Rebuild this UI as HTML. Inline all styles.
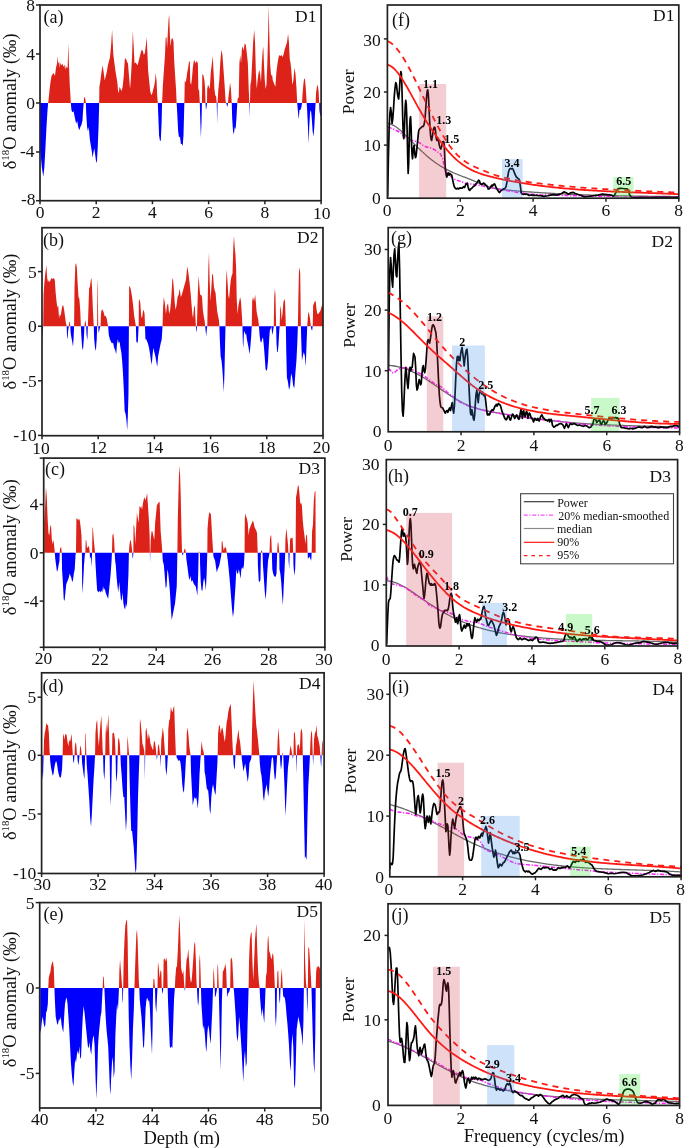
<!DOCTYPE html>
<html><head><meta charset="utf-8"><style>
html,body{margin:0;padding:0;background:#fff;}
body{width:685px;height:1148px;overflow:hidden;font-family:"Liberation Serif",serif;}
svg{display:block;will-change:transform;}
</style></head><body>
<svg width="685" height="1148" viewBox="0 0 685 1148" font-family="'Liberation Serif', serif">
<rect width="100%" height="100%" fill="#fff"/>
<path d="M40.12,103 L40.12,103 L41.81,103 L43.29,103 L44.35,103 L45.41,103 L46.47,103 L47.53,103 L48.16,103 L48.17,103 L48.58,99.49 L49.64,88.91 L50.7,80.44 L51.76,75.15 L52.82,74.09 L53.88,73.03 L54.93,76.21 L55.99,67.74 L57.05,63.51 L57.48,56.1 L58.11,63.51 L59.17,61.39 L59.8,67.74 L60.44,62.45 L61.29,65.62 L62.34,63.51 L63.4,66.68 L64.46,64.56 L65.1,69.86 L65.94,65.62 L66.58,67.74 L67.64,67.74 L68.27,43.4 L68.91,63.51 L69.75,84.67 L70.39,95.26 L70.81,103 L70.81,103 L71.45,103 L72.29,103 L73.56,103 L75.04,103 L76.1,103 L77.16,103 L78.22,103 L79.28,103 L80.34,103 L81.4,103 L82.45,103 L83.09,103 L83.72,103 L83.73,103 L84.15,97.38 L84.78,96.95 L85.42,99.49 L85.83,103 L85.84,103 L86.26,103 L87.11,103 L87.96,103 L88.8,103 L89.86,103 L90.92,103 L91.98,103 L92.61,103 L93.46,103 L94.31,103 L95.15,103 L96,103 L96.85,103 L97.7,103 L98.54,103 L99.18,103 L99.18,103 L99.39,86.79 L100.45,80.44 L101.51,71.97 L102.56,65.62 L103.62,71.97 L104.68,80.44 L105.74,76.21 L106.8,71.97 L107.86,65.62 L108.91,61.39 L109.97,57.15 L111.03,46.57 L112.09,29.64 L112.72,42.34 L113.36,55.04 L114.21,61.39 L115.27,69.86 L116.32,76.21 L117.38,82.56 L118.02,91.02 L118.86,93.14 L119.5,86.79 L120.56,88.91 L121.62,91.02 L122.67,86.79 L123.73,76.21 L124.79,59.27 L125.85,58.21 L126.91,61.39 L127.97,63.51 L129.02,76.21 L130.08,88.91 L131.14,74.09 L132.2,52.92 L132.83,30.69 L133.68,46.57 L134.53,63.51 L135.38,62.45 L136.43,63.51 L137.49,65.62 L138.55,61.39 L139.61,57.15 L140.67,52.92 L141.73,49.75 L142.78,50.8 L143.84,55.04 L144.9,52.92 L145.96,44.45 L146.59,37.04 L147.44,52.92 L148.08,69.86 L149.13,80.44 L150.19,91.02 L151.25,95.26 L152.31,93.14 L153.37,88.91 L154.43,84.67 L155.06,80.44 L155.7,73.03 L156.54,80.44 L157.18,95.26 L157.81,103 L157.81,103 L158.24,103 L159.08,103 L159.93,103 L160.78,103 L161.62,103 L162.05,103 L162.05,103 L162.89,84.67 L163.95,69.86 L165.01,55.04 L165.65,38.1 L166.49,37.04 L167.13,48.69 L167.76,33.87 L168.61,19.05 L169.24,14.82 L169.88,35.99 L170.51,46.57 L171.36,39.16 L172.42,38.1 L173.48,41.28 L174.11,59.27 L175.17,76.21 L176.02,88.91 L176.65,103 L176.65,103 L177.29,103 L178.14,103 L178.98,103 L179.83,103 L180.12,103 L180.89,103 L181.81,103 L182.66,103 L183.5,103 L184.35,103 L184.35,103 L184.77,80.44 L185.62,82.56 L186.47,78.32 L187.31,71.97 L188.16,67.74 L189.01,61.39 L189.85,61.39 L190.28,82.56 L191.12,84.67 L191.97,78.32 L192.82,67.74 L193.66,61.39 L194.51,60.33 L195.36,63.51 L196.2,61.39 L197.05,61.39 L197.9,63.51 L198.32,88.91 L199.17,91.02 L199.8,103 L199.8,103 L200.23,103 L200.86,103 L201.5,103 L201.92,103 L201.92,103 L202.34,74.09 L203.4,75.15 L204.46,80.44 L205.1,88.91 L205.52,103 L205.52,103 L205.94,103 L206.58,103 L207,103 L207,103 L207.21,88.91 L208.06,84.67 L208.91,86.79 L209.75,88.91 L210.81,71.97 L211.87,63.51 L212.72,56.1 L213.56,71.97 L214.41,88.91 L215.26,95.26 L216.1,96.32 L216.73,103 L216.74,103 L217.16,103 L217.59,103 L217.59,103 L218.22,91.02 L219.28,80.44 L220.34,61.39 L221.4,49.75 L222.45,55.04 L223.51,69.86 L224.57,84.67 L225.63,101.61 L226.23,103 L226.26,103 L226.69,103 L227.53,103 L227.96,103 L227.96,103 L228.38,97.38 L229.23,91.02 L230.07,82.56 L230.92,88.91 L231.76,103 L231.77,103 L232.19,103 L233.04,103 L233.88,103 L234.73,103 L235.58,103 L236.43,103 L237.27,103 L237.28,103 L237.7,98.43 L238.75,97.38 L239.39,63.51 L240.24,55.04 L241.08,63.51 L241.93,48.69 L242.78,46.57 L243.62,50.8 L244.68,43.4 L245.74,44.45 L246.8,52.92 L247.86,63.51 L248.7,88.91 L249.33,103 L249.34,103 L249.55,103 L249.97,103 L249.97,103 L250.4,84.67 L251.24,80.44 L252.09,63.51 L253.15,42.34 L254.21,29.64 L255.05,42.34 L255.9,74.09 L256.75,88.91 L257.59,80.44 L258.44,74.09 L259.29,69.86 L260.13,74.09 L260.98,82.56 L261.83,63.51 L262.67,50.8 L263.31,46.57 L263.94,63.51 L264.79,80.44 L265.64,88.91 L266.48,84.67 L267.33,63.51 L268.18,31.75 L268.6,5.29 L269.24,31.75 L270.08,63.51 L271.14,76.21 L271.99,74.09 L272.83,80.44 L273.68,82.56 L274.53,84.67 L275.38,86.79 L276.43,71.97 L277.49,63.51 L278.55,57.15 L279.61,55.04 L280.67,56.1 L281.73,55.04 L282.78,57.15 L283.84,52.92 L284.9,48.69 L285.96,45.51 L287.02,42.34 L288.08,33.87 L288.92,42.34 L289.77,59.27 L290.62,63.51 L291.46,71.97 L292.31,84.67 L293.37,80.44 L294.43,67.74 L295.49,74.09 L296.54,88.91 L297.17,103 L297.18,103 L297.81,103 L298.66,103 L299.51,103 L300.35,103 L301.2,103 L302.05,103 L302.05,103 L302.47,95.26 L303.32,84.67 L304.16,78.32 L305.01,79.38 L305.86,88.91 L306.7,103 L306.7,103 L307.13,103 L307.97,103 L308.61,103 L309.24,103 L310.09,103 L310.94,103 L311.78,103 L312.63,103 L313.48,103 L314.33,103 L315.17,103 L315.6,103 L315.6,103 L316.02,93.14 L316.87,86.79 L317.71,84.67 L318.56,91.02 L319.19,103 L319.19,103 L319.41,103 L320.25,103 L320.89,103 L320.89,103Z" fill="#dd2319"/>
<path d="M40.12,103 L40.12,148.18 L41.81,167.23 L43.29,176.76 L44.35,167.23 L45.41,148.18 L46.47,127.01 L47.53,110.08 L48.16,103.09 L48.17,103 L48.58,103 L49.64,103 L50.7,103 L51.76,103 L52.82,103 L53.88,103 L54.93,103 L55.99,103 L57.05,103 L57.48,103 L58.11,103 L59.17,103 L59.8,103 L60.44,103 L61.29,103 L62.34,103 L63.4,103 L64.46,103 L65.1,103 L65.94,103 L66.58,103 L67.64,103 L68.27,103 L68.91,103 L69.75,103 L70.39,103 L70.81,103 L70.81,103.09 L71.45,110.08 L72.29,112.19 L73.56,111.13 L75.04,118.54 L76.1,123.84 L77.16,120.66 L78.22,127.01 L79.28,130.19 L80.34,127.01 L81.4,124.89 L82.45,120.66 L83.09,110.08 L83.72,103.09 L83.73,103 L84.15,103 L84.78,103 L85.42,103 L85.83,103 L85.84,103.09 L86.26,114.31 L87.11,127.01 L87.96,131.24 L88.8,127.01 L89.86,139.71 L90.92,146.06 L91.98,152.41 L92.61,157.71 L93.46,152.41 L94.31,148.18 L95.15,154.53 L96,160.88 L96.85,163 L97.7,148.18 L98.54,127.01 L99.18,103.09 L99.18,103 L99.39,103 L100.45,103 L101.51,103 L102.56,103 L103.62,103 L104.68,103 L105.74,103 L106.8,103 L107.86,103 L108.91,103 L109.97,103 L111.03,103 L112.09,103 L112.72,103 L113.36,103 L114.21,103 L115.27,103 L116.32,103 L117.38,103 L118.02,103 L118.86,103 L119.5,103 L120.56,103 L121.62,103 L122.67,103 L123.73,103 L124.79,103 L125.85,103 L126.91,103 L127.97,103 L129.02,103 L130.08,103 L131.14,103 L132.2,103 L132.83,103 L133.68,103 L134.53,103 L135.38,103 L136.43,103 L137.49,103 L138.55,103 L139.61,103 L140.67,103 L141.73,103 L142.78,103 L143.84,103 L144.9,103 L145.96,103 L146.59,103 L147.44,103 L148.08,103 L149.13,103 L150.19,103 L151.25,103 L152.31,103 L153.37,103 L154.43,103 L155.06,103 L155.7,103 L156.54,103 L157.18,103 L157.81,103 L157.81,103.09 L158.24,114.31 L159.08,135.48 L159.93,140.77 L160.78,140.77 L161.62,122.78 L162.05,103.09 L162.05,103 L162.89,103 L163.95,103 L165.01,103 L165.65,103 L166.49,103 L167.13,103 L167.76,103 L168.61,103 L169.24,103 L169.88,103 L170.51,103 L171.36,103 L172.42,103 L173.48,103 L174.11,103 L175.17,103 L176.02,103 L176.65,103 L176.65,103.09 L177.29,114.31 L178.14,131.24 L178.98,137.6 L179.83,136.54 L180.12,137.6 L180.89,143.95 L181.81,143.95 L182.66,146.06 L183.5,135.48 L184.35,103.09 L184.35,103 L184.77,103 L185.62,103 L186.47,103 L187.31,103 L188.16,103 L189.01,103 L189.85,103 L190.28,103 L191.12,103 L191.97,103 L192.82,103 L193.66,103 L194.51,103 L195.36,103 L196.2,103 L197.05,103 L197.9,103 L198.32,103 L199.17,103 L199.8,103 L199.8,103.09 L200.23,118.54 L200.86,137.6 L201.5,122.78 L201.92,103.09 L201.92,103 L202.34,103 L203.4,103 L204.46,103 L205.1,103 L205.52,103 L205.52,103.09 L205.94,110.08 L206.58,106.9 L207,103.09 L207,103 L207.21,103 L208.06,103 L208.91,103 L209.75,103 L210.81,103 L211.87,103 L212.72,103 L213.56,103 L214.41,103 L215.26,103 L216.1,103 L216.73,103 L216.74,103.09 L217.16,123.84 L217.59,103.09 L217.59,103 L218.22,103 L219.28,103 L220.34,103 L221.4,103 L222.45,103 L223.51,103 L224.57,103 L225.63,103 L226.23,103 L226.26,103.09 L226.69,104.78 L227.53,106.9 L227.96,103.09 L227.96,103 L228.38,103 L229.23,103 L230.07,103 L230.92,103 L231.76,103 L231.77,103.09 L232.19,118.54 L233.04,131.24 L233.88,134.42 L234.73,127.01 L235.58,129.13 L236.43,118.54 L237.27,103.09 L237.28,103 L237.7,103 L238.75,103 L239.39,103 L240.24,103 L241.08,103 L241.93,103 L242.78,103 L243.62,103 L244.68,103 L245.74,103 L246.8,103 L247.86,103 L248.7,103 L249.33,103 L249.34,103.09 L249.55,117.49 L249.97,103.09 L249.97,103 L250.4,103 L251.24,103 L252.09,103 L253.15,103 L254.21,103 L255.05,103 L255.9,103 L256.75,103 L257.59,103 L258.44,103 L259.29,103 L260.13,103 L260.98,103 L261.83,103 L262.67,103 L263.31,103 L263.94,103 L264.79,103 L265.64,103 L266.48,103 L267.33,103 L268.18,103 L268.6,103 L269.24,103 L270.08,103 L271.14,103 L271.99,103 L272.83,103 L273.68,103 L274.53,103 L275.38,103 L276.43,103 L277.49,103 L278.55,103 L279.61,103 L280.67,103 L281.73,103 L282.78,103 L283.84,103 L284.9,103 L285.96,103 L287.02,103 L288.08,103 L288.92,103 L289.77,103 L290.62,103 L291.46,103 L292.31,103 L293.37,103 L294.43,103 L295.49,103 L296.54,103 L297.17,103 L297.18,103.09 L297.81,110.08 L298.66,119.6 L299.51,110.08 L300.35,110.08 L301.2,107.96 L302.05,103.09 L302.05,103 L302.47,103 L303.32,103 L304.16,103 L305.01,103 L305.86,103 L306.7,103 L306.7,103.09 L307.13,110.08 L307.97,127.01 L308.61,143.95 L309.24,127.01 L310.09,112.19 L310.94,110.08 L311.78,118.54 L312.63,131.24 L313.48,136.54 L314.33,127.01 L315.17,110.08 L315.6,103.09 L315.6,103 L316.02,103 L316.87,103 L317.71,103 L318.56,103 L319.19,103 L319.19,103.09 L319.41,110.08 L320.25,116.43 L320.89,114.31 L320.89,103Z" fill="#0000ff"/>
<rect x="40.0" y="5.0" width="281.10" height="195.70" fill="none" stroke="#222" stroke-width="1.7"/>
<line x1="36.0" y1="5.0" x2="40.0" y2="5.0" stroke="#222" stroke-width="1.5"/>
<line x1="36.0" y1="54.0" x2="40.0" y2="54.0" stroke="#222" stroke-width="1.5"/>
<line x1="36.0" y1="103.0" x2="40.0" y2="103.0" stroke="#222" stroke-width="1.5"/>
<line x1="36.0" y1="152.0" x2="40.0" y2="152.0" stroke="#222" stroke-width="1.5"/>
<line x1="36.0" y1="200.7" x2="40.0" y2="200.7" stroke="#222" stroke-width="1.5"/>
<line x1="40.00" y1="200.7" x2="40.00" y2="204.2" stroke="#222" stroke-width="1.5"/>
<line x1="96.22" y1="200.7" x2="96.22" y2="204.2" stroke="#222" stroke-width="1.5"/>
<line x1="152.44" y1="200.7" x2="152.44" y2="204.2" stroke="#222" stroke-width="1.5"/>
<line x1="208.66" y1="200.7" x2="208.66" y2="204.2" stroke="#222" stroke-width="1.5"/>
<line x1="264.88" y1="200.7" x2="264.88" y2="204.2" stroke="#222" stroke-width="1.5"/>
<line x1="321.10" y1="200.7" x2="321.10" y2="204.2" stroke="#222" stroke-width="1.5"/>
<path d="M42.12,326.2 L42.12,326.2 L42.75,326.2 L43.16,326.2 L43.18,325.97 L43.6,294.86 L44.23,284.27 L45.29,273.69 L46.35,265.22 L47.2,277.92 L48.04,282.15 L48.89,280.04 L49.74,282.15 L50.58,280.04 L51.64,277.92 L52.7,278.98 L53.76,277.92 L54.82,280.04 L55.66,292.74 L56.51,301.21 L57.36,307.56 L58.2,305.44 L59.05,318.14 L59.9,313.91 L60.75,316.02 L61.59,309.67 L62.44,305.44 L63.29,305.44 L64.13,309.67 L64.98,316.02 L65.83,322.38 L66.67,325.97 L66.68,326.2 L67.1,326.2 L67.52,326.2 L68.15,326.2 L68.76,326.2 L68.79,325.97 L69.21,322.38 L69.64,321.32 L70.27,325.97 L70.28,326.2 L70.69,326.2 L71.33,326.2 L72.18,326.2 L73.02,326.2 L73.66,326.2 L74.07,326.2 L74.08,325.97 L74.5,288.51 L75.35,265.22 L75.99,263.1 L76.83,267.34 L77.68,284.27 L78.53,296.97 L79.37,299.09 L80.22,309.67 L80.86,325.97 L80.87,326.2 L81.28,326.2 L82.13,326.2 L82.97,326.2 L83.82,326.2 L84.44,326.2 L84.45,325.97 L84.88,322.38 L85.51,320.26 L86.15,325.97 L86.16,326.2 L86.57,326.2 L87.42,326.2 L87.83,326.2 L87.84,325.97 L88.26,313.91 L89.11,288.51 L89.96,286.39 L90.8,280.04 L91.44,277.92 L92.07,288.51 L92.92,309.67 L93.77,325.97 L93.78,326.2 L94.19,326.2 L95.04,326.2 L95.88,326.2 L96.73,326.2 L97.15,326.2 L97.15,325.97 L97.37,277.92 L97.79,288.51 L98.21,325.97 L98.23,326.2 L98.64,326.2 L99.27,326.2 L99.91,326.2 L100.46,326.2 L100.54,325.97 L100.97,313.91 L101.6,309.67 L102.45,309.67 L103.51,311.79 L104.56,316.02 L105.62,316.02 L106.68,318.14 L107.74,324.49 L108.16,325.97 L108.18,326.2 L108.8,326.2 L109.86,326.2 L110.91,326.2 L111.97,326.2 L113.03,326.2 L114.09,326.2 L115.15,326.2 L116.21,326.2 L117.05,326.2 L117.9,326.2 L118.75,326.2 L119.59,326.2 L120.44,326.2 L121.29,326.2 L122.13,326.2 L122.98,326.2 L123.83,326.2 L124.67,326.2 L125.52,326.2 L126.37,326.2 L127.21,326.2 L127.85,326.2 L128.48,326.2 L128.91,326.2 L128.91,325.97 L129.12,286.39 L129.97,286.39 L131.02,290.62 L132.08,296.97 L133.14,305.44 L134.2,316.02 L135.26,322.38 L135.89,325.97 L135.9,326.2 L136.32,326.2 L136.95,326.2 L137.8,326.2 L138.63,326.2 L138.65,325.97 L138.86,301.21 L139.49,299.09 L140.34,303.32 L141.19,316.02 L142.03,318.14 L142.88,311.79 L143.73,309.67 L144.57,313.91 L145,325.97 L145,326.2 L145.42,326.2 L146.27,326.2 L147.11,326.2 L147.96,326.2 L149.02,326.2 L150.08,326.2 L150.92,326.2 L151.77,326.2 L152.62,326.2 L153.46,326.2 L154.31,326.2 L155.37,326.2 L156.43,326.2 L157.27,326.2 L158.12,326.2 L158.97,326.2 L159.81,326.2 L160.66,326.2 L161.72,326.2 L162.55,326.2 L162.57,325.97 L162.99,309.67 L163.84,296.97 L164.89,303.32 L165.95,313.91 L167.01,305.44 L168.07,303.32 L169.13,313.91 L170.19,309.67 L171.24,299.09 L172.3,280.04 L172.94,277.92 L173.78,288.51 L174.63,301.21 L175.48,309.67 L176.54,305.44 L177.6,296.97 L178.65,294.86 L179.71,288.51 L180.77,296.97 L181.83,294.86 L185.93,280.04 L186.77,271.57 L187.41,266.28 L188.47,273.69 L189.53,282.15 L190.58,292.74 L191.64,305.44 L192.28,313.91 L193.12,318.14 L193.97,307.56 L194.82,305.44 L195.45,318.14 L195.88,325.97 L195.89,326.2 L196.09,326.2 L196.51,326.2 L196.92,326.2 L196.93,325.97 L197.36,309.67 L197.99,288.51 L198.63,275.8 L199.26,284.27 L200.11,294.86 L201.17,294.86 L202.02,296.97 L202.86,309.67 L203.71,316.02 L204.56,320.26 L205.19,325.97 L205.21,326.2 L205.61,326.2 L206.25,326.2 L206.88,326.2 L207.27,326.2 L207.31,325.97 L207.73,299.09 L208.37,267.34 L209,252.52 L209.64,280.04 L210.48,301.21 L211.33,288.51 L212.18,273.69 L213.02,274.75 L213.87,286.39 L214.72,290.62 L215.56,292.74 L216.41,303.32 L217.26,311.79 L218.1,316.02 L218.95,320.26 L219.37,325.97 L219.38,326.2 L219.8,326.2 L220.64,326.2 L221.49,326.2 L222.34,326.2 L223.18,326.2 L223.82,326.2 L224.45,326.2 L225.09,326.2 L225.51,326.2 L225.51,325.97 L225.94,288.51 L226.57,269.45 L227.42,280.04 L228.26,294.86 L229.11,299.09 L229.96,288.51 L230.8,280.04 L231.65,275.8 L232.5,273.69 L233.34,246.17 L233.98,235.58 L234.61,246.17 L235.46,254.64 L236.1,267.34 L236.73,299.09 L237.58,313.91 L238.43,305.44 L239.27,301.21 L240.12,296.97 L240.97,301.21 L241.81,313.91 L242.45,325.97 L242.45,326.2 L242.87,326.2 L243.29,326.2 L243.93,326.2 L244.56,326.2 L245.2,326.2 L246.05,326.2 L246.89,326.2 L247.74,326.2 L248.59,326.2 L249.43,326.2 L250.28,326.2 L251.13,326.2 L251.75,326.2 L251.76,325.97 L252.18,301.21 L253.03,296.97 L254.09,301.21 L255.15,294.86 L255.78,301.21 L256.63,311.79 L257.48,316.02 L258.32,320.26 L258.96,325.97 L258.97,326.2 L259.59,326.2 L260.44,326.2 L261.29,326.2 L262.13,326.2 L262.98,326.2 L263.83,326.2 L264.67,326.2 L265.52,326.2 L266.37,326.2 L267.21,326.2 L268.06,326.2 L268.91,326.2 L269.75,326.2 L270.6,326.2 L271.45,326.2 L272.29,326.2 L273.14,326.2 L273.75,326.2 L273.78,325.97 L274.2,299.09 L274.83,288.51 L275.47,294.86 L276.1,325.97 L276.11,326.2 L276.53,326.2 L277.16,326.2 L277.8,326.2 L278.43,326.2 L279.28,326.2 L279.68,326.2 L279.7,325.97 L280.13,309.67 L280.76,305.44 L281.61,320.26 L282.46,313.91 L283.3,303.32 L284.15,299.09 L285,301.21 L285.84,325.97 L285.85,326.2 L286.27,326.2 L286.9,326.2 L287.96,326.2 L289.02,326.2 L290.08,326.2 L291.13,326.2 L292.19,326.2 L293.25,326.2 L294.31,326.2 L295.37,326.2 L296.43,326.2 L297.27,326.2 L297.9,326.2 L297.91,325.97 L298.33,299.09 L298.97,271.57 L299.6,267.34 L300.24,273.69 L300.87,325.97 L300.88,326.2 L301.3,326.2 L301.93,326.2 L302.78,326.2 L303.84,326.2 L304.89,326.2 L305.74,326.2 L306.59,326.2 L307.21,326.2 L307.22,325.97 L307.65,320.26 L308.28,311.79 L309.13,313.91 L309.97,318.14 L310.82,325.97 L310.86,326.2 L311.24,326.2 L312.09,326.2 L312.7,326.2 L312.73,325.97 L313.15,305.44 L314,303.32 L314.84,301.21 L315.69,301.21 L316.54,309.67 L317.38,313.91 L318.23,313.91 L319.08,312.85 L319.92,311.79 L320.77,309.67 L321.83,305.44 L322.89,305.44 L322.89,326.2Z" fill="#dd2319"/>
<path d="M42.12,326.2 L42.12,339.31 L42.75,330.84 L43.16,326.2 L43.18,326.2 L43.6,326.2 L44.23,326.2 L45.29,326.2 L46.35,326.2 L47.2,326.2 L48.04,326.2 L48.89,326.2 L49.74,326.2 L50.58,326.2 L51.64,326.2 L52.7,326.2 L53.76,326.2 L54.82,326.2 L55.66,326.2 L56.51,326.2 L57.36,326.2 L58.2,326.2 L59.05,326.2 L59.9,326.2 L60.75,326.2 L61.59,326.2 L62.44,326.2 L63.29,326.2 L64.13,326.2 L64.98,326.2 L65.83,326.2 L66.67,326.2 L66.68,326.2 L67.1,337.19 L67.52,339.31 L68.15,330.84 L68.76,326.2 L68.79,326.2 L69.21,326.2 L69.64,326.2 L70.27,326.2 L70.28,326.2 L70.69,332.96 L71.33,337.19 L72.18,341.43 L73.02,346.72 L73.66,337.19 L74.07,326.2 L74.08,326.2 L74.5,326.2 L75.35,326.2 L75.99,326.2 L76.83,326.2 L77.68,326.2 L78.53,326.2 L79.37,326.2 L80.22,326.2 L80.86,326.2 L80.87,326.2 L81.28,335.08 L82.13,347.78 L82.97,349.89 L83.82,339.31 L84.44,326.2 L84.45,326.2 L84.88,326.2 L85.51,326.2 L86.15,326.2 L86.16,326.2 L86.57,335.08 L87.42,340.37 L87.83,326.2 L87.84,326.2 L88.26,326.2 L89.11,326.2 L89.96,326.2 L90.8,326.2 L91.44,326.2 L92.07,326.2 L92.92,326.2 L93.77,326.2 L93.78,326.2 L94.19,339.31 L95.04,347.78 L95.88,350.95 L96.73,339.31 L97.15,326.2 L97.15,326.2 L97.37,326.2 L97.79,326.2 L98.21,326.2 L98.23,326.2 L98.64,332.96 L99.27,330.84 L99.91,327.67 L100.46,326.2 L100.54,326.2 L100.97,326.2 L101.6,326.2 L102.45,326.2 L103.51,326.2 L104.56,326.2 L105.62,326.2 L106.68,326.2 L107.74,326.2 L108.16,326.2 L108.18,326.2 L108.8,335.08 L109.86,339.31 L110.91,341.43 L111.97,343.54 L113.03,342.49 L114.09,347.78 L115.15,349.89 L116.21,354.13 L117.05,343.54 L117.9,339.31 L118.75,343.54 L119.59,341.43 L120.44,347.78 L121.29,352.01 L122.13,360.48 L122.98,373.18 L123.83,390.11 L124.67,411.28 L125.52,413.4 L126.37,419.75 L127.21,430.33 L127.85,415.52 L128.48,394.35 L128.91,326.2 L128.91,326.2 L129.12,326.2 L129.97,326.2 L131.02,326.2 L132.08,326.2 L133.14,326.2 L134.2,326.2 L135.26,326.2 L135.89,326.2 L135.9,326.2 L136.32,341.43 L136.95,342.49 L137.8,342.49 L138.63,326.2 L138.65,326.2 L138.86,326.2 L139.49,326.2 L140.34,326.2 L141.19,326.2 L142.03,326.2 L142.88,326.2 L143.73,326.2 L144.57,326.2 L145,326.2 L145,326.2 L145.42,339.31 L146.27,339.31 L147.11,341.43 L147.96,343.54 L149.02,347.78 L150.08,354.13 L150.92,360.48 L151.77,364.71 L152.62,354.13 L153.46,347.78 L154.31,352.01 L155.37,356.24 L156.43,362.6 L157.27,366.83 L158.12,356.24 L158.97,352.01 L159.81,347.78 L160.66,343.54 L161.72,339.31 L162.55,326.2 L162.57,326.2 L162.99,326.2 L163.84,326.2 L164.89,326.2 L165.95,326.2 L167.01,326.2 L168.07,326.2 L169.13,326.2 L170.19,326.2 L171.24,326.2 L172.3,326.2 L172.94,326.2 L173.78,326.2 L174.63,326.2 L175.48,326.2 L176.54,326.2 L177.6,326.2 L178.65,326.2 L179.71,326.2 L180.77,326.2 L181.83,326.2 L185.93,326.2 L186.77,326.2 L187.41,326.2 L188.47,326.2 L189.53,326.2 L190.58,326.2 L191.64,326.2 L192.28,326.2 L193.12,326.2 L193.97,326.2 L194.82,326.2 L195.45,326.2 L195.88,326.2 L195.89,326.2 L196.09,330.84 L196.51,331.9 L196.92,326.2 L196.93,326.2 L197.36,326.2 L197.99,326.2 L198.63,326.2 L199.26,326.2 L200.11,326.2 L201.17,326.2 L202.02,326.2 L202.86,326.2 L203.71,326.2 L204.56,326.2 L205.19,326.2 L205.21,326.2 L205.61,330.84 L206.25,336.13 L206.88,328.73 L207.27,326.2 L207.31,326.2 L207.73,326.2 L208.37,326.2 L209,326.2 L209.64,326.2 L210.48,326.2 L211.33,326.2 L212.18,326.2 L213.02,326.2 L213.87,326.2 L214.72,326.2 L215.56,326.2 L216.41,326.2 L217.26,326.2 L218.1,326.2 L218.95,326.2 L219.37,326.2 L219.38,326.2 L219.8,339.31 L220.64,356.24 L221.49,360.48 L222.34,368.95 L223.18,381.65 L223.82,392.23 L224.45,373.18 L225.09,343.54 L225.51,326.2 L225.51,326.2 L225.94,326.2 L226.57,326.2 L227.42,326.2 L228.26,326.2 L229.11,326.2 L229.96,326.2 L230.8,326.2 L231.65,326.2 L232.5,326.2 L233.34,326.2 L233.98,326.2 L234.61,326.2 L235.46,326.2 L236.1,326.2 L236.73,326.2 L237.58,326.2 L238.43,326.2 L239.27,326.2 L240.12,326.2 L240.97,326.2 L241.81,326.2 L242.45,326.2 L242.45,326.2 L242.87,343.54 L243.29,347.78 L243.93,332.96 L244.56,330.84 L245.2,335.08 L246.05,332.96 L246.89,339.31 L247.74,343.54 L248.59,347.78 L249.43,354.13 L250.28,347.78 L251.13,337.19 L251.75,326.2 L251.76,326.2 L252.18,326.2 L253.03,326.2 L254.09,326.2 L255.15,326.2 L255.78,326.2 L256.63,326.2 L257.48,326.2 L258.32,326.2 L258.96,326.2 L258.97,326.2 L259.59,335.08 L260.44,341.43 L261.29,342.49 L262.13,339.31 L262.98,337.19 L263.83,345.66 L264.67,356.24 L265.52,368.95 L266.37,371.06 L267.21,368.95 L268.06,360.48 L268.91,343.54 L269.75,330.84 L270.6,328.73 L271.45,326.61 L272.29,335.08 L273.14,330.84 L273.75,326.2 L273.78,326.2 L274.2,326.2 L274.83,326.2 L275.47,326.2 L276.1,326.2 L276.11,326.2 L276.53,343.54 L277.16,352.01 L277.8,352.01 L278.43,345.66 L279.28,330.84 L279.68,326.2 L279.7,326.2 L280.13,326.2 L280.76,326.2 L281.61,326.2 L282.46,326.2 L283.3,326.2 L284.15,326.2 L285,326.2 L285.84,326.2 L285.85,326.2 L286.27,352.01 L286.9,377.41 L287.96,381.65 L289.02,390.11 L290.08,385.88 L291.13,373.18 L292.19,377.41 L293.25,385.88 L294.31,388 L295.37,373.18 L296.43,360.48 L297.27,343.54 L297.9,326.2 L297.91,326.2 L298.33,326.2 L298.97,326.2 L299.6,326.2 L300.24,326.2 L300.87,326.2 L300.88,326.2 L301.3,341.43 L301.93,360.48 L302.78,356.24 L303.84,352.01 L304.89,356.24 L305.74,366.83 L306.59,343.54 L307.21,326.2 L307.22,326.2 L307.65,326.2 L308.28,326.2 L309.13,326.2 L309.97,326.2 L310.82,326.2 L310.86,326.2 L311.24,328.73 L312.09,330.84 L312.7,326.2 L312.73,326.2 L313.15,326.2 L314,326.2 L314.84,326.2 L315.69,326.2 L316.54,326.2 L317.38,326.2 L318.23,326.2 L319.08,326.2 L319.92,326.2 L320.77,326.2 L321.83,326.2 L322.89,326.2 L322.89,326.2Z" fill="#0000ff"/>
<rect x="42.0" y="227.7" width="281.00" height="208.00" fill="none" stroke="#222" stroke-width="1.7"/>
<line x1="38.0" y1="271.6" x2="42.0" y2="271.6" stroke="#222" stroke-width="1.5"/>
<line x1="38.0" y1="326.2" x2="42.0" y2="326.2" stroke="#222" stroke-width="1.5"/>
<line x1="38.0" y1="380.8" x2="42.0" y2="380.8" stroke="#222" stroke-width="1.5"/>
<line x1="38.0" y1="435.4" x2="42.0" y2="435.4" stroke="#222" stroke-width="1.5"/>
<line x1="42.00" y1="435.7" x2="42.00" y2="439.2" stroke="#222" stroke-width="1.5"/>
<line x1="98.20" y1="435.7" x2="98.20" y2="439.2" stroke="#222" stroke-width="1.5"/>
<line x1="154.40" y1="435.7" x2="154.40" y2="439.2" stroke="#222" stroke-width="1.5"/>
<line x1="210.60" y1="435.7" x2="210.60" y2="439.2" stroke="#222" stroke-width="1.5"/>
<line x1="266.80" y1="435.7" x2="266.80" y2="439.2" stroke="#222" stroke-width="1.5"/>
<line x1="323.00" y1="435.7" x2="323.00" y2="439.2" stroke="#222" stroke-width="1.5"/>
<path d="M44.23,552.8 L44.23,522.74 L45.08,507.92 L45.93,486.75 L46.77,497.34 L47.62,518.51 L48.47,533.32 L49.31,535.44 L50.16,526.97 L51.01,524.86 L51.85,539.67 L52.7,543.91 L53.55,539.67 L54.39,548.14 L54.82,552.8 L54.82,552.8 L55.24,552.8 L56.09,552.8 L56.93,552.8 L57.78,552.8 L58.63,552.8 L59.48,552.8 L59.69,552.8 L59.69,552.8 L60.11,548.14 L61.17,547.08 L61.8,552.8 L61.8,552.8 L62.02,552.8 L62.86,552.8 L63.71,552.8 L64.56,552.8 L65.4,552.8 L66.25,552.8 L67.1,552.8 L67.94,552.8 L68.79,552.8 L69.64,552.8 L70.48,552.8 L71.33,552.8 L72.18,552.8 L73.02,552.8 L73.87,552.8 L74.72,552.8 L75.56,552.8 L75.99,552.8 L75.99,552.8 L76.41,518.51 L77.26,518.51 L78.1,520.62 L78.95,518.51 L79.8,520.62 L80.64,526.97 L81.49,535.44 L81.91,552.8 L81.91,552.8 L82.13,552.8 L82.55,552.8 L83.18,552.8 L84.03,552.8 L84.88,552.8 L85.3,552.8 L85.3,552.8 L85.72,539.67 L86.36,540.73 L86.99,548.14 L87.84,547.08 L88.69,546.02 L89.32,548.14 L89.75,552.8 L89.75,552.8 L89.96,552.8 L90.8,552.8 L91.44,552.8 L92.07,552.8 L92.07,552.8 L92.5,526.97 L92.92,528.03 L93.77,539.67 L94.61,548.14 L95.04,552.8 L95.04,552.8 L95.46,552.8 L96.31,552.8 L97.15,552.8 L98,552.8 L98.85,552.8 L99.7,552.8 L100.54,552.8 L101.39,552.8 L102.24,552.8 L103.08,552.8 L103.93,552.8 L104.78,552.8 L105.62,552.8 L106.47,552.8 L107.32,552.8 L108.16,552.8 L109.01,552.8 L109.86,552.8 L110.7,552.8 L111.55,552.8 L111.97,552.8 L111.97,552.8 L112.4,535.44 L113.24,533.32 L114.09,539.67 L114.72,552.8 L114.72,552.8 L115.15,552.8 L115.78,552.8 L116.63,552.8 L117.48,552.8 L118.32,552.8 L119.17,552.8 L120.02,552.8 L120.86,552.8 L121.71,552.8 L122.56,552.8 L123.4,552.8 L124.25,552.8 L125.1,552.8 L125.94,552.8 L126.79,552.8 L127.64,552.8 L128.48,552.8 L128.91,552.8 L128.91,552.8 L129.33,546.02 L130.18,539.67 L131.02,541.79 L131.87,548.14 L132.29,552.8 L132.29,552.8 L132.51,552.8 L133.14,552.8 L133.35,552.8 L133.35,552.8 L133.56,524.86 L134.41,526.97 L135.26,543.91 L136.1,529.09 L136.95,512.15 L137.8,518.51 L138.65,522.74 L139.49,505.8 L140.34,507.92 L141.19,505.8 L142.03,510.04 L142.88,503.69 L143.73,499.45 L144.57,497.34 L145.42,500.51 L146.27,497.34 L147.11,493.1 L147.96,505.8 L148.81,518.51 L149.65,535.44 L149.86,552.8 L149.86,552.8 L150.08,552.8 L150.29,552.8 L150.29,552.8 L150.71,539.67 L151.56,531.21 L152.4,531.21 L153.25,535.44 L154.31,539.67 L155.16,522.74 L156,514.27 L156.85,505.8 L157.7,503.69 L158.54,502.63 L159.6,501.57 L160.66,531.21 L161.72,543.91 L162.35,552.8 L162.35,552.8 L162.78,552.8 L163.84,552.8 L164.89,552.8 L165.74,552.8 L166.59,552.8 L167.43,552.8 L168.28,552.8 L169.13,552.8 L169.97,552.8 L170.82,552.8 L171.67,552.8 L172.51,552.8 L173.36,552.8 L174.21,552.8 L175.06,552.8 L175.9,552.8 L176.75,552.8 L177.38,552.8 L177.38,552.8 L177.81,518.51 L178.65,486.75 L179.29,465.58 L180.14,476.17 L180.77,497.34 L181.41,529.09 L182.04,552.8 L182.04,552.8 L182.46,552.8 L183.1,552.8 L183.52,552.8 L183.52,552.8 L184.66,548.14 L185.5,550.26 L185.93,552.8 L185.93,552.8 L186.35,552.8 L187.2,552.8 L188.04,552.8 L188.89,552.8 L189.74,552.8 L190.58,552.8 L191.43,552.8 L192.28,552.8 L193.12,552.8 L193.97,552.8 L194.82,552.8 L195.66,552.8 L196.51,552.8 L197.36,552.8 L198.2,552.8 L198.63,552.8 L198.63,552.8 L198.84,551.32 L199.48,551.95 L199.9,552.8 L199.9,552.8 L200.11,552.8 L200.75,552.8 L201.59,552.8 L202.44,552.8 L203.29,552.8 L204.13,552.8 L204.98,552.8 L205.83,552.8 L206.67,552.8 L207.31,552.8 L207.31,552.8 L207.52,529.09 L208.37,518.51 L209.21,512.15 L210.06,513.21 L210.91,514.27 L211.75,529.09 L212.6,543.91 L213.23,552.8 L213.23,552.8 L213.45,552.8 L214.29,552.8 L215.14,552.8 L215.99,552.8 L216.83,552.8 L217.68,552.8 L218.53,552.8 L219.37,552.8 L220.22,552.8 L221.07,552.8 L221.49,552.8 L221.49,552.8 L221.7,541.79 L222.34,540.73 L222.97,546.02 L223.61,550.26 L224.45,548.14 L225.3,547.08 L226.15,548.14 L226.78,552.8 L226.78,552.8 L226.99,552.8 L227.84,552.8 L228.69,552.8 L229.53,552.8 L230.38,552.8 L231.23,552.8 L232.07,552.8 L232.92,552.8 L233.77,552.8 L234.61,552.8 L235.46,552.8 L236.31,552.8 L237.15,552.8 L238,552.8 L238.85,552.8 L239.7,552.8 L240.54,552.8 L241.39,552.8 L242.24,552.8 L243.08,552.8 L243.93,552.8 L244.56,552.8 L244.56,552.8 L244.78,518.51 L245.41,513.21 L246.05,516.39 L246.89,518.51 L247.74,522.74 L248.59,535.44 L249.43,529.09 L250.28,526.97 L251.13,524.86 L251.97,522.74 L252.82,520.62 L253.67,522.74 L254.51,526.97 L255.36,529.09 L256.21,530.15 L257.05,533.32 L257.69,552.8 L257.69,552.8 L257.9,552.8 L258.75,552.8 L259.59,552.8 L260.44,552.8 L260.86,552.8 L260.86,552.8 L261.29,550.26 L262.13,551.32 L262.56,552.8 L262.56,552.8 L262.98,552.8 L263.83,552.8 L264.67,552.8 L265.52,552.8 L266.37,552.8 L267.21,552.8 L268.06,552.8 L268.91,552.8 L269.54,552.8 L269.54,552.8 L269.97,539.67 L270.6,535.44 L271.24,535.44 L271.87,552.8 L271.87,552.8 L272.29,552.8 L273.14,552.8 L273.99,552.8 L274.83,552.8 L275.68,552.8 L276.53,552.8 L277.16,552.8 L277.16,552.8 L277.59,543.91 L278.22,541.79 L278.86,548.14 L279.28,552.8 L279.28,552.8 L279.49,552.8 L280.34,552.8 L281.19,552.8 L282.03,552.8 L282.88,552.8 L283.73,552.8 L284.57,552.8 L285.21,552.8 L285.21,552.8 L285.42,539.67 L286.27,528.03 L287.11,535.44 L287.96,543.91 L288.38,552.8 L288.38,552.8 L288.59,552.8 L289.23,552.8 L289.65,552.8 L289.65,552.8 L290.08,539.67 L290.92,537.56 L291.77,538.62 L292.62,537.56 L293.25,552.8 L293.25,552.8 L293.46,552.8 L294.31,552.8 L295.16,552.8 L295.58,552.8 L295.58,552.8 L296,497.34 L296.85,493.1 L297.7,486.75 L298.54,484.64 L299.39,493.1 L300.24,503.69 L301.08,502.63 L301.93,505.8 L302.78,520.62 L303.62,529.09 L304.47,535.44 L305.32,543.91 L306.16,535.44 L307.01,534.38 L307.65,552.8 L307.65,552.8 L307.86,552.8 L308.7,552.8 L309.55,552.8 L310.4,552.8 L311.24,552.8 L311.67,552.8 L311.67,552.8 L312.09,531.21 L312.94,524.86 L313.78,501.57 L314.63,492.04 L315.48,490.99 L315.69,552.8 L315.69,552.8Z" fill="#dd2319"/>
<path d="M44.23,552.8 L44.23,552.8 L45.08,552.8 L45.93,552.8 L46.77,552.8 L47.62,552.8 L48.47,552.8 L49.31,552.8 L50.16,552.8 L51.01,552.8 L51.85,552.8 L52.7,552.8 L53.55,552.8 L54.39,552.8 L54.82,552.8 L54.82,552.8 L55.24,558.73 L56.09,565.08 L56.93,571.43 L57.78,570.37 L58.63,565.08 L59.48,560.84 L59.69,552.8 L59.69,552.8 L60.11,552.8 L61.17,552.8 L61.8,552.8 L61.8,552.8 L62.02,569.31 L62.86,582.01 L63.71,598.95 L64.56,601.06 L65.4,592.6 L66.25,584.13 L67.1,582.01 L67.94,579.89 L68.79,577.78 L69.64,573.54 L70.48,575.66 L71.33,577.78 L72.18,582.01 L73.02,579.89 L73.87,573.54 L74.72,569.31 L75.56,554.49 L75.99,552.8 L75.99,552.8 L76.41,552.8 L77.26,552.8 L78.1,552.8 L78.95,552.8 L79.8,552.8 L80.64,552.8 L81.49,552.8 L81.91,552.8 L81.91,552.8 L82.13,582.01 L82.55,593.65 L83.18,582.01 L84.03,565.08 L84.88,554.49 L85.3,552.8 L85.3,552.8 L85.72,552.8 L86.36,552.8 L86.99,552.8 L87.84,552.8 L88.69,552.8 L89.32,552.8 L89.75,552.8 L89.75,552.8 L89.96,558.73 L90.8,556.61 L91.44,567.19 L92.07,552.8 L92.07,552.8 L92.5,552.8 L92.92,552.8 L93.77,552.8 L94.61,552.8 L95.04,552.8 L95.04,552.8 L95.46,562.96 L96.31,577.78 L97.15,590.48 L98,591.54 L98.85,592.6 L99.7,590.48 L100.54,592.6 L101.39,590.48 L102.24,592.6 L103.08,586.24 L103.93,590.48 L104.78,588.36 L105.62,592.6 L106.47,594.71 L107.32,596.83 L108.16,598.95 L109.01,590.48 L109.86,582.01 L110.7,573.54 L111.55,560.84 L111.97,552.8 L111.97,552.8 L112.4,552.8 L113.24,552.8 L114.09,552.8 L114.72,552.8 L114.72,552.8 L115.15,560.84 L115.78,565.08 L116.63,577.78 L117.48,586.24 L118.32,592.6 L119.17,582.01 L120.02,590.48 L120.86,598.95 L121.71,601.06 L122.56,592.6 L123.4,603.18 L124.25,607.41 L125.1,609.53 L125.94,603.18 L126.79,607.41 L127.64,592.6 L128.48,573.54 L128.91,552.8 L128.91,552.8 L129.33,552.8 L130.18,552.8 L131.02,552.8 L131.87,552.8 L132.29,552.8 L132.29,552.8 L132.51,558.73 L133.14,556.61 L133.35,552.8 L133.35,552.8 L133.56,552.8 L134.41,552.8 L135.26,552.8 L136.1,552.8 L136.95,552.8 L137.8,552.8 L138.65,552.8 L139.49,552.8 L140.34,552.8 L141.19,552.8 L142.03,552.8 L142.88,552.8 L143.73,552.8 L144.57,552.8 L145.42,552.8 L146.27,552.8 L147.11,552.8 L147.96,552.8 L148.81,552.8 L149.65,552.8 L149.86,552.8 L149.86,552.8 L150.08,562.96 L150.29,552.8 L150.29,552.8 L150.71,552.8 L151.56,552.8 L152.4,552.8 L153.25,552.8 L154.31,552.8 L155.16,552.8 L156,552.8 L156.85,552.8 L157.7,552.8 L158.54,552.8 L159.6,552.8 L160.66,552.8 L161.72,552.8 L162.35,552.8 L162.35,552.8 L162.78,560.84 L163.84,565.08 L164.89,577.78 L165.74,588.36 L166.59,586.24 L167.43,569.31 L168.28,573.54 L169.13,582.01 L169.97,592.6 L170.82,607.41 L171.67,620.11 L172.51,615.88 L173.36,611.65 L174.21,607.41 L175.06,603.18 L175.9,594.71 L176.75,586.24 L177.38,552.8 L177.38,552.8 L177.81,552.8 L178.65,552.8 L179.29,552.8 L180.14,552.8 L180.77,552.8 L181.41,552.8 L182.04,552.8 L182.04,552.8 L182.46,555.55 L183.1,554.49 L183.52,552.8 L183.52,552.8 L184.66,552.8 L185.5,552.8 L185.93,552.8 L185.93,552.8 L186.35,558.73 L187.2,565.08 L188.04,571.43 L188.89,577.78 L189.74,579.89 L190.58,575.66 L191.43,582.01 L192.28,579.89 L193.12,582.01 L193.97,584.13 L194.82,585.19 L195.66,586.24 L196.51,590.48 L197.36,595.77 L198.2,573.54 L198.63,552.8 L198.63,552.8 L198.84,552.8 L199.48,552.8 L199.9,552.8 L199.9,552.8 L200.11,565.08 L200.75,582.01 L201.59,590.48 L202.44,590.48 L203.29,582.01 L204.13,577.78 L204.98,582.01 L205.83,590.48 L206.67,573.54 L207.31,552.8 L207.31,552.8 L207.52,552.8 L208.37,552.8 L209.21,552.8 L210.06,552.8 L210.91,552.8 L211.75,552.8 L212.6,552.8 L213.23,552.8 L213.23,552.8 L213.45,556.61 L214.29,558.73 L215.14,560.84 L215.99,567.19 L216.83,572.49 L217.68,569.31 L218.53,567.19 L219.37,565.08 L220.22,560.84 L221.07,556.61 L221.49,552.8 L221.49,552.8 L221.7,552.8 L222.34,552.8 L222.97,552.8 L223.61,552.8 L224.45,552.8 L225.3,552.8 L226.15,552.8 L226.78,552.8 L226.78,552.8 L226.99,554.49 L227.84,560.84 L228.69,569.31 L229.53,577.78 L230.38,588.36 L231.23,598.95 L232.07,609.53 L232.92,616.94 L233.77,611.65 L234.61,598.95 L235.46,586.24 L236.31,569.31 L237.15,573.54 L238,573.54 L238.85,569.31 L239.7,573.54 L240.54,578.84 L241.39,569.31 L242.24,567.19 L243.08,569.31 L243.93,565.08 L244.56,552.8 L244.56,552.8 L244.78,552.8 L245.41,552.8 L246.05,552.8 L246.89,552.8 L247.74,552.8 L248.59,552.8 L249.43,552.8 L250.28,552.8 L251.13,552.8 L251.97,552.8 L252.82,552.8 L253.67,552.8 L254.51,552.8 L255.36,552.8 L256.21,552.8 L257.05,552.8 L257.69,552.8 L257.69,552.8 L257.9,565.08 L258.75,580.95 L259.59,582.01 L260.44,579.89 L260.86,552.8 L260.86,552.8 L261.29,552.8 L262.13,552.8 L262.56,552.8 L262.56,552.8 L262.98,565.08 L263.83,577.78 L264.67,590.48 L265.52,600 L266.37,590.48 L267.21,573.54 L268.06,560.84 L268.91,556.61 L269.54,552.8 L269.54,552.8 L269.97,552.8 L270.6,552.8 L271.24,552.8 L271.87,552.8 L271.87,552.8 L272.29,569.31 L273.14,573.54 L273.99,575.66 L274.83,576.72 L275.68,576.72 L276.53,573.54 L277.16,552.8 L277.16,552.8 L277.59,552.8 L278.22,552.8 L278.86,552.8 L279.28,552.8 L279.28,552.8 L279.49,569.31 L280.34,573.54 L281.19,582.01 L282.03,594.71 L282.88,605.3 L283.73,586.24 L284.57,569.31 L285.21,552.8 L285.21,552.8 L285.42,552.8 L286.27,552.8 L287.11,552.8 L287.96,552.8 L288.38,552.8 L288.38,552.8 L288.59,560.84 L289.23,569.31 L289.65,552.8 L289.65,552.8 L290.08,552.8 L290.92,552.8 L291.77,552.8 L292.62,552.8 L293.25,552.8 L293.25,552.8 L293.46,565.08 L294.31,575.66 L295.16,569.31 L295.58,552.8 L295.58,552.8 L296,552.8 L296.85,552.8 L297.7,552.8 L298.54,552.8 L299.39,552.8 L300.24,552.8 L301.08,552.8 L301.93,552.8 L302.78,552.8 L303.62,552.8 L304.47,552.8 L305.32,552.8 L306.16,552.8 L307.01,552.8 L307.65,552.8 L307.65,552.8 L307.86,558.73 L308.7,557.67 L309.55,556.61 L310.4,558.73 L311.24,560.84 L311.67,552.8 L311.67,552.8 L312.09,552.8 L312.94,552.8 L313.78,552.8 L314.63,552.8 L315.48,552.8 L315.69,552.8 L315.69,552.8Z" fill="#0000ff"/>
<rect x="43.7" y="458.1" width="281.20" height="189.20" fill="none" stroke="#222" stroke-width="1.7"/>
<line x1="39.7" y1="504.5" x2="43.7" y2="504.5" stroke="#222" stroke-width="1.5"/>
<line x1="39.7" y1="552.8" x2="43.7" y2="552.8" stroke="#222" stroke-width="1.5"/>
<line x1="39.7" y1="601.1" x2="43.7" y2="601.1" stroke="#222" stroke-width="1.5"/>
<line x1="39.7" y1="458.1" x2="43.7" y2="458.1" stroke="#222" stroke-width="1.5"/>
<line x1="39.7" y1="647.3" x2="43.7" y2="647.3" stroke="#222" stroke-width="1.5"/>
<line x1="43.70" y1="647.3" x2="43.70" y2="650.8" stroke="#222" stroke-width="1.5"/>
<line x1="99.94" y1="647.3" x2="99.94" y2="650.8" stroke="#222" stroke-width="1.5"/>
<line x1="156.18" y1="647.3" x2="156.18" y2="650.8" stroke="#222" stroke-width="1.5"/>
<line x1="212.42" y1="647.3" x2="212.42" y2="650.8" stroke="#222" stroke-width="1.5"/>
<line x1="268.66" y1="647.3" x2="268.66" y2="650.8" stroke="#222" stroke-width="1.5"/>
<line x1="324.90" y1="647.3" x2="324.90" y2="650.8" stroke="#222" stroke-width="1.5"/>
<path d="M42.12,755.3 L42.12,755.3 L42.96,755.3 L43.6,755.3 L43.6,755.3 L44.02,739.86 L44.66,733.51 L45.5,729.27 L46.35,722.92 L47.2,725.04 L48.04,725.04 L48.89,733.51 L49.53,750.44 L49.95,755.3 L49.95,755.3 L50.16,755.3 L51.01,755.3 L51.85,755.3 L52.7,755.3 L53.55,755.3 L54.39,755.3 L55.24,755.3 L56.09,755.3 L56.93,755.3 L57.78,755.3 L58.63,755.3 L59.48,755.3 L60.32,755.3 L61.17,755.3 L62.02,755.3 L62.65,755.3 L62.65,755.3 L63.07,733.51 L63.71,735.62 L64.34,739.86 L64.98,735.62 L65.83,733.51 L66.67,735.62 L67.52,741.97 L68.37,746.21 L69.21,739.86 L70.06,741.97 L70.91,737.74 L71.54,733.51 L72.18,744.09 L72.81,755.3 L72.81,755.3 L73.23,755.3 L73.87,755.3 L74.5,755.3 L74.51,755.3 L74.93,746.21 L75.56,741.97 L76.2,744.09 L76.83,752.56 L77.26,755.3 L77.26,755.3 L77.68,755.3 L78.53,755.3 L79.16,755.3 L79.59,755.3 L79.59,755.3 L80.01,748.32 L80.64,745.15 L81.28,750.44 L81.7,755.3 L81.7,755.3 L82.13,755.3 L82.97,755.3 L83.82,755.3 L84.45,755.3 L85.09,755.3 L85.09,755.3 L85.3,733.51 L85.72,733.51 L86.36,755.3 L86.36,755.3 L86.78,755.3 L87.63,755.3 L88.48,755.3 L89.32,755.3 L90.17,755.3 L91.02,755.3 L91.86,755.3 L92.71,755.3 L93.56,755.3 L94.4,755.3 L95.04,755.3 L95.04,755.3 L95.46,733.51 L96.31,722.92 L97.15,719.75 L98,737.74 L98.85,746.21 L99.7,733.51 L100.54,722.92 L101.39,715.51 L102.02,733.51 L102.66,750.44 L103.08,755.3 L103.08,755.3 L103.51,755.3 L104.35,755.3 L104.78,755.3 L105.2,755.3 L105.2,755.3 L105.62,733.51 L106.26,722.92 L106.89,733.51 L107.74,722.92 L108.37,714.45 L109.01,733.51 L109.64,755.3 L109.64,755.3 L110.07,755.3 L110.7,755.3 L111.34,755.3 L111.97,755.3 L111.97,755.3 L112.4,733.51 L113.24,732.45 L114.09,733.51 L114.94,739.86 L115.57,755.3 L115.57,755.3 L115.99,755.3 L116.63,755.3 L117.27,755.3 L117.69,755.3 L117.69,755.3 L118.11,739.86 L118.96,737.74 L119.81,744.09 L120.44,755.3 L120.44,755.3 L120.86,755.3 L121.71,755.3 L122.56,755.3 L123.4,755.3 L124.25,755.3 L125.1,755.3 L125.94,755.3 L126.79,755.3 L127.21,755.3 L127.21,755.3 L127.43,735.62 L128.06,741.97 L128.7,750.44 L129.12,755.3 L129.12,755.3 L129.54,755.3 L130.39,755.3 L131.24,755.3 L132.08,755.3 L132.93,755.3 L133.78,755.3 L134.62,755.3 L135.47,755.3 L136.32,755.3 L137.16,755.3 L138.01,755.3 L138.86,755.3 L139.49,755.3 L139.49,755.3 L139.92,718.69 L140.76,722.92 L141.61,733.51 L142.46,744.09 L143.3,746.21 L144.15,750.44 L144.57,755.3 L144.57,755.3 L144.78,755.3 L145.21,755.3 L145.21,755.3 L145.63,731.39 L146.27,727.15 L147.11,733.51 L147.96,739.86 L148.81,733.51 L149.65,737.74 L150.5,744.09 L151.35,746.21 L152.19,748.32 L153.04,750.44 L153.89,741.97 L154.73,740.91 L155.58,746.21 L156.43,755.3 L156.43,755.3 L156.85,755.3 L157.49,755.3 L157.49,755.3 L157.91,746.21 L158.76,744.09 L159.6,750.44 L160.02,755.3 L160.03,755.3 L160.45,755.3 L160.87,755.3 L160.87,755.3 L161.3,739.86 L162.14,733.51 L162.78,727.15 L163.62,733.51 L164.47,746.21 L165.11,755.3 L165.11,755.3 L165.53,755.3 L166.38,755.3 L167.01,755.3 L167.86,755.3 L167.86,755.3 L168.28,729.27 L169.13,720.8 L169.97,718.69 L170.82,707.04 L171.67,710.22 L172.51,712.34 L173.36,708.1 L174.21,705.99 L175.06,733.51 L175.9,754.67 L176.32,755.3 L176.33,755.3 L176.75,755.3 L177.6,755.3 L178.65,755.3 L179.71,755.3 L180.56,755.3 L181.41,755.3 L182.25,755.3 L183.1,755.3 L183.95,755.3 L185.08,755.3 L185.93,755.3 L186.35,755.3 L186.35,755.3 L186.77,733.51 L187.62,727.15 L188.47,735.62 L189.31,746.21 L190.16,752.56 L190.58,755.3 L190.58,755.3 L191.01,755.3 L191.85,755.3 L192.7,755.3 L193.55,755.3 L194.39,755.3 L195.24,755.3 L196.09,755.3 L196.93,755.3 L197.78,755.3 L198.63,755.3 L199.48,755.3 L200.32,755.3 L200.75,755.3 L200.75,755.3 L201.17,746.21 L201.8,740.91 L202.44,748.32 L203.29,750.44 L204.13,755.3 L204.13,755.3 L204.56,755.3 L205.4,755.3 L206.25,755.3 L207.1,755.3 L207.94,755.3 L208.79,755.3 L209.64,755.3 L210.48,755.3 L211.33,755.3 L212.18,755.3 L213.02,755.3 L213.87,755.3 L214.72,755.3 L215.56,755.3 L216.41,755.3 L217.26,755.3 L217.68,755.3 L217.68,755.3 L218.1,733.51 L218.95,726.1 L219.8,725.04 L220.64,733.51 L221.49,729.27 L222.34,727.15 L223.18,731.39 L224.03,737.74 L224.88,741.97 L225.72,733.51 L226.57,722.92 L227.42,718.69 L228.26,712.34 L229.11,708.1 L229.96,705.99 L230.8,703.87 L231.65,722.92 L232.5,744.09 L233.13,755.3 L233.13,755.3 L233.56,755.3 L234.19,755.3 L234.83,755.3 L235.46,755.3 L235.46,755.3 L235.88,746.21 L236.73,741.97 L237.58,735.62 L238.43,729.27 L239.27,737.74 L240.12,741.97 L240.97,750.44 L241.6,755.3 L241.6,755.3 L241.81,755.3 L242.66,755.3 L243.51,755.3 L244.35,755.3 L245.2,755.3 L246.05,755.3 L246.89,755.3 L247.74,755.3 L248.59,755.3 L249.43,755.3 L250.28,755.3 L251.13,755.3 L251.55,755.3 L251.55,755.3 L251.97,733.51 L252.82,701.75 L253.67,680.58 L254.51,697.52 L255.36,712.34 L256.21,725.04 L257.05,731.39 L257.9,739.86 L258.75,748.32 L259.38,755.3 L259.38,755.3 L259.81,755.3 L260.65,755.3 L261.5,755.3 L262.35,755.3 L263.19,755.3 L264.04,755.3 L264.89,755.3 L265.73,755.3 L266.58,755.3 L267.43,755.3 L268.27,755.3 L269.12,755.3 L269.97,755.3 L270.81,755.3 L271.66,755.3 L272.51,755.3 L273.14,755.3 L273.99,755.3 L274.83,755.3 L275.68,755.3 L276.53,755.3 L277.16,755.3 L277.16,755.3 L277.59,741.97 L278.43,727.15 L279.28,739.86 L279.91,755.3 L279.92,755.3 L280.34,755.3 L280.97,755.3 L281.61,755.3 L282.24,755.3 L282.24,755.3 L282.46,752.56 L282.88,753.62 L283.3,755.3 L283.3,755.3 L283.73,755.3 L284.57,755.3 L285.42,755.3 L286.27,755.3 L287.11,755.3 L287.96,755.3 L288.81,755.3 L289.44,755.3 L289.44,755.3 L289.86,750.44 L290.71,745.15 L291.56,750.44 L292.4,755.3 L292.4,755.3 L292.83,755.3 L293.46,755.3 L293.46,755.3 L293.89,733.51 L294.73,731.39 L295.37,739.86 L296,755.3 L296,755.3 L296.43,755.3 L296.85,755.3 L296.85,755.3 L297.27,746.21 L298.12,744.09 L298.97,745.15 L299.81,750.44 L300.66,731.39 L301.51,728.21 L302.35,733.51 L302.78,755.3 L302.78,755.3 L303.2,755.3 L304.05,755.3 L304.89,755.3 L305.74,755.3 L306.59,755.3 L307.43,755.3 L308.28,755.3 L309.13,755.3 L309.97,755.3 L309.97,755.3 L310.4,741.97 L311.24,730.33 L312.09,733.51 L312.73,755.3 L312.73,755.3 L313.15,755.3 L313.57,755.3 L313.57,755.3 L314,739.86 L314.84,733.51 L315.69,731.39 L316.54,725.04 L317.17,735.62 L318.02,737.74 L318.87,741.97 L319.71,746.21 L320.35,755.3 L320.35,755.3 L320.77,755.3 L321.19,755.3 L321.62,755.3 L321.62,755.3 L322.04,744.09 L322.89,739.86 L322.89,755.3Z" fill="#dd2319"/>
<path d="M42.12,755.3 L42.12,771.61 L42.96,780.08 L43.6,755.31 L43.6,755.3 L44.02,755.3 L44.66,755.3 L45.5,755.3 L46.35,755.3 L47.2,755.3 L48.04,755.3 L48.89,755.3 L49.53,755.3 L49.95,755.3 L49.95,755.31 L50.16,761.02 L51.01,767.38 L51.85,771.61 L52.7,775.84 L53.55,773.73 L54.39,767.38 L55.24,763.14 L56.09,761.02 L56.93,763.14 L57.78,769.49 L58.63,773.73 L59.48,776.9 L60.32,777.96 L61.17,775.84 L62.02,769.49 L62.65,755.31 L62.65,755.3 L63.07,755.3 L63.71,755.3 L64.34,755.3 L64.98,755.3 L65.83,755.3 L66.67,755.3 L67.52,755.3 L68.37,755.3 L69.21,755.3 L70.06,755.3 L70.91,755.3 L71.54,755.3 L72.18,755.3 L72.81,755.3 L72.81,755.31 L73.23,761.02 L73.87,763.14 L74.5,755.31 L74.51,755.3 L74.93,755.3 L75.56,755.3 L76.2,755.3 L76.83,755.3 L77.26,755.3 L77.26,755.31 L77.68,761.02 L78.53,765.26 L79.16,758.91 L79.59,755.31 L79.59,755.3 L80.01,755.3 L80.64,755.3 L81.28,755.3 L81.7,755.3 L81.7,755.31 L82.13,763.14 L82.97,769.49 L83.82,775.84 L84.45,779.02 L85.09,755.31 L85.09,755.3 L85.3,755.3 L85.72,755.3 L86.36,755.3 L86.36,755.31 L86.78,765.26 L87.63,775.84 L88.48,788.54 L89.32,801.24 L90.17,818.18 L91.02,826.65 L91.86,813.95 L92.71,797.01 L93.56,780.08 L94.4,767.38 L95.04,755.31 L95.04,755.3 L95.46,755.3 L96.31,755.3 L97.15,755.3 L98,755.3 L98.85,755.3 L99.7,755.3 L100.54,755.3 L101.39,755.3 L102.02,755.3 L102.66,755.3 L103.08,755.3 L103.08,755.31 L103.51,771.61 L104.35,780.08 L104.78,771.61 L105.2,755.31 L105.2,755.3 L105.62,755.3 L106.26,755.3 L106.89,755.3 L107.74,755.3 L108.37,755.3 L109.01,755.3 L109.64,755.3 L109.64,755.31 L110.07,786.43 L110.7,805.48 L111.34,788.54 L111.97,755.31 L111.97,755.3 L112.4,755.3 L113.24,755.3 L114.09,755.3 L114.94,755.3 L115.57,755.3 L115.57,755.31 L115.99,775.84 L116.63,782.19 L117.27,771.61 L117.69,755.31 L117.69,755.3 L118.11,755.3 L118.96,755.3 L119.81,755.3 L120.44,755.3 L120.44,755.31 L120.86,765.26 L121.71,775.84 L122.56,788.54 L123.4,797.01 L124.25,797.01 L125.1,813.95 L125.94,830.88 L126.79,818.18 L127.21,755.31 L127.21,755.3 L127.43,755.3 L128.06,755.3 L128.7,755.3 L129.12,755.3 L129.12,755.31 L129.54,775.84 L130.39,807.6 L131.24,830.88 L132.08,830.88 L132.93,839.35 L133.78,847.82 L134.62,860.52 L135.47,873.22 L136.32,868.98 L137.16,839.35 L138.01,797.01 L138.86,771.61 L139.49,755.31 L139.49,755.3 L139.92,755.3 L140.76,755.3 L141.61,755.3 L142.46,755.3 L143.3,755.3 L144.15,755.3 L144.57,755.3 L144.57,755.31 L144.78,780.08 L145.21,755.31 L145.21,755.3 L145.63,755.3 L146.27,755.3 L147.11,755.3 L147.96,755.3 L148.81,755.3 L149.65,755.3 L150.5,755.3 L151.35,755.3 L152.19,755.3 L153.04,755.3 L153.89,755.3 L154.73,755.3 L155.58,755.3 L156.43,755.3 L156.43,755.31 L156.85,759.97 L157.49,755.31 L157.49,755.3 L157.91,755.3 L158.76,755.3 L159.6,755.3 L160.02,755.3 L160.03,755.31 L160.45,767.38 L160.87,755.31 L160.87,755.3 L161.3,755.3 L162.14,755.3 L162.78,755.3 L163.62,755.3 L164.47,755.3 L165.11,755.3 L165.11,755.31 L165.53,767.38 L166.38,775.84 L167.01,769.49 L167.86,755.31 L167.86,755.3 L168.28,755.3 L169.13,755.3 L169.97,755.3 L170.82,755.3 L171.67,755.3 L172.51,755.3 L173.36,755.3 L174.21,755.3 L175.06,755.3 L175.9,755.3 L176.32,755.3 L176.33,755.31 L176.75,757.85 L177.6,758.91 L178.65,761.02 L179.71,759.97 L180.56,763.14 L181.41,771.61 L182.25,784.31 L183.1,790.66 L183.95,792.78 L185.08,775.84 L185.93,758.91 L186.35,755.31 L186.35,755.3 L186.77,755.3 L187.62,755.3 L188.47,755.3 L189.31,755.3 L190.16,755.3 L190.58,755.3 L190.58,755.31 L191.01,771.61 L191.85,788.54 L192.7,805.48 L193.55,801.24 L194.39,797.01 L195.24,799.13 L196.09,797.01 L196.93,801.24 L197.78,808.65 L198.63,797.01 L199.48,775.84 L200.32,761.02 L200.75,755.31 L200.75,755.3 L201.17,755.3 L201.8,755.3 L202.44,755.3 L203.29,755.3 L204.13,755.3 L204.13,755.31 L204.56,771.61 L205.4,775.84 L206.25,784.31 L207.1,790.66 L207.94,788.54 L208.79,797.01 L209.64,809.71 L210.48,813.95 L211.33,797.01 L212.18,788.54 L213.02,784.31 L213.87,788.54 L214.72,792.78 L215.56,794.89 L216.41,780.08 L217.26,765.26 L217.68,755.31 L217.68,755.3 L218.1,755.3 L218.95,755.3 L219.8,755.3 L220.64,755.3 L221.49,755.3 L222.34,755.3 L223.18,755.3 L224.03,755.3 L224.88,755.3 L225.72,755.3 L226.57,755.3 L227.42,755.3 L228.26,755.3 L229.11,755.3 L229.96,755.3 L230.8,755.3 L231.65,755.3 L232.5,755.3 L233.13,755.3 L233.13,755.31 L233.56,763.14 L234.19,769.49 L234.83,767.38 L235.46,755.31 L235.46,755.3 L235.88,755.3 L236.73,755.3 L237.58,755.3 L238.43,755.3 L239.27,755.3 L240.12,755.3 L240.97,755.3 L241.6,755.3 L241.6,755.31 L241.81,758.91 L242.66,765.26 L243.51,771.61 L244.35,767.38 L245.2,763.14 L246.05,769.49 L246.89,775.84 L247.74,782.19 L248.59,775.84 L249.43,763.14 L250.28,761.02 L251.13,758.91 L251.55,755.31 L251.55,755.3 L251.97,755.3 L252.82,755.3 L253.67,755.3 L254.51,755.3 L255.36,755.3 L256.21,755.3 L257.05,755.3 L257.9,755.3 L258.75,755.3 L259.38,755.3 L259.38,755.31 L259.81,763.14 L260.65,771.61 L261.5,775.84 L262.35,784.31 L263.19,797.01 L264.04,801.24 L264.89,792.78 L265.73,788.54 L266.58,784.31 L267.43,790.66 L268.27,797.01 L269.12,788.54 L269.97,775.84 L270.81,767.38 L271.66,758.91 L272.51,756.79 L273.14,758.91 L273.99,771.61 L274.83,780.08 L275.68,777.96 L276.53,765.26 L277.16,755.31 L277.16,755.3 L277.59,755.3 L278.43,755.3 L279.28,755.3 L279.91,755.3 L279.92,755.31 L280.34,763.14 L280.97,769.49 L281.61,765.26 L282.24,755.31 L282.24,755.3 L282.46,755.3 L282.88,755.3 L283.3,755.3 L283.3,755.31 L283.73,767.38 L284.57,788.54 L285.42,816.06 L286.27,801.24 L287.11,784.31 L287.96,767.38 L288.81,761.02 L289.44,755.31 L289.44,755.3 L289.86,755.3 L290.71,755.3 L291.56,755.3 L292.4,755.3 L292.4,755.31 L292.83,758.91 L293.46,755.31 L293.46,755.3 L293.89,755.3 L294.73,755.3 L295.37,755.3 L296,755.3 L296,755.31 L296.43,773.73 L296.85,755.31 L296.85,755.3 L297.27,755.3 L298.12,755.3 L298.97,755.3 L299.81,755.3 L300.66,755.3 L301.51,755.3 L302.35,755.3 L302.78,755.3 L302.78,755.31 L303.2,775.84 L304.05,818.18 L304.89,858.4 L305.74,856.28 L306.59,860.52 L307.43,818.18 L308.28,786.43 L309.13,771.61 L309.97,755.31 L309.97,755.3 L310.4,755.3 L311.24,755.3 L312.09,755.3 L312.73,755.3 L312.73,755.31 L313.15,765.26 L313.57,755.31 L313.57,755.3 L314,755.3 L314.84,755.3 L315.69,755.3 L316.54,755.3 L317.17,755.3 L318.02,755.3 L318.87,755.3 L319.71,755.3 L320.35,755.3 L320.35,755.31 L320.77,763.14 L321.19,767.38 L321.62,755.31 L321.62,755.3 L322.04,755.3 L322.89,755.3 L322.89,755.3Z" fill="#0000ff"/>
<rect x="41.6" y="672.8" width="282.50" height="200.70" fill="none" stroke="#222" stroke-width="1.7"/>
<line x1="37.6" y1="697.2" x2="41.6" y2="697.2" stroke="#222" stroke-width="1.5"/>
<line x1="37.6" y1="755.3" x2="41.6" y2="755.3" stroke="#222" stroke-width="1.5"/>
<line x1="37.6" y1="814.0" x2="41.6" y2="814.0" stroke="#222" stroke-width="1.5"/>
<line x1="37.6" y1="873.3" x2="41.6" y2="873.3" stroke="#222" stroke-width="1.5"/>
<line x1="41.60" y1="873.5" x2="41.60" y2="877.0" stroke="#222" stroke-width="1.5"/>
<line x1="98.10" y1="873.5" x2="98.10" y2="877.0" stroke="#222" stroke-width="1.5"/>
<line x1="154.60" y1="873.5" x2="154.60" y2="877.0" stroke="#222" stroke-width="1.5"/>
<line x1="211.10" y1="873.5" x2="211.10" y2="877.0" stroke="#222" stroke-width="1.5"/>
<line x1="267.60" y1="873.5" x2="267.60" y2="877.0" stroke="#222" stroke-width="1.5"/>
<line x1="324.10" y1="873.5" x2="324.10" y2="877.0" stroke="#222" stroke-width="1.5"/>
<path d="M40.23,988 L40.23,988 L41.08,988 L41.93,988 L42.77,988 L43.62,988 L44.47,988 L45.31,988 L46.16,988 L47.01,988 L47.85,988 L48.28,988 L48.28,987.97 L48.7,978.44 L49.55,974.21 L50.39,972.09 L51.24,965.74 L52.09,962.56 L52.93,961.51 L53.78,967.86 L54.42,987.97 L54.42,988 L54.84,988 L55.69,988 L56.53,988 L57.38,988 L58.23,988 L59.07,988 L59.92,988 L60.77,988 L61.61,988 L62.46,988 L63.31,988 L64.15,988 L65,988 L65.85,988 L66.69,988 L67.54,988 L68.39,988 L69.23,988 L70.08,988 L70.93,988 L71.77,988 L72.62,988 L73.47,988 L74.31,988 L75.16,988 L76.01,988 L76.86,988 L77.7,988 L78.55,988 L79.4,988 L80.24,988 L81.09,988 L81.94,988 L82.78,988 L83.63,988 L84.48,988 L85.32,988 L86.17,988 L87.02,988 L87.86,988 L88.71,988 L89.56,988 L90.4,988 L91.25,988 L92.1,988 L92.94,988 L93.79,988 L94.64,988 L95.48,988 L96.33,988 L97.18,988 L98.02,988 L98.87,988 L99.72,988 L100.56,988 L101.41,988 L102.26,988 L102.68,988 L102.68,987.97 L103.1,976.32 L103.74,977.38 L104.37,987.97 L104.38,988 L104.8,988 L105.64,988 L106.49,988 L107.34,988 L108.18,988 L109.03,988 L109.88,988 L110.51,988 L111.15,988 L111.99,988 L112.84,988 L113.69,988 L114.54,988 L115.38,988 L116.23,988 L117.08,988 L117.92,988 L118.56,988 L118.98,988 L118.98,987.97 L119.4,969.97 L120.04,959.39 L120.67,967.86 L121.52,978.44 L122.16,987.97 L122.16,988 L122.37,988 L122.79,988 L123.21,988 L123.21,987.97 L123.64,961.51 L124.48,940.34 L125.33,925.52 L126.18,921.29 L127.02,919.17 L127.66,940.34 L128.29,987.97 L128.3,988 L128.72,988 L129.56,988 L130.41,988 L131.26,988 L132.1,988 L132.95,988 L133.8,988 L134.43,988 L134.43,987.97 L134.86,974.21 L135.7,950.92 L136.34,933.99 L136.97,929.75 L137.61,940.34 L138.24,961.51 L138.88,982.67 L139.3,987.97 L139.3,988 L139.73,988 L140.57,988 L141.42,988 L142.27,988 L143.11,988 L143.96,988 L144.81,988 L145.65,988 L146.5,988 L147.35,988 L148.19,988 L149.04,988 L149.89,988 L150.73,988 L151.58,988 L152,988 L152.64,988 L153.06,988 L153.06,987.97 L153.49,978.44 L154.33,979.5 L154.97,987.97 L154.97,988 L155.39,988 L156.24,988 L157.08,988 L157.51,988 L157.51,987.97 L157.93,961.51 L158.78,967.86 L159.62,978.44 L160.47,969.97 L161.32,972.09 L161.74,987.97 L161.75,988 L162.16,988 L162.8,988 L163.22,988 L163.22,987.97 L163.65,959.39 L164.49,958.33 L165.34,961.51 L166.19,957.27 L167.03,961.51 L167.67,987.97 L167.67,988 L168.09,988 L168.94,988 L169.78,988 L170.63,988 L171.48,988 L172.33,988 L173.17,988 L174.02,988 L174.86,988 L174.87,987.97 L175.29,978.44 L176.14,967.86 L176.98,965.74 L177.83,950.92 L178.68,929.75 L179.52,914.93 L180.37,940.34 L181.08,967.86 L181.93,972.09 L182.77,974.21 L183.41,969.97 L184.04,982.67 L184.47,987.97 L184.47,988 L184.89,988 L185.31,988 L185.31,987.97 L185.74,972.09 L186.58,959.39 L187.43,957.27 L188.28,948.8 L189.12,961.51 L189.97,976.32 L190.82,982.67 L191.66,980.56 L192.51,969.97 L193.36,957.27 L194.2,944.57 L195.05,941.4 L195.9,961.51 L196.53,982.67 L196.96,987.97 L196.96,988 L197.38,988 L198.02,988 L198.65,988 L199.07,988 L199.07,987.97 L199.29,961.51 L199.92,954.1 L200.56,972.09 L200.98,987.97 L200.98,988 L201.4,988 L202.25,988 L203.1,988 L203.94,988 L204.79,988 L205.64,988 L206.48,988 L207.33,988 L208.18,988 L209.02,988 L209.87,988 L210.72,988 L211.56,988 L212.41,988 L213.04,988 L213.04,987.97 L213.47,967.86 L214.1,974.21 L214.74,987.97 L214.74,988 L214.95,988 L215.8,988 L216.64,988 L217.06,988 L217.07,987.97 L217.49,963.62 L218.13,967.86 L218.76,987.97 L218.76,988 L219.18,988 L220.03,988 L220.67,988 L221.3,988 L221.94,988 L222.36,988 L222.36,987.97 L222.78,972.09 L223.63,969.97 L224.48,967.86 L225.32,963.62 L226.17,969.97 L226.8,987.97 L226.81,988 L227.23,988 L228.07,988 L228.92,988 L229.77,988 L230.18,988 L230.19,987.97 L230.61,959.39 L231.46,957.27 L232.31,961.51 L233.15,978.44 L233.58,987.97 L233.58,988 L234,988 L234.85,988 L235.7,988 L236.54,988 L237.39,988 L238.24,988 L239.08,988 L239.93,988 L240.78,988 L241.62,988 L242.47,988 L243.32,988 L244.16,988 L245.01,988 L245.86,988 L246.7,988 L247.55,988 L248.18,988 L248.61,988 L248.61,987.97 L249.03,961.51 L249.88,940.34 L250.72,933.99 L251.57,931.87 L252.42,961.51 L253.27,980.56 L254.11,961.51 L254.96,940.34 L255.81,929.75 L256.44,923.4 L257.29,950.92 L258.13,972.09 L258.98,982.67 L259.62,987.97 L259.62,988 L260.04,988 L260.89,988 L261.73,988 L262.58,988 L263.43,988 L264.27,988 L265.12,988 L265.54,988 L265.54,987.97 L265.97,976.32 L266.81,972.09 L267.66,940.34 L268.29,935.04 L269.14,950.92 L269.99,953.04 L270.83,957.27 L271.68,959.39 L272.53,953.04 L273.38,955.15 L274.22,972.09 L274.86,987.97 L274.86,988 L275.28,988 L275.92,988 L276.55,988 L276.97,988 L276.97,987.97 L277.4,972.09 L278.24,969.97 L278.88,987.97 L278.88,988 L279.3,988 L279.94,988 L280.57,988 L280.57,987.97 L281,978.44 L281.84,967.86 L282.69,987.97 L282.69,988 L283.11,988 L283.96,988 L284.81,988 L285.65,988 L286.5,988 L287.35,988 L288.19,988 L289.04,988 L289.89,988 L290.73,988 L291.58,988 L292.43,988 L293.27,988 L294.12,988 L294.97,988 L295.81,988 L296.66,988 L297.51,988 L298.35,988 L299.2,988 L300.05,988 L300.89,988 L301.74,988 L302.59,988 L303.43,988 L303.86,988 L303.86,987.97 L304.28,919.17 L305.13,961.51 L305.97,982.67 L306.61,987.97 L306.61,988 L307.03,988 L307.46,988 L307.88,988 L307.88,987.97 L308.3,946.69 L309.15,948.8 L310,961.51 L310.84,976.32 L311.48,987.97 L311.48,988 L311.9,988 L312.75,988 L313.6,988 L314.44,988 L315.29,988 L315.71,988 L315.71,987.97 L316.14,972.09 L316.98,965.74 L317.83,967.86 L318.68,965.74 L319.52,967.86 L320.37,969.97 L320.37,988Z" fill="#dd2319"/>
<path d="M40.23,988 L40.23,1033.48 L41.08,1029.24 L41.93,1020.78 L42.77,1016.54 L43.62,1022.89 L44.47,1027.13 L45.31,1025.01 L46.16,1012.31 L47.01,1010.19 L47.85,1003.84 L48.28,988 L48.28,988 L48.7,988 L49.55,988 L50.39,988 L51.24,988 L52.09,988 L52.93,988 L53.78,988 L54.42,988 L54.42,988 L54.84,999.61 L55.69,1016.54 L56.53,1020.78 L57.38,1025.01 L58.23,1022.89 L59.07,1018.66 L59.92,1020.78 L60.77,1016.54 L61.61,1025.01 L62.46,1029.24 L63.31,1032.42 L64.15,1016.54 L65,1003.84 L65.85,999.61 L66.69,997.49 L67.54,1003.84 L68.39,1016.54 L69.23,1029.24 L70.08,1046.18 L70.93,1063.11 L71.77,1073.7 L72.62,1082.17 L73.47,1086.4 L74.31,1071.58 L75.16,1058.88 L76.01,1063.11 L76.86,1054.65 L77.7,1050.41 L78.55,1054.65 L79.4,1046.18 L80.24,1058.88 L81.09,1056.76 L81.94,1033.48 L82.78,1016.54 L83.63,1005.96 L84.48,1012.31 L85.32,1020.78 L86.17,1029.24 L87.02,1037.71 L87.86,1046.18 L88.71,1048.3 L89.56,1041.95 L90.4,1050.41 L91.25,1054.65 L92.1,1044.06 L92.94,1037.71 L93.79,1035.6 L94.64,1046.18 L95.48,1075.82 L96.33,1099.1 L97.18,1077.93 L98.02,1046.18 L98.87,1033.48 L99.72,1025.01 L100.56,1016.54 L101.41,1012.31 L102.26,995.38 L102.68,988 L102.68,988 L103.1,988 L103.74,988 L104.37,988 L104.38,988 L104.8,997.49 L105.64,1016.54 L106.49,1029.24 L107.34,1037.71 L108.18,1046.18 L109.03,1067.35 L109.88,1088.52 L110.51,1094.87 L111.15,1077.93 L111.99,1063.11 L112.84,1056.76 L113.69,1077.93 L114.54,1071.58 L115.38,1035.6 L116.23,1016.54 L117.08,1003.84 L117.92,1010.19 L118.56,997.49 L118.98,988 L118.98,988 L119.4,988 L120.04,988 L120.67,988 L121.52,988 L122.16,988 L122.16,988 L122.37,999.61 L122.79,1003.84 L123.21,988 L123.21,988 L123.64,988 L124.48,988 L125.33,988 L126.18,988 L127.02,988 L127.66,988 L128.29,988 L128.3,988 L128.72,1016.54 L129.56,1046.18 L130.41,1067.35 L131.26,1080.05 L132.1,1058.88 L132.95,1029.24 L133.8,1010.19 L134.43,988 L134.43,988 L134.86,988 L135.7,988 L136.34,988 L136.97,988 L137.61,988 L138.24,988 L138.88,988 L139.3,988 L139.3,988 L139.73,999.61 L140.57,1008.08 L141.42,1016.54 L142.27,1029.24 L143.11,1046.18 L143.96,1048.3 L144.81,1029.24 L145.65,1008.08 L146.5,999.61 L147.35,997.49 L148.19,1001.73 L149.04,999.61 L149.89,1008.08 L150.73,1029.24 L151.58,1046.18 L152,1054.65 L152.64,1025.01 L153.06,988 L153.06,988 L153.49,988 L154.33,988 L154.97,988 L154.97,988 L155.39,1003.84 L156.24,1013.37 L157.08,995.38 L157.51,988 L157.51,988 L157.93,988 L158.78,988 L159.62,988 L160.47,988 L161.32,988 L161.74,988 L161.75,988 L162.16,991.14 L162.8,994.32 L163.22,988 L163.22,988 L163.65,988 L164.49,988 L165.34,988 L166.19,988 L167.03,988 L167.67,988 L167.67,988 L168.09,1003.84 L168.94,1025.01 L169.78,1046.18 L170.63,1048.3 L171.48,1046.18 L172.33,1048.3 L173.17,1025.01 L174.02,999.61 L174.86,988 L174.87,988 L175.29,988 L176.14,988 L176.98,988 L177.83,988 L178.68,988 L179.52,988 L180.37,988 L181.08,988 L181.93,988 L182.77,988 L183.41,988 L184.04,988 L184.47,988 L184.47,988 L184.89,991.14 L185.31,988 L185.31,988 L185.74,988 L186.58,988 L187.43,988 L188.28,988 L189.12,988 L189.97,988 L190.82,988 L191.66,988 L192.51,988 L193.36,988 L194.2,988 L195.05,988 L195.9,988 L196.53,988 L196.96,988 L196.96,988 L197.38,997.49 L198.02,1005.96 L198.65,1001.73 L199.07,988 L199.07,988 L199.29,988 L199.92,988 L200.56,988 L200.98,988 L200.98,988 L201.4,1003.84 L202.25,1016.54 L203.1,1029.24 L203.94,1025.01 L204.79,1033.48 L205.64,1046.18 L206.48,1052.53 L207.33,1033.48 L208.18,1025.01 L209.02,1029.24 L209.87,1037.71 L210.72,1044.06 L211.56,1025.01 L212.41,1008.08 L213.04,988 L213.04,988 L213.47,988 L214.1,988 L214.74,988 L214.74,988 L214.95,997.49 L215.8,995.38 L216.64,991.14 L217.06,988 L217.07,988 L217.49,988 L218.13,988 L218.76,988 L218.76,988 L219.18,1008.08 L220.03,1046.18 L220.67,1070.52 L221.3,1035.6 L221.94,999.61 L222.36,988 L222.36,988 L222.78,988 L223.63,988 L224.48,988 L225.32,988 L226.17,988 L226.8,988 L226.81,988 L227.23,997.49 L228.07,993.26 L228.92,992.2 L229.77,990.08 L230.18,988 L230.19,988 L230.61,988 L231.46,988 L232.31,988 L233.15,988 L233.58,988 L233.58,988 L234,991.14 L234.85,1003.84 L235.7,1016.54 L236.54,1033.48 L237.39,1041.95 L238.24,1035.6 L239.08,1016.54 L239.93,1025.01 L240.78,1037.71 L241.62,1050.41 L242.47,1067.35 L243.32,1082.17 L244.16,1058.88 L245.01,1050.41 L245.86,1067.35 L246.7,1063.11 L247.55,1025.01 L248.18,1003.84 L248.61,988 L248.61,988 L249.03,988 L249.88,988 L250.72,988 L251.57,988 L252.42,988 L253.27,988 L254.11,988 L254.96,988 L255.81,988 L256.44,988 L257.29,988 L258.13,988 L258.98,988 L259.62,988 L259.62,988 L260.04,997.49 L260.89,1008.08 L261.73,1016.54 L262.58,1008.08 L263.43,1016.54 L264.27,1022.89 L265.12,999.61 L265.54,988 L265.54,988 L265.97,988 L266.81,988 L267.66,988 L268.29,988 L269.14,988 L269.99,988 L270.83,988 L271.68,988 L272.53,988 L273.38,988 L274.22,988 L274.86,988 L274.86,988 L275.28,1016.54 L275.92,1027.13 L276.55,1012.31 L276.97,988 L276.97,988 L277.4,988 L278.24,988 L278.88,988 L278.88,988 L279.3,999.61 L279.94,1003.84 L280.57,988 L280.57,988 L281,988 L281.84,988 L282.69,988 L282.69,988 L283.11,995.38 L283.96,997.49 L284.81,997.49 L285.65,1003.84 L286.5,1014.43 L287.35,1022.89 L288.19,1033.48 L289.04,1046.18 L289.89,1063.11 L290.73,1071.58 L291.58,1046.18 L292.43,1033.48 L293.27,1046.18 L294.12,1084.28 L294.97,1088.52 L295.81,1063.11 L296.66,1029.24 L297.51,1022.89 L298.35,1016.54 L299.2,1020.78 L300.05,1025.01 L300.89,1029.24 L301.74,1035.6 L302.59,1046.18 L303.43,1020.78 L303.86,988 L303.86,988 L304.28,988 L305.13,988 L305.97,988 L306.61,988 L306.61,988 L307.03,1003.84 L307.46,1013.37 L307.88,988 L307.88,988 L308.3,988 L309.15,988 L310,988 L310.84,988 L311.48,988 L311.48,988 L311.9,1003.84 L312.75,1035.6 L313.6,1063.11 L314.44,1073.7 L315.29,1035.6 L315.71,988 L315.71,988 L316.14,988 L316.98,988 L317.83,988 L318.68,988 L319.52,988 L320.37,988 L320.37,988Z" fill="#0000ff"/>
<rect x="39.7" y="902.6" width="281.30" height="205.40" fill="none" stroke="#222" stroke-width="1.7"/>
<line x1="35.7" y1="902.6" x2="39.7" y2="902.6" stroke="#222" stroke-width="1.5"/>
<line x1="35.7" y1="988.0" x2="39.7" y2="988.0" stroke="#222" stroke-width="1.5"/>
<line x1="35.7" y1="1073.4" x2="39.7" y2="1073.4" stroke="#222" stroke-width="1.5"/>
<line x1="39.70" y1="1108.0" x2="39.70" y2="1111.5" stroke="#222" stroke-width="1.5"/>
<line x1="95.96" y1="1108.0" x2="95.96" y2="1111.5" stroke="#222" stroke-width="1.5"/>
<line x1="152.22" y1="1108.0" x2="152.22" y2="1111.5" stroke="#222" stroke-width="1.5"/>
<line x1="208.48" y1="1108.0" x2="208.48" y2="1111.5" stroke="#222" stroke-width="1.5"/>
<line x1="264.74" y1="1108.0" x2="264.74" y2="1111.5" stroke="#222" stroke-width="1.5"/>
<line x1="321.00" y1="1108.0" x2="321.00" y2="1111.5" stroke="#222" stroke-width="1.5"/>
<clipPath id="rc0"><rect x="387.4" y="5.0" width="291.4" height="193.2"/></clipPath>
<g clip-path="url(#rc0)">
<path d="M387.92,123.37 L389.42,123.69 L390.92,124.18 L392.42,124.82 L393.92,125.6 L395.42,126.51 L396.92,127.54 L398.42,128.68 L399.92,129.9 L401.42,131.21 L402.92,132.59 L404.42,134.03 L405.92,135.5 L407.42,137.01 L408.92,138.55 L410.42,140.08 L411.92,141.62 L413.42,143.14 L414.92,144.65 L416.42,146.14 L417.92,147.61 L419.42,149.06 L420.92,150.49 L422.42,151.89 L423.92,153.27 L425.42,154.61 L426.92,155.92 L428.42,157.2 L429.92,158.44 L431.42,159.65 L432.92,160.81 L434.42,161.93 L435.92,163 L437.42,164.03 L438.92,165.02 L440.42,165.97 L441.92,166.88 L443.42,167.75 L444.92,168.58 L446.42,169.39 L447.92,170.16 L449.42,170.9 L450.92,171.62 L452.42,172.31 L453.92,172.97 L455.42,173.62 L456.92,174.24 L458.42,174.84 L459.92,175.43 L461.42,176.01 L462.92,176.58 L464.42,177.14 L465.92,177.71 L467.42,178.29 L468.92,178.87 L470.42,179.47 L471.92,180.08 L473.42,180.71 L474.92,181.35 L476.42,182.01 L477.92,182.66 L479.42,183.32 L480.92,183.96 L482.42,184.59 L483.92,185.18 L485.42,185.74 L486.92,186.26 L488.42,186.74 L489.92,187.17 L491.42,187.56 L492.92,187.92 L494.42,188.24 L495.92,188.54 L497.42,188.8 L498.92,189.04 L500.42,189.26 L501.92,189.46 L503.42,189.64 L504.92,189.81 L506.42,189.97 L507.92,190.12 L509.42,190.27 L510.92,190.41 L512.42,190.54 L513.92,190.68 L515.42,190.81 L516.92,190.94 L518.42,191.07 L519.92,191.19 L521.42,191.31 L522.92,191.43 L524.42,191.55 L525.92,191.66 L527.42,191.78 L528.92,191.89 L530.42,192 L531.92,192.1 L533.42,192.21 L534.92,192.31 L536.42,192.41 L537.92,192.51 L539.42,192.61 L540.92,192.71 L542.42,192.8 L543.92,192.89 L545.42,192.98 L546.92,193.07 L548.42,193.16 L549.92,193.25 L551.42,193.33 L552.92,193.42 L554.42,193.5 L555.92,193.58 L557.42,193.66 L558.92,193.73 L560.42,193.81 L561.92,193.88 L563.42,193.96 L564.92,194.03 L566.42,194.1 L567.92,194.17 L569.42,194.23 L570.92,194.3 L572.42,194.37 L573.92,194.43 L575.42,194.49 L576.92,194.55 L578.42,194.61 L579.92,194.67 L581.42,194.73 L582.92,194.78 L584.42,194.84 L585.92,194.89 L587.42,194.94 L588.92,194.99 L590.42,195.04 L591.92,195.09 L593.42,195.14 L594.92,195.19 L596.42,195.23 L597.92,195.28 L599.42,195.32 L600.92,195.36 L602.42,195.4 L603.92,195.44 L605.42,195.48 L606.92,195.52 L608.42,195.56 L609.92,195.6 L611.42,195.63 L612.92,195.67 L614.42,195.7 L615.92,195.73 L617.42,195.77 L618.92,195.8 L620.42,195.83 L621.92,195.86 L623.42,195.89 L624.92,195.92 L626.42,195.94 L627.92,195.97 L629.42,196 L630.92,196.02 L632.42,196.05 L633.92,196.07 L635.42,196.1 L636.92,196.12 L638.42,196.14 L639.92,196.17 L641.42,196.19 L642.92,196.21 L644.42,196.23 L645.92,196.25 L647.42,196.27 L648.92,196.29 L650.42,196.31 L651.92,196.32 L653.42,196.34 L654.92,196.36 L656.42,196.38 L657.92,196.39 L659.42,196.41 L660.92,196.42 L662.42,196.44 L663.92,196.46 L665.42,196.47 L666.92,196.49 L668.42,196.5 L669.92,196.51 L671.42,196.53 L672.92,196.54 L674.42,196.56 L675.92,196.57 L677.42,196.58 L678.8,196.59" fill="none" stroke="#686868" stroke-width="1.3"/>
<path d="M387.92,127.08 L393.76,129.27 L399.6,132.19 L402.52,134.38 L405.44,137.3 L408.36,138.76 L411.28,140.22 L414.2,140.95 L417.12,141.68 L420.04,143.14 L422.96,145.33 L425.88,146.79 L428.8,147.52 L431.72,148.25 L434.64,149.71 L437.55,151.9 L440.47,154.09 L442.66,158.47 L444.12,165.77 L445.58,170.88 L447.77,173.8 L450.69,175.99 L453.61,178.91 L465.44,183.21 L468.36,183.8 L471.28,184.09 L474.2,184.53 L477.12,184.96 L480.04,185.55 L482.96,186.13 L485.88,186.72 L488.8,187.3 L491.72,187.88 L494.64,188.47 L497.55,189.05 L500.47,189.64 L503.39,190.07 L506.31,190.51 L509.23,191.09 L512.15,191.53 L515.07,191.97 L517.99,192.41 L520.91,192.85 L523.83,193.28 L526.75,193.72 L529.67,194.01 L532.59,194.31 L535.51,194.6 L538.43,194.89 L552.63,195.07 L575.26,195.75 L597.89,196.2 L620.52,196.65 L643.15,196.88 L665.78,197.1 L678.8,197.33" fill="none" stroke="#ff1eff" stroke-width="1.5" stroke-dasharray="4,1.6,1.2,1.6"/>
<path d="M387.68,196.59 L388.41,157.56 L389.15,128.29 L389.88,113.66 L390.61,107.56 L391.34,112.44 L392.07,123.41 L392.8,118.54 L393.54,108.78 L394.27,96.59 L395,88.05 L395.73,82.56 L396.46,84.39 L397.2,91.71 L397.93,96.59 L398.66,99.02 L399.39,90.49 L400.12,78.29 L400.85,71.59 L401.34,73.41 L401.83,84.39 L402.32,102.68 L402.8,120.98 L403.29,135.61 L403.78,138.66 L404.27,133.17 L404.76,118.54 L405.24,106.34 L405.73,100.24 L406.22,103.9 L406.71,114.88 L407.2,133.17 L407.68,157.56 L408.17,173.41 L408.66,163.66 L409.15,145.37 L409.63,127.07 L410.12,118.54 L410.61,116.71 L411.1,127.07 L411.59,145.37 L412.07,155.12 L412.56,158.78 L413.05,152.68 L413.54,147.8 L414.02,145.37 L414.51,150.24 L415,155.12 L415.49,157.56 L415.98,156.34 L416.46,152.68 L416.95,147.8 L417.44,142.93 L417.93,138.05 L418.41,133.17 L418.9,130.12 L419.63,128.9 L420.37,128.29 L421.1,127.68 L421.83,126.83 L422.56,126.46 L423.29,126.46 L424.02,124.63 L424.76,120.98 L425.24,116.1 L425.73,108.78 L426.22,101.46 L426.71,95.37 L427.2,91.1 L427.68,89.88 L428.17,92.32 L428.66,100.24 L429.15,111.22 L429.63,120.98 L430.12,129.51 L430.61,135.61 L431.1,139.27 L431.59,140.49 L432.07,138.05 L432.56,135.61 L433.05,131.95 L433.54,129.51 L434.02,127.68 L434.51,127.07 L435,127.68 L435.49,130.73 L435.98,135.61 L436.46,139.27 L436.95,140.49 L437.44,139.27 L437.93,138.05 L438.41,140.49 L438.9,142.93 L439.39,145.37 L439.88,147.2 L440.37,148.41 L440.85,149.02 L441.34,147.8 L441.83,145.37 L442.32,142.93 L442.8,141.71 L443.29,141.46 L443.78,141.71 L444.27,145.37 L444.76,157.56 L445.24,167.32 L445.73,172.2 L446.22,175.24 L446.71,177.07 L447.2,175.85 L447.68,173.41 L448.17,172.8 L448.66,174.02 L449.15,175.24 L449.63,173.41 L450.84,174.31 L451.72,175.04 L452.59,179.42 L453.47,183.8 L454.34,186.72 L455.22,188.18 L456.39,188.91 L457.55,188.18 L458.72,188.91 L459.89,187.88 L461.06,188.18 L462.23,188.18 L463.39,186.72 L464.56,187.45 L465.44,185.26 L466.31,183.8 L467.19,183.07 L468.07,186.72 L468.94,189.64 L469.82,190.36 L470.69,188.91 L471.86,188.18 L473.03,186.72 L474.2,185.99 L475.07,185.26 L475.95,183.8 L476.82,183.07 L477.7,181.61 L478.58,180.15 L479.45,180.88 L480.33,183.8 L481.5,184.53 L482.66,183.8 L483.83,183.07 L484.71,183.8 L485.58,185.26 L486.46,185.26 L487.34,186.72 L488.21,188.91 L489.09,188.91 L489.96,188.18 L490.84,186.72 L491.72,185.26 L492.59,185.99 L493.47,184.53 L494.34,183.8 L495.22,185.26 L496.09,187.45 L496.97,188.91 L497.85,190.36 L498.72,191.82 L499.6,192.55 L500.47,191.09 L501.64,190.36 L502.52,189.64 L503.39,188.91 L504.27,188.91 L505.15,188.18 L506.02,186.72 L506.9,182.34 L507.77,176.5 L508.65,171.39 L509.53,169.2 L510.4,168.47 L511.28,168.91 L512.15,168.47 L513.03,169.2 L513.91,171.39 L514.78,173.58 L515.66,175.77 L516.53,177.23 L517.41,177.96 L518.28,178.69 L519.16,179.42 L520.04,183.8 L520.62,188.18 L521.2,192.55 L522.08,194.01 L523.25,194.31 L524.42,194.01 L525.58,194.31 L526.75,194.01 L527.92,194.74 L529.09,195.47 L530.26,195.18 L531.42,194.74 L532.59,195.47 L534.05,195.18 L535.51,195.47 L536.97,195.18 L538.43,195.77 L539.89,195.47 L543.58,196.42 L548.1,195.75 L552.63,194.61 L557.16,195.07 L561.68,193.48 L563.94,191.9 L566.21,192.8 L568.47,194.16 L570.73,192.8 L573,192.35 L575.26,193.48 L579.79,195.07 L584.31,196.88 L588.84,196.42 L593.36,195.75 L597.89,195.07 L602.41,194.16 L606.94,194.61 L611.47,195.07 L613.73,196.42 L615.99,192.35 L617.12,189.64 L618.26,188.5 L620.52,188.28 L622.78,188.5 L625.04,188.73 L627.31,188.96 L628.66,191.22 L629.57,194.61 L630.7,196.42 L631.83,197.33 L636.36,197.56 L640.88,197.33 L645.41,197.56 L649.94,197.56 L656.73,197.33 L665.78,197.33 L672.57,197.56 L678.8,197.33" fill="none" stroke="#000" stroke-width="1.7" stroke-linejoin="round"/>
<path d="M387.92,64.96 L389.42,65.43 L390.92,66.19 L392.42,67.22 L393.92,68.49 L395.42,70 L396.92,71.71 L398.42,73.61 L399.92,75.68 L401.42,77.89 L402.92,80.23 L404.42,82.67 L405.92,85.2 L407.42,87.8 L408.92,90.45 L410.42,93.14 L411.92,95.86 L413.42,98.6 L414.92,101.35 L416.42,104.09 L417.92,106.82 L419.42,109.51 L420.92,112.16 L422.42,114.76 L423.92,117.29 L425.42,119.75 L426.92,122.15 L428.42,124.49 L429.92,126.77 L431.42,129 L432.92,131.18 L434.42,133.31 L435.92,135.4 L437.42,137.45 L438.92,139.47 L440.42,141.46 L441.92,143.42 L443.42,145.34 L444.92,147.23 L446.42,149.07 L447.92,150.85 L449.42,152.58 L450.92,154.24 L452.42,155.82 L453.92,157.32 L455.42,158.75 L456.92,160.1 L458.42,161.38 L459.92,162.58 L461.42,163.73 L462.92,164.81 L464.42,165.83 L465.92,166.79 L467.42,167.69 L468.92,168.55 L470.42,169.35 L471.92,170.11 L473.42,170.82 L474.92,171.49 L476.42,172.12 L477.92,172.72 L479.42,173.28 L480.92,173.81 L482.42,174.31 L483.92,174.79 L485.42,175.25 L486.92,175.68 L488.42,176.1 L489.92,176.49 L491.42,176.87 L492.92,177.24 L494.42,177.6 L495.92,177.94 L497.42,178.28 L498.92,178.61 L500.42,178.94 L501.92,179.26 L503.42,179.57 L504.92,179.88 L506.42,180.19 L507.92,180.48 L509.42,180.78 L510.92,181.07 L512.42,181.35 L513.92,181.63 L515.42,181.9 L516.92,182.17 L518.42,182.43 L519.92,182.69 L521.42,182.94 L522.92,183.19 L524.42,183.43 L525.92,183.67 L527.42,183.9 L528.92,184.13 L530.42,184.36 L531.92,184.58 L533.42,184.8 L534.92,185.01 L536.42,185.22 L537.92,185.42 L539.42,185.62 L540.92,185.82 L542.42,186.01 L543.92,186.19 L545.42,186.38 L546.92,186.56 L548.42,186.73 L549.92,186.91 L551.42,187.08 L552.92,187.24 L554.42,187.4 L555.92,187.56 L557.42,187.71 L558.92,187.87 L560.42,188.01 L561.92,188.16 L563.42,188.3 L564.92,188.44 L566.42,188.57 L567.92,188.71 L569.42,188.83 L570.92,188.96 L572.42,189.08 L573.92,189.21 L575.42,189.32 L576.92,189.44 L578.42,189.55 L579.92,189.66 L581.42,189.77 L582.92,189.87 L584.42,189.98 L585.92,190.08 L587.42,190.18 L588.92,190.27 L590.42,190.37 L591.92,190.46 L593.42,190.55 L594.92,190.64 L596.42,190.72 L597.92,190.81 L599.42,190.89 L600.92,190.97 L602.42,191.05 L603.92,191.13 L605.42,191.2 L606.92,191.28 L608.42,191.35 L609.92,191.42 L611.42,191.49 L612.92,191.56 L614.42,191.63 L615.92,191.69 L617.42,191.76 L618.92,191.82 L620.42,191.89 L621.92,191.95 L623.42,192.01 L624.92,192.07 L626.42,192.13 L627.92,192.19 L629.42,192.25 L630.92,192.31 L632.42,192.37 L633.92,192.42 L635.42,192.48 L636.92,192.54 L638.42,192.59 L639.92,192.65 L641.42,192.71 L642.92,192.76 L644.42,192.82 L645.92,192.87 L647.42,192.93 L648.92,192.98 L650.42,193.04 L651.92,193.1 L653.42,193.15 L654.92,193.21 L656.42,193.27 L657.92,193.33 L659.42,193.39 L660.92,193.44 L662.42,193.5 L663.92,193.57 L665.42,193.63 L666.92,193.69 L668.42,193.75 L669.92,193.82 L671.42,193.88 L672.92,193.95 L674.42,194.02 L675.92,194.08 L677.42,194.15 L678.8,194.22" fill="none" stroke="#ff1a14" stroke-width="1.8"/>
<path d="M387.92,41.18 L389.42,41.96 L390.92,42.95 L392.42,44.14 L393.92,45.53 L395.42,47.09 L396.92,48.82 L398.42,50.72 L399.92,52.77 L401.42,54.96 L402.92,57.28 L404.42,59.73 L405.92,62.29 L407.42,64.95 L408.92,67.71 L410.42,70.55 L411.92,73.47 L413.42,76.45 L414.92,79.49 L416.42,82.57 L417.92,85.69 L419.42,88.83 L420.92,91.99 L422.42,95.16 L423.92,98.32 L425.42,101.48 L426.92,104.62 L428.42,107.73 L429.92,110.82 L431.42,113.87 L432.92,116.88 L434.42,119.84 L435.92,122.75 L437.42,125.61 L438.92,128.39 L440.42,131.11 L441.92,133.74 L443.42,136.3 L444.92,138.76 L446.42,141.13 L447.92,143.39 L449.42,145.55 L450.92,147.6 L452.42,149.52 L453.92,151.32 L455.42,153 L456.92,154.57 L458.42,156.04 L459.92,157.4 L461.42,158.67 L462.92,159.86 L464.42,160.96 L465.92,161.99 L467.42,162.95 L468.92,163.85 L470.42,164.7 L471.92,165.49 L473.42,166.24 L474.92,166.95 L476.42,167.63 L477.92,168.29 L479.42,168.93 L480.92,169.55 L482.42,170.17 L483.92,170.78 L485.42,171.39 L486.92,171.99 L488.42,172.57 L489.92,173.15 L491.42,173.71 L492.92,174.25 L494.42,174.77 L495.92,175.28 L497.42,175.77 L498.92,176.23 L500.42,176.67 L501.92,177.09 L503.42,177.5 L504.92,177.88 L506.42,178.24 L507.92,178.59 L509.42,178.92 L510.92,179.23 L512.42,179.54 L513.92,179.82 L515.42,180.1 L516.92,180.36 L518.42,180.61 L519.92,180.85 L521.42,181.09 L522.92,181.31 L524.42,181.53 L525.92,181.74 L527.42,181.95 L528.92,182.15 L530.42,182.35 L531.92,182.54 L533.42,182.74 L534.92,182.93 L536.42,183.11 L537.92,183.3 L539.42,183.48 L540.92,183.66 L542.42,183.83 L543.92,184.01 L545.42,184.18 L546.92,184.34 L548.42,184.51 L549.92,184.67 L551.42,184.83 L552.92,184.99 L554.42,185.15 L555.92,185.3 L557.42,185.45 L558.92,185.6 L560.42,185.74 L561.92,185.89 L563.42,186.03 L564.92,186.16 L566.42,186.3 L567.92,186.44 L569.42,186.57 L570.92,186.7 L572.42,186.83 L573.92,186.95 L575.42,187.08 L576.92,187.2 L578.42,187.32 L579.92,187.44 L581.42,187.55 L582.92,187.67 L584.42,187.78 L585.92,187.89 L587.42,188 L588.92,188.11 L590.42,188.21 L591.92,188.32 L593.42,188.42 L594.92,188.52 L596.42,188.62 L597.92,188.72 L599.42,188.81 L600.92,188.91 L602.42,189 L603.92,189.09 L605.42,189.18 L606.92,189.27 L608.42,189.36 L609.92,189.45 L611.42,189.53 L612.92,189.62 L614.42,189.7 L615.92,189.78 L617.42,189.87 L618.92,189.95 L620.42,190.02 L621.92,190.1 L623.42,190.18 L624.92,190.26 L626.42,190.33 L627.92,190.41 L629.42,190.48 L630.92,190.55 L632.42,190.62 L633.92,190.69 L635.42,190.77 L636.92,190.84 L638.42,190.9 L639.92,190.97 L641.42,191.04 L642.92,191.11 L644.42,191.18 L645.92,191.24 L647.42,191.31 L648.92,191.37 L650.42,191.44 L651.92,191.51 L653.42,191.57 L654.92,191.63 L656.42,191.7 L657.92,191.76 L659.42,191.83 L660.92,191.89 L662.42,191.95 L663.92,192.02 L665.42,192.08 L666.92,192.14 L668.42,192.21 L669.92,192.27 L671.42,192.34 L672.92,192.4 L674.42,192.46 L675.92,192.53 L677.42,192.59 L678.8,192.65" fill="none" stroke="#ff1a14" stroke-width="1.8" stroke-dasharray="6,5"/>
<rect x="419.1" y="84.0" width="27.10" height="114.20" fill="#cf374b" fill-opacity="0.25"/>
<rect x="502.0" y="159.1" width="20.70" height="39.10" fill="#3c8ce6" fill-opacity="0.25"/>
<rect x="613.3" y="177.0" width="20.30" height="21.20" fill="#28e628" fill-opacity="0.25"/>
</g>
<rect x="387.4" y="5.0" width="291.40" height="193.20" fill="none" stroke="#222" stroke-width="1.7"/>
<line x1="383.9" y1="38.9" x2="387.4" y2="38.9" stroke="#222" stroke-width="1.5"/>
<line x1="383.9" y1="92.0" x2="387.4" y2="92.0" stroke="#222" stroke-width="1.5"/>
<line x1="383.9" y1="145.1" x2="387.4" y2="145.1" stroke="#222" stroke-width="1.5"/>
<line x1="460.25" y1="198.2" x2="460.25" y2="201.7" stroke="#222" stroke-width="1.5"/>
<line x1="533.10" y1="198.2" x2="533.10" y2="201.7" stroke="#222" stroke-width="1.5"/>
<line x1="605.95" y1="198.2" x2="605.95" y2="201.7" stroke="#222" stroke-width="1.5"/>
<line x1="678.80" y1="198.2" x2="678.80" y2="201.7" stroke="#222" stroke-width="1.5"/>
<clipPath id="rc1"><rect x="388.2" y="227.6" width="291.40000000000003" height="204.20000000000002"/></clipPath>
<g clip-path="url(#rc1)">
<path d="M388.2,365.29 L389.7,365.4 L391.2,365.56 L392.7,365.75 L394.2,365.99 L395.7,366.26 L397.2,366.57 L398.7,366.92 L400.2,367.3 L401.7,367.72 L403.2,368.18 L404.7,368.67 L406.2,369.2 L407.7,369.76 L409.2,370.35 L410.7,370.98 L412.2,371.64 L413.7,372.33 L415.2,373.06 L416.7,373.81 L418.2,374.6 L419.7,375.42 L421.2,376.26 L422.7,377.14 L424.2,378.04 L425.7,378.98 L427.2,379.93 L428.7,380.91 L430.2,381.9 L431.7,382.91 L433.2,383.93 L434.7,384.96 L436.2,386 L437.7,387.04 L439.2,388.07 L440.7,389.11 L442.2,390.14 L443.7,391.16 L445.2,392.17 L446.7,393.17 L448.2,394.16 L449.7,395.14 L451.2,396.1 L452.7,397.04 L454.2,397.96 L455.7,398.86 L457.2,399.73 L458.7,400.59 L460.2,401.41 L461.7,402.21 L463.2,402.98 L464.7,403.72 L466.2,404.42 L467.7,405.1 L469.2,405.73 L470.7,406.33 L472.2,406.9 L473.7,407.43 L475.2,407.94 L476.7,408.41 L478.2,408.86 L479.7,409.29 L481.2,409.69 L482.7,410.06 L484.2,410.42 L485.7,410.76 L487.2,411.08 L488.7,411.38 L490.2,411.67 L491.7,411.95 L493.2,412.21 L494.7,412.47 L496.2,412.72 L497.7,412.96 L499.2,413.19 L500.7,413.43 L502.2,413.66 L503.7,413.89 L505.2,414.13 L506.7,414.36 L508.2,414.59 L509.7,414.83 L511.2,415.06 L512.7,415.3 L514.2,415.53 L515.7,415.77 L517.2,416 L518.7,416.23 L520.2,416.46 L521.7,416.69 L523.2,416.92 L524.7,417.15 L526.2,417.37 L527.7,417.6 L529.2,417.82 L530.7,418.03 L532.2,418.25 L533.7,418.46 L535.2,418.67 L536.7,418.87 L538.2,419.07 L539.7,419.27 L541.2,419.46 L542.7,419.65 L544.2,419.84 L545.7,420.02 L547.2,420.2 L548.7,420.37 L550.2,420.54 L551.7,420.71 L553.2,420.87 L554.7,421.03 L556.2,421.19 L557.7,421.35 L559.2,421.5 L560.7,421.64 L562.2,421.79 L563.7,421.93 L565.2,422.07 L566.7,422.2 L568.2,422.33 L569.7,422.46 L571.2,422.59 L572.7,422.71 L574.2,422.83 L575.7,422.95 L577.2,423.06 L578.7,423.18 L580.2,423.29 L581.7,423.39 L583.2,423.5 L584.7,423.6 L586.2,423.7 L587.7,423.79 L589.2,423.89 L590.7,423.98 L592.2,424.07 L593.7,424.16 L595.2,424.24 L596.7,424.33 L598.2,424.41 L599.7,424.49 L601.2,424.57 L602.7,424.64 L604.2,424.72 L605.7,424.79 L607.2,424.86 L608.7,424.92 L610.2,424.99 L611.7,425.06 L613.2,425.12 L614.7,425.18 L616.2,425.24 L617.7,425.3 L619.2,425.35 L620.7,425.41 L622.2,425.46 L623.7,425.52 L625.2,425.57 L626.7,425.62 L628.2,425.67 L629.7,425.72 L631.2,425.76 L632.7,425.81 L634.2,425.85 L635.7,425.9 L637.2,425.94 L638.7,425.98 L640.2,426.02 L641.7,426.06 L643.2,426.1 L644.7,426.14 L646.2,426.18 L647.7,426.22 L649.2,426.26 L650.7,426.29 L652.2,426.33 L653.7,426.37 L655.2,426.4 L656.7,426.44 L658.2,426.47 L659.7,426.51 L661.2,426.54 L662.7,426.58 L664.2,426.61 L665.7,426.65 L667.2,426.68 L668.7,426.72 L670.2,426.75 L671.7,426.79 L673.2,426.82 L674.7,426.86 L676.2,426.89 L677.7,426.93 L679.2,426.97 L679.6,426.98" fill="none" stroke="#686868" stroke-width="1.3"/>
<path d="M388.2,368.8 L390.23,370.02 L391.97,372.63 L393.71,372.98 L395.45,371.76 L397.2,370.02 L398.94,368.8 L402.42,367.75 L405.91,367.75 L409.39,368.8 L412.87,370.02 L416.36,371.76 L419.84,373.5 L423.33,375.24 L426.81,377.86 L430.3,380.47 L433.78,383.08 L437.26,384.83 L440.75,386.57 L443.5,388.62 L447.01,392.12 L450.51,394.75 L454.02,397.38 L457.52,400.53 L461.02,402.63 L464.53,404.39 L468.03,405.79 L475.04,407.89 L482.05,409.99 L489.05,411.39 L496.06,412.8 L503.07,414.02 L510.08,415.25 L517.08,416.3 L524.09,417.35 L531.1,418.4 L538.11,419.1 L545.12,419.8 L552.12,420.15 L573.98,423.51 L592.96,425.03 L611.94,426.16 L630.92,426.92 L649.89,427.49 L668.87,427.87 L679.6,428.06" fill="none" stroke="#ff1eff" stroke-width="1.5" stroke-dasharray="4,1.6,1.2,1.6"/>
<path d="M388.48,370.89 L389.18,304.69 L389.88,269.84 L390.57,257.65 L391.27,266.36 L391.97,280.3 L392.67,287.26 L393.36,269.84 L394.06,254.16 L394.76,248.94 L395.45,261.13 L396.15,275.07 L396.85,276.81 L397.54,261.13 L398.24,248.94 L398.94,243.71 L399.63,269.84 L400.33,313.4 L401.03,356.95 L401.72,391.79 L402.42,410.96 L403.12,416.18 L403.82,405.73 L404.51,388.31 L405.21,374.37 L405.91,367.4 L406.6,374.37 L407.3,383.08 L408,388.31 L408.69,379.6 L409.39,369.15 L410.09,367.4 L410.78,370.89 L411.48,367.4 L412.18,367.4 L412.87,360.44 L413.57,353.47 L414.27,355.21 L414.97,356.95 L415.66,367.4 L416.36,384.83 L417.06,390.05 L417.75,388.31 L418.45,383.08 L419.15,379.6 L419.84,381.34 L420.54,384.83 L421.24,383.08 L421.93,374.37 L422.63,367.4 L423.33,365.66 L424.02,370.89 L424.72,372.63 L425.42,369.15 L426.11,360.44 L426.81,349.98 L427.51,341.27 L428.21,339.53 L428.9,341.27 L429.6,343.01 L430.3,339.53 L430.99,334.3 L431.69,329.08 L432.39,325.59 L433.08,324.72 L433.78,325.59 L434.48,327.33 L435.17,329.95 L435.87,332.56 L436.57,339.53 L437.26,353.47 L437.96,367.4 L438.66,383.08 L439.36,395.28 L440.05,402.25 L440.75,406.6 L441.45,407.47 L442.63,407.89 L443.5,409.64 L444.38,411.39 L445.26,413.15 L446.13,411.39 L447.01,410.52 L447.88,412.27 L448.76,409.64 L449.64,407.89 L450.51,410.52 L451.39,406.14 L452.26,402.63 L452.96,409.64 L453.67,413.15 L454.37,406.14 L455.07,393.88 L455.77,378.11 L456.47,364.09 L457.17,357.08 L457.87,356.21 L458.57,360.59 L459.27,357.08 L459.97,360.59 L460.67,353.58 L461.37,350.08 L462.07,347.45 L462.78,353.58 L463.48,358.84 L464.18,365.84 L464.88,358.84 L465.58,353.58 L466.28,350.08 L466.98,349.2 L467.68,357.08 L468.38,371.1 L469.08,388.62 L469.78,402.63 L470.48,413.15 L471.18,414.9 L471.89,409.64 L472.59,413.15 L473.29,418.4 L473.99,420.15 L474.69,414.9 L475.39,402.63 L476.09,393.88 L476.79,390.37 L477.49,395.63 L478.19,402.63 L478.89,395.63 L479.59,392.12 L480.29,390.37 L481,392.12 L481.7,393.88 L482.4,392.12 L483.1,393.88 L483.8,395.63 L484.5,393.88 L485.2,397.38 L485.9,402.63 L486.6,409.64 L487.3,414.9 L488,414.9 L488.7,414.02 L489.4,414.9 L490.11,413.15 L490.81,411.39 L491.51,410.52 L492.21,409.64 L492.91,410.52 L493.61,409.64 L494.31,407.89 L495.01,406.14 L495.71,405.26 L496.41,404.39 L497.11,406.14 L497.81,404.39 L498.51,403.51 L499.22,404.39 L499.92,404.74 L500.62,406.14 L501.32,408.77 L502.02,411.39 L502.72,413.15 L503.42,414.9 L504.12,416.65 L504.82,418.4 L505.52,419.28 L506.22,419.8 L506.92,418.75 L507.62,416.65 L508.33,415.77 L509.03,416.65 L509.73,419.28 L510.43,420.15 L511.13,418.4 L511.83,415.77 L512.53,414.02 L513.23,414.9 L513.93,416.65 L514.63,418.4 L515.33,417.53 L516.03,415.77 L516.73,414.9 L517.44,416.65 L518.14,418.4 L518.84,419.28 L519.54,418.4 L520.24,413.15 L520.94,409.64 L521.64,411.39 L522.34,418.4 L523.04,413.15 L523.74,410.52 L524.44,414.9 L525.14,416.65 L525.84,413.15 L526.55,411.39 L527.25,413.15 L527.95,418.4 L528.65,414.9 L529.35,413.15 L530.05,414.02 L530.75,416.65 L531.45,418.4 L532.15,418.4 L532.85,420.15 L533.55,421.91 L534.25,420.15 L534.95,418.4 L535.66,419.28 L536.36,420.15 L537.06,420.15 L537.76,418.4 L538.46,420.15 L539.16,421.03 L539.86,419.28 L540.56,416.65 L541.26,415.77 L541.96,414.9 L542.66,416.65 L543.36,418.4 L544.06,418.4 L544.77,419.28 L545.47,420.15 L546.17,420.15 L546.87,420.15 L547.57,421.03 L548.27,420.15 L548.97,419.28 L549.67,421.91 L550.37,420.15 L551.07,419.28 L551.77,421.03 L552.47,425.41 L553.17,426.29 L553.88,427.16 L554.58,426.81 L555.28,426.29 L555.98,425.41 L556.68,425.06 L557.38,425.41 L558.26,424.53 L559.13,424.01 L560.69,423.51 L562.59,424.46 L564.49,428.25 L566.39,423.51 L568.29,427.68 L570.18,423.51 L572.08,424.46 L573.98,423.51 L575.88,424.46 L577.77,425.41 L579.67,425.03 L581.57,425.78 L583.47,426.35 L585.37,425.41 L587.26,426.35 L589.16,427.68 L591.06,426.92 L592.96,423.51 L593.91,419.33 L594.86,418.76 L595.8,419.71 L596.75,422.56 L597.7,421.23 L598.65,420.66 L599.6,419.71 L600.55,423.51 L601.5,424.46 L602.45,421.99 L603.4,420.66 L604.35,421.61 L605.29,424.46 L606.24,423.51 L607.19,421.99 L608.14,419.71 L609.09,418.19 L610.04,417.81 L610.99,417.81 L611.94,418.19 L612.89,417.43 L613.83,417.81 L614.78,417.81 L615.73,417.43 L616.68,418.19 L617.63,417.81 L618.58,419.71 L619.53,423.51 L620.48,426.35 L621.43,427.68 L623.32,427.68 L625.22,428.25 L627.12,428.44 L629.02,428.82 L630.92,428.25 L632.81,428.82 L634.71,428.44 L636.61,427.68 L638.51,426.92 L640.41,427.3 L642.3,427.68 L644.2,426.35 L646.1,427.3 L648,427.68 L649.89,426.92 L651.79,426.35 L653.69,427.3 L655.59,426.92 L657.49,427.68 L659.38,427.3 L661.28,426.92 L663.18,427.3 L665.08,427.68 L666.98,427.68 L668.87,426.92 L670.77,426.35 L672.67,426.35 L674.57,425.41 L676.47,425.41 L678.36,426.35 L679.6,427.3" fill="none" stroke="#000" stroke-width="1.7" stroke-linejoin="round"/>
<path d="M388.2,312.73 L389.7,313.34 L391.2,314.05 L392.7,314.84 L394.2,315.71 L395.7,316.66 L397.2,317.68 L398.7,318.76 L400.2,319.91 L401.7,321.11 L403.2,322.37 L404.7,323.68 L406.2,325.03 L407.7,326.41 L409.2,327.83 L410.7,329.29 L412.2,330.76 L413.7,332.26 L415.2,333.77 L416.7,335.29 L418.2,336.82 L419.7,338.35 L421.2,339.87 L422.7,341.39 L424.2,342.9 L425.7,344.38 L427.2,345.85 L428.7,347.29 L430.2,348.71 L431.7,350.11 L433.2,351.5 L434.7,352.86 L436.2,354.21 L437.7,355.55 L439.2,356.88 L440.7,358.2 L442.2,359.52 L443.7,360.82 L445.2,362.13 L446.7,363.43 L448.2,364.74 L449.7,366.04 L451.2,367.35 L452.7,368.66 L454.2,369.98 L455.7,371.3 L457.2,372.63 L458.7,373.96 L460.2,375.28 L461.7,376.6 L463.2,377.91 L464.7,379.21 L466.2,380.49 L467.7,381.75 L469.2,382.98 L470.7,384.19 L472.2,385.37 L473.7,386.52 L475.2,387.63 L476.7,388.7 L478.2,389.73 L479.7,390.73 L481.2,391.69 L482.7,392.62 L484.2,393.52 L485.7,394.39 L487.2,395.24 L488.7,396.05 L490.2,396.84 L491.7,397.61 L493.2,398.35 L494.7,399.07 L496.2,399.77 L497.7,400.45 L499.2,401.11 L500.7,401.74 L502.2,402.35 L503.7,402.95 L505.2,403.52 L506.7,404.07 L508.2,404.61 L509.7,405.12 L511.2,405.62 L512.7,406.1 L514.2,406.57 L515.7,407.01 L517.2,407.45 L518.7,407.86 L520.2,408.26 L521.7,408.65 L523.2,409.02 L524.7,409.37 L526.2,409.72 L527.7,410.05 L529.2,410.36 L530.7,410.67 L532.2,410.96 L533.7,411.24 L535.2,411.51 L536.7,411.78 L538.2,412.03 L539.7,412.27 L541.2,412.5 L542.7,412.72 L544.2,412.94 L545.7,413.15 L547.2,413.35 L548.7,413.54 L550.2,413.73 L551.7,413.91 L553.2,414.09 L554.7,414.26 L556.2,414.42 L557.7,414.59 L559.2,414.74 L560.7,414.9 L562.2,415.05 L563.7,415.2 L565.2,415.35 L566.7,415.5 L568.2,415.64 L569.7,415.79 L571.2,415.93 L572.7,416.08 L574.2,416.22 L575.7,416.37 L577.2,416.52 L578.7,416.67 L580.2,416.82 L581.7,416.97 L583.2,417.12 L584.7,417.27 L586.2,417.42 L587.7,417.58 L589.2,417.73 L590.7,417.88 L592.2,418.03 L593.7,418.19 L595.2,418.34 L596.7,418.49 L598.2,418.65 L599.7,418.8 L601.2,418.95 L602.7,419.1 L604.2,419.25 L605.7,419.4 L607.2,419.55 L608.7,419.7 L610.2,419.85 L611.7,419.99 L613.2,420.14 L614.7,420.28 L616.2,420.42 L617.7,420.56 L619.2,420.7 L620.7,420.84 L622.2,420.97 L623.7,421.1 L625.2,421.23 L626.7,421.36 L628.2,421.49 L629.7,421.62 L631.2,421.74 L632.7,421.86 L634.2,421.97 L635.7,422.09 L637.2,422.2 L638.7,422.31 L640.2,422.41 L641.7,422.52 L643.2,422.62 L644.7,422.71 L646.2,422.81 L647.7,422.9 L649.2,422.98 L650.7,423.07 L652.2,423.14 L653.7,423.22 L655.2,423.29 L656.7,423.36 L658.2,423.42 L659.7,423.48 L661.2,423.53 L662.7,423.58 L664.2,423.63 L665.7,423.67 L667.2,423.71 L668.7,423.74 L670.2,423.77 L671.7,423.79 L673.2,423.8 L674.7,423.82 L676.2,423.82 L677.7,423.82 L679.2,423.82 L679.6,423.82" fill="none" stroke="#ff1a14" stroke-width="1.8"/>
<path d="M388.2,292.6 L389.7,293.32 L391.2,294.11 L392.7,294.95 L394.2,295.85 L395.7,296.8 L397.2,297.81 L398.7,298.88 L400.2,300 L401.7,301.17 L403.2,302.4 L404.7,303.69 L406.2,305.02 L407.7,306.41 L409.2,307.85 L410.7,309.35 L412.2,310.89 L413.7,312.48 L415.2,314.12 L416.7,315.79 L418.2,317.51 L419.7,319.26 L421.2,321.04 L422.7,322.85 L424.2,324.68 L425.7,326.52 L427.2,328.38 L428.7,330.24 L430.2,332.1 L431.7,333.95 L433.2,335.8 L434.7,337.63 L436.2,339.44 L437.7,341.23 L439.2,342.99 L440.7,344.73 L442.2,346.43 L443.7,348.12 L445.2,349.77 L446.7,351.41 L448.2,353.02 L449.7,354.61 L451.2,356.17 L452.7,357.72 L454.2,359.25 L455.7,360.75 L457.2,362.24 L458.7,363.71 L460.2,365.16 L461.7,366.58 L463.2,367.99 L464.7,369.37 L466.2,370.73 L467.7,372.07 L469.2,373.38 L470.7,374.68 L472.2,375.95 L473.7,377.19 L475.2,378.42 L476.7,379.61 L478.2,380.79 L479.7,381.94 L481.2,383.06 L482.7,384.16 L484.2,385.23 L485.7,386.27 L487.2,387.29 L488.7,388.28 L490.2,389.24 L491.7,390.18 L493.2,391.09 L494.7,391.97 L496.2,392.83 L497.7,393.66 L499.2,394.46 L500.7,395.25 L502.2,396 L503.7,396.74 L505.2,397.45 L506.7,398.14 L508.2,398.81 L509.7,399.45 L511.2,400.08 L512.7,400.68 L514.2,401.27 L515.7,401.83 L517.2,402.37 L518.7,402.9 L520.2,403.41 L521.7,403.9 L523.2,404.37 L524.7,404.83 L526.2,405.27 L527.7,405.7 L529.2,406.1 L530.7,406.5 L532.2,406.88 L533.7,407.25 L535.2,407.6 L536.7,407.94 L538.2,408.27 L539.7,408.58 L541.2,408.88 L542.7,409.18 L544.2,409.46 L545.7,409.73 L547.2,409.99 L548.7,410.25 L550.2,410.49 L551.7,410.73 L553.2,410.96 L554.7,411.18 L556.2,411.39 L557.7,411.6 L559.2,411.81 L560.7,412 L562.2,412.2 L563.7,412.38 L565.2,412.57 L566.7,412.75 L568.2,412.93 L569.7,413.1 L571.2,413.28 L572.7,413.45 L574.2,413.62 L575.7,413.79 L577.2,413.96 L578.7,414.13 L580.2,414.3 L581.7,414.47 L583.2,414.64 L584.7,414.8 L586.2,414.97 L587.7,415.13 L589.2,415.3 L590.7,415.46 L592.2,415.62 L593.7,415.78 L595.2,415.94 L596.7,416.1 L598.2,416.26 L599.7,416.41 L601.2,416.57 L602.7,416.72 L604.2,416.87 L605.7,417.02 L607.2,417.17 L608.7,417.32 L610.2,417.47 L611.7,417.61 L613.2,417.75 L614.7,417.9 L616.2,418.04 L617.7,418.17 L619.2,418.31 L620.7,418.45 L622.2,418.58 L623.7,418.71 L625.2,418.84 L626.7,418.97 L628.2,419.09 L629.7,419.22 L631.2,419.34 L632.7,419.46 L634.2,419.58 L635.7,419.69 L637.2,419.81 L638.7,419.92 L640.2,420.03 L641.7,420.13 L643.2,420.24 L644.7,420.34 L646.2,420.44 L647.7,420.54 L649.2,420.63 L650.7,420.73 L652.2,420.82 L653.7,420.9 L655.2,420.99 L656.7,421.07 L658.2,421.15 L659.7,421.23 L661.2,421.3 L662.7,421.37 L664.2,421.44 L665.7,421.51 L667.2,421.57 L668.7,421.63 L670.2,421.69 L671.7,421.74 L673.2,421.79 L674.7,421.84 L676.2,421.89 L677.7,421.93 L679.2,421.97 L679.6,421.98" fill="none" stroke="#ff1a14" stroke-width="1.8" stroke-dasharray="6,5"/>
<rect x="426.8" y="316.4" width="16.50" height="115.40" fill="#cf374b" fill-opacity="0.25"/>
<rect x="452.0" y="345.5" width="32.90" height="86.30" fill="#3c8ce6" fill-opacity="0.25"/>
<rect x="591.1" y="397.9" width="28.40" height="33.90" fill="#28e628" fill-opacity="0.25"/>
</g>
<rect x="388.2" y="227.6" width="291.40" height="204.20" fill="none" stroke="#222" stroke-width="1.7"/>
<line x1="384.7" y1="249.5" x2="388.2" y2="249.5" stroke="#222" stroke-width="1.5"/>
<line x1="384.7" y1="310.1" x2="388.2" y2="310.1" stroke="#222" stroke-width="1.5"/>
<line x1="384.7" y1="370.7" x2="388.2" y2="370.7" stroke="#222" stroke-width="1.5"/>
<line x1="461.05" y1="431.8" x2="461.05" y2="435.3" stroke="#222" stroke-width="1.5"/>
<line x1="533.90" y1="431.8" x2="533.90" y2="435.3" stroke="#222" stroke-width="1.5"/>
<line x1="606.75" y1="431.8" x2="606.75" y2="435.3" stroke="#222" stroke-width="1.5"/>
<line x1="679.60" y1="431.8" x2="679.60" y2="435.3" stroke="#222" stroke-width="1.5"/>
<clipPath id="rc2"><rect x="386.3" y="459.6" width="291.3" height="186.39999999999998"/></clipPath>
<g clip-path="url(#rc2)">
<path d="M386.3,580.75 L387.8,580.85 L389.3,581.05 L390.8,581.33 L392.3,581.69 L393.8,582.12 L395.3,582.62 L396.8,583.19 L398.3,583.82 L399.8,584.51 L401.3,585.25 L402.8,586.04 L404.3,586.87 L405.8,587.75 L407.3,588.66 L408.8,589.61 L410.3,590.58 L411.8,591.58 L413.3,592.59 L414.8,593.63 L416.3,594.67 L417.8,595.72 L419.3,596.77 L420.8,597.82 L422.3,598.87 L423.8,599.9 L425.3,600.92 L426.8,601.94 L428.3,602.94 L429.8,603.92 L431.3,604.9 L432.8,605.86 L434.3,606.81 L435.8,607.75 L437.3,608.67 L438.8,609.58 L440.3,610.47 L441.8,611.35 L443.3,612.21 L444.8,613.06 L446.3,613.89 L447.8,614.71 L449.3,615.51 L450.8,616.29 L452.3,617.05 L453.8,617.8 L455.3,618.53 L456.8,619.24 L458.3,619.93 L459.8,620.6 L461.3,621.25 L462.8,621.89 L464.3,622.5 L465.8,623.1 L467.3,623.69 L468.8,624.25 L470.3,624.8 L471.8,625.33 L473.3,625.85 L474.8,626.35 L476.3,626.83 L477.8,627.3 L479.3,627.75 L480.8,628.2 L482.3,628.62 L483.8,629.03 L485.3,629.43 L486.8,629.82 L488.3,630.19 L489.8,630.56 L491.3,630.91 L492.8,631.24 L494.3,631.57 L495.8,631.89 L497.3,632.19 L498.8,632.49 L500.3,632.77 L501.8,633.05 L503.3,633.31 L504.8,633.57 L506.3,633.82 L507.8,634.06 L509.3,634.29 L510.8,634.51 L512.3,634.73 L513.8,634.94 L515.3,635.15 L516.8,635.34 L518.3,635.53 L519.8,635.72 L521.3,635.9 L522.8,636.08 L524.3,636.25 L525.8,636.41 L527.3,636.58 L528.8,636.73 L530.3,636.89 L531.8,637.04 L533.3,637.18 L534.8,637.32 L536.3,637.46 L537.8,637.59 L539.3,637.72 L540.8,637.84 L542.3,637.96 L543.8,638.08 L545.3,638.19 L546.8,638.3 L548.3,638.4 L549.8,638.5 L551.3,638.6 L552.8,638.7 L554.3,638.79 L555.8,638.88 L557.3,638.96 L558.8,639.05 L560.3,639.13 L561.8,639.2 L563.3,639.28 L564.8,639.35 L566.3,639.42 L567.8,639.48 L569.3,639.54 L570.8,639.61 L572.3,639.66 L573.8,639.72 L575.3,639.77 L576.8,639.83 L578.3,639.88 L579.8,639.92 L581.3,639.97 L582.8,640.01 L584.3,640.06 L585.8,640.1 L587.3,640.14 L588.8,640.17 L590.3,640.21 L591.8,640.24 L593.3,640.28 L594.8,640.31 L596.3,640.34 L597.8,640.37 L599.3,640.4 L600.8,640.43 L602.3,640.45 L603.8,640.48 L605.3,640.5 L606.8,640.53 L608.3,640.55 L609.8,640.58 L611.3,640.6 L612.8,640.62 L614.3,640.64 L615.8,640.67 L617.3,640.69 L618.8,640.71 L620.3,640.73 L621.8,640.75 L623.3,640.78 L624.8,640.8 L626.3,640.82 L627.8,640.84 L629.3,640.87 L630.8,640.89 L632.3,640.92 L633.8,640.94 L635.3,640.97 L636.8,641 L638.3,641.02 L639.8,641.05 L641.3,641.08 L642.8,641.11 L644.3,641.14 L645.8,641.18 L647.3,641.21 L648.8,641.25 L650.3,641.29 L651.8,641.33 L653.3,641.37 L654.8,641.41 L656.3,641.45 L657.8,641.5 L659.3,641.55 L660.8,641.6 L662.3,641.65 L663.8,641.7 L665.3,641.76 L666.8,641.82 L668.3,641.88 L669.8,641.95 L671.3,642.01 L672.8,642.08 L674.3,642.15 L675.8,642.23 L677.26,642.3" fill="none" stroke="#686868" stroke-width="1.3"/>
<path d="M386.3,576.25 L388.44,580.7 L391.4,583.66 L394.37,584.4 L397.33,585.14 L400.29,585.88 L403.25,586.62 L406.21,588.1 L409.17,590.32 L412.14,592.54 L415.1,594.76 L418.06,596.99 L421.02,598.47 L423.98,599.95 L426.94,602.17 L428.42,604.39 L429.91,605.87 L431.39,606.61 L434.35,607.35 L437.31,608.83 L440.27,610.31 L443.23,611.05 L446.19,611.79 L449.16,612.53 L452.12,614.01 L455.08,616.24 L458.04,617.72 L461,619.2 L463.96,619.94 L466.93,620.97 L469.89,621.42 L472.85,622.16 L475.81,622.46 L478.77,622.9 L486.76,626.22 L495.52,629.2 L504.28,631.83 L513.04,634.46 L521.8,636.56 L530.56,638.14 L539.32,639.19 L548.08,639.89 L556.84,640.59 L565.6,641.11 L574.36,641.46 L583.12,641.81 L591.88,642.17 L592.01,642.55 L614.2,643.28 L643.39,643.87 L677.26,644.31" fill="none" stroke="#ff1eff" stroke-width="1.5" stroke-dasharray="4,1.6,1.2,1.6"/>
<path d="M386.67,644.37 L387.26,628.08 L387.85,613.27 L388.44,602.91 L389.03,599.95 L389.63,599.21 L390.22,598.47 L390.81,592.54 L391.4,583.66 L392,574.77 L392.59,565.89 L393.18,559.96 L393.77,557 L394.37,555.52 L394.96,556.26 L395.55,557 L396.14,558.48 L396.74,559.96 L397.33,559.96 L397.92,560.7 L398.51,561.45 L399.1,562.19 L399.7,557 L400.29,548.12 L400.88,539.23 L401.47,531.83 L402.07,528.87 L402.66,530.35 L403.25,536.27 L403.84,534.79 L404.44,533.31 L405.03,536.27 L405.62,536.27 L406.21,542.19 L406.8,554.04 L407.4,564.41 L407.99,559.96 L408.58,546.64 L409.17,531.83 L409.77,521.46 L410.36,518.5 L410.95,524.42 L411.54,539.23 L412.14,557 L412.73,565.89 L413.32,568.85 L413.91,565.89 L414.5,564.41 L415.1,567.37 L415.69,568.85 L416.28,571.81 L416.87,573.29 L417.47,568.85 L418.06,565.89 L418.65,564.41 L419.24,562.93 L419.84,561.45 L420.43,562.93 L421.02,567.37 L421.61,574.77 L422.21,580.7 L422.8,586.62 L423.39,594.02 L423.98,598.47 L424.57,595.5 L425.17,589.58 L425.76,582.18 L426.35,576.25 L426.94,573.29 L427.54,574.03 L428.13,577.73 L428.72,580.7 L429.31,583.66 L429.91,583.66 L430.5,585.14 L431.09,583.66 L431.68,585.14 L432.27,585.14 L432.87,584.4 L433.46,584.4 L434.05,585.14 L434.64,583.66 L435.24,584.4 L435.83,586.62 L436.42,592.54 L437.01,598.47 L437.61,605.87 L438.2,613.27 L438.79,622.16 L439.38,626.6 L439.98,628.08 L440.57,626.6 L441.16,622.16 L441.75,617.72 L442.34,614.75 L442.94,613.27 L443.53,612.53 L444.12,611.79 L444.71,610.31 L445.31,610.31 L445.9,610.61 L446.49,610.31 L447.08,610.61 L447.68,610.31 L448.27,608.83 L448.86,605.87 L449.45,601.43 L450.04,596.99 L450.64,594.02 L451.23,593.28 L451.82,595.5 L452.41,602.91 L453.01,608.83 L453.6,613.27 L454.19,616.24 L454.78,619.2 L455.38,622.16 L455.97,620.68 L456.56,617.72 L457.15,622.16 L457.75,623.64 L458.34,620.68 L458.93,616.24 L459.52,614.75 L460.11,617.72 L460.71,625.12 L461.3,629.56 L461.89,631.04 L462.48,629.56 L463.08,628.08 L463.67,626.6 L464.26,625.12 L464.85,626.6 L465.45,628.08 L466.04,626.6 L466.63,624.38 L467.22,623.64 L467.81,625.86 L468.41,625.12 L469,623.64 L469.59,625.12 L470.18,628.08 L470.78,632.52 L471.37,636.97 L471.96,638.45 L472.55,636.97 L473.15,631.04 L473.74,625.12 L474.33,620.68 L474.92,617.72 L475.51,619.2 L476.11,620.68 L476.7,622.16 L477.29,620.68 L477.88,619.2 L478.48,619.94 L479.07,620.68 L479.66,619.2 L480.63,619.57 L481.5,616.06 L482.38,610.81 L483.26,607.3 L484.13,606.43 L485.01,610.81 L485.88,617.81 L486.76,621.32 L487.64,624.82 L488.51,625.7 L489.39,623.95 L490.26,622.19 L491.14,620.44 L492.02,621.32 L492.89,623.07 L493.77,624.82 L494.64,628.33 L495.52,631.83 L496.4,635.33 L497.27,633.58 L498.15,630.08 L499.02,626.57 L499.9,624.82 L500.78,623.07 L501.65,619.57 L502.53,614.31 L503.4,612.21 L504.28,614.31 L505.15,619.57 L506.03,624.82 L506.91,620.44 L507.78,618.69 L508.66,619.57 L509.53,623.07 L510.41,630.08 L511.29,631.83 L512.16,628.33 L513.04,626.57 L513.91,628.33 L514.79,631.83 L515.67,635.33 L516.54,637.96 L517.42,638.84 L518.29,639.71 L519.17,638.84 L520.05,637.96 L520.92,638.84 L521.8,639.71 L522.67,639.19 L523.55,638.84 L524.43,638.49 L525.3,638.84 L527.05,639.71 L528.81,640.59 L530.56,639.71 L532.31,640.59 L534.06,638.84 L535.81,637.08 L537.57,637.96 L538.44,641.46 L539.32,642.34 L541.07,642.34 L542.82,641.99 L544.57,642.34 L546.33,642.69 L548.08,643.22 L549.83,643.39 L551.58,643.22 L553.33,643.04 L555.08,642.69 L556.84,642.34 L558.59,641.99 L560.34,641.64 L562.09,641.46 L563.84,640.59 L564.72,637.08 L565.6,634.46 L566.47,633.58 L567.35,634.46 L568.22,635.68 L569.1,637.08 L569.98,637.96 L570.85,637.08 L571.73,637.96 L572.6,638.84 L573.48,637.08 L574.36,636.73 L575.23,637.96 L576.11,640.59 L576.98,641.46 L577.86,640.94 L578.74,639.71 L579.61,638.84 L580.49,639.19 L581.36,640.24 L582.24,639.71 L583.12,638.84 L583.99,639.19 L584.87,638.84 L585.74,638.49 L586.62,639.19 L587.5,639.71 L588.37,638.84 L589.25,637.08 L590.12,636.73 L591,637.96 L591.88,639.71 L592.01,637.45 L593.76,640.36 L596.68,641.09 L599.6,641.39 L602.52,642.55 L605.44,644.74 L608.36,645.18 L611.28,644.74 L614.2,643.28 L617.12,642.55 L620.04,642.85 L622.96,643.72 L625.88,644.74 L628.8,645.18 L631.72,644.31 L634.64,643.28 L637.55,642.85 L640.47,642.55 L643.39,641.39 L646.31,641.82 L649.23,642.55 L652.15,643.28 L655.07,644.31 L657.99,644.01 L660.91,643.28 L663.83,642.55 L666.75,642.26 L669.67,642.85 L672.59,643.28 L677.26,643.28" fill="none" stroke="#000" stroke-width="1.7" stroke-linejoin="round"/>
<path d="M386.3,530.19 L387.8,530.49 L389.3,530.95 L390.8,531.54 L392.3,532.27 L393.8,533.13 L395.3,534.11 L396.8,535.21 L398.3,536.41 L399.8,537.71 L401.3,539.11 L402.8,540.59 L404.3,542.15 L405.8,543.79 L407.3,545.49 L408.8,547.25 L410.3,549.06 L411.8,550.91 L413.3,552.8 L414.8,554.72 L416.3,556.67 L417.8,558.63 L419.3,560.6 L420.8,562.57 L422.3,564.54 L423.8,566.5 L425.3,568.44 L426.8,570.36 L428.3,572.27 L429.8,574.16 L431.3,576.02 L432.8,577.86 L434.3,579.68 L435.8,581.47 L437.3,583.22 L438.8,584.94 L440.3,586.63 L441.8,588.29 L443.3,589.9 L444.8,591.48 L446.3,593.01 L447.8,594.5 L449.3,595.94 L450.8,597.33 L452.3,598.67 L453.8,599.96 L455.3,601.2 L456.8,602.38 L458.3,603.5 L459.8,604.57 L461.3,605.57 L462.8,606.53 L464.3,607.44 L465.8,608.3 L467.3,609.12 L468.8,609.91 L470.3,610.66 L471.8,611.38 L473.3,612.07 L474.8,612.74 L476.3,613.39 L477.8,614.03 L479.3,614.65 L480.8,615.25 L482.3,615.84 L483.8,616.41 L485.3,616.96 L486.8,617.51 L488.3,618.03 L489.8,618.55 L491.3,619.05 L492.8,619.53 L494.3,620.01 L495.8,620.47 L497.3,620.92 L498.8,621.36 L500.3,621.79 L501.8,622.2 L503.3,622.61 L504.8,623 L506.3,623.39 L507.8,623.76 L509.3,624.13 L510.8,624.49 L512.3,624.84 L513.8,625.18 L515.3,625.51 L516.8,625.84 L518.3,626.16 L519.8,626.47 L521.3,626.78 L522.8,627.08 L524.3,627.38 L525.8,627.67 L527.3,627.95 L528.8,628.23 L530.3,628.5 L531.8,628.77 L533.3,629.03 L534.8,629.29 L536.3,629.54 L537.8,629.79 L539.3,630.03 L540.8,630.27 L542.3,630.5 L543.8,630.73 L545.3,630.95 L546.8,631.17 L548.3,631.38 L549.8,631.59 L551.3,631.8 L552.8,632 L554.3,632.19 L555.8,632.39 L557.3,632.57 L558.8,632.76 L560.3,632.94 L561.8,633.11 L563.3,633.29 L564.8,633.45 L566.3,633.62 L567.8,633.78 L569.3,633.94 L570.8,634.09 L572.3,634.24 L573.8,634.39 L575.3,634.53 L576.8,634.67 L578.3,634.81 L579.8,634.94 L581.3,635.08 L582.8,635.2 L584.3,635.33 L585.8,635.45 L587.3,635.57 L588.8,635.69 L590.3,635.81 L591.8,635.92 L593.3,636.03 L594.8,636.14 L596.3,636.24 L597.8,636.35 L599.3,636.45 L600.8,636.55 L602.3,636.64 L603.8,636.74 L605.3,636.83 L606.8,636.92 L608.3,637.01 L609.8,637.1 L611.3,637.19 L612.8,637.27 L614.3,637.36 L615.8,637.44 L617.3,637.52 L618.8,637.6 L620.3,637.68 L621.8,637.75 L623.3,637.83 L624.8,637.91 L626.3,637.98 L627.8,638.06 L629.3,638.13 L630.8,638.2 L632.3,638.27 L633.8,638.34 L635.3,638.42 L636.8,638.49 L638.3,638.56 L639.8,638.63 L641.3,638.7 L642.8,638.77 L644.3,638.84 L645.8,638.91 L647.3,638.98 L648.8,639.05 L650.3,639.12 L651.8,639.19 L653.3,639.26 L654.8,639.33 L656.3,639.41 L657.8,639.48 L659.3,639.55 L660.8,639.63 L662.3,639.7 L663.8,639.78 L665.3,639.86 L666.8,639.94 L668.3,640.02 L669.8,640.1 L671.3,640.18 L672.8,640.26 L674.3,640.35 L675.8,640.44 L677.26,640.52" fill="none" stroke="#ff1a14" stroke-width="1.8"/>
<path d="M386.3,509.52 L387.8,509.79 L389.3,510.63 L390.8,511.95 L392.3,513.64 L393.8,515.6 L395.3,517.71 L396.8,519.87 L398.3,522.05 L399.8,524.25 L401.3,526.47 L402.8,528.71 L404.3,530.98 L405.8,533.27 L407.3,535.59 L408.8,537.92 L410.3,540.25 L411.8,542.58 L413.3,544.88 L414.8,547.16 L416.3,549.4 L417.8,551.6 L419.3,553.73 L420.8,555.8 L422.3,557.78 L423.8,559.68 L425.3,561.5 L426.8,563.25 L428.3,564.93 L429.8,566.57 L431.3,568.17 L432.8,569.75 L434.3,571.31 L435.8,572.86 L437.3,574.42 L438.8,575.99 L440.3,577.59 L441.8,579.23 L443.3,580.89 L444.8,582.57 L446.3,584.24 L447.8,585.91 L449.3,587.56 L450.8,589.17 L452.3,590.73 L453.8,592.24 L455.3,593.67 L456.8,595.03 L458.3,596.29 L459.8,597.45 L461.3,598.52 L462.8,599.51 L464.3,600.42 L465.8,601.27 L467.3,602.07 L468.8,602.82 L470.3,603.54 L471.8,604.23 L473.3,604.91 L474.8,605.58 L476.3,606.26 L477.8,606.95 L479.3,607.64 L480.8,608.34 L482.3,609.05 L483.8,609.75 L485.3,610.46 L486.8,611.16 L488.3,611.86 L489.8,612.54 L491.3,613.22 L492.8,613.89 L494.3,614.54 L495.8,615.17 L497.3,615.79 L498.8,616.38 L500.3,616.96 L501.8,617.53 L503.3,618.07 L504.8,618.6 L506.3,619.11 L507.8,619.6 L509.3,620.08 L510.8,620.54 L512.3,620.99 L513.8,621.42 L515.3,621.83 L516.8,622.23 L518.3,622.62 L519.8,622.99 L521.3,623.35 L522.8,623.69 L524.3,624.02 L525.8,624.34 L527.3,624.65 L528.8,624.94 L530.3,625.23 L531.8,625.5 L533.3,625.76 L534.8,626.02 L536.3,626.26 L537.8,626.5 L539.3,626.73 L540.8,626.96 L542.3,627.18 L543.8,627.39 L545.3,627.6 L546.8,627.8 L548.3,628 L549.8,628.2 L551.3,628.4 L552.8,628.59 L554.3,628.78 L555.8,628.97 L557.3,629.16 L558.8,629.35 L560.3,629.55 L561.8,629.74 L563.3,629.94 L564.8,630.14 L566.3,630.34 L567.8,630.54 L569.3,630.76 L570.8,630.97 L572.3,631.19 L573.8,631.42 L575.3,631.66 L576.8,631.9 L578.3,632.15 L579.8,632.4 L581.3,632.65 L582.8,632.9 L584.3,633.15 L585.8,633.4 L587.3,633.64 L588.8,633.88 L590.3,634.11 L591.8,634.33 L593.3,634.54 L594.8,634.75 L596.3,634.94 L597.8,635.12 L599.3,635.3 L600.8,635.46 L602.3,635.62 L603.8,635.77 L605.3,635.91 L606.8,636.04 L608.3,636.17 L609.8,636.28 L611.3,636.4 L612.8,636.5 L614.3,636.6 L615.8,636.69 L617.3,636.78 L618.8,636.86 L620.3,636.94 L621.8,637.01 L623.3,637.07 L624.8,637.14 L626.3,637.2 L627.8,637.25 L629.3,637.3 L630.8,637.35 L632.3,637.4 L633.8,637.44 L635.3,637.48 L636.8,637.52 L638.3,637.56 L639.8,637.6 L641.3,637.63 L642.8,637.67 L644.3,637.7 L645.8,637.73 L647.3,637.77 L648.8,637.8 L650.3,637.84 L651.8,637.87 L653.3,637.91 L654.8,637.95 L656.3,637.99 L657.8,638.03 L659.3,638.08 L660.8,638.13 L662.3,638.18 L663.8,638.23 L665.3,638.29 L666.8,638.35 L668.3,638.42 L669.8,638.49 L671.3,638.56 L672.8,638.64 L674.3,638.73 L675.8,638.82 L677.26,638.91" fill="none" stroke="#ff1a14" stroke-width="1.8" stroke-dasharray="6,5"/>
<rect x="406.2" y="512.9" width="45.90" height="133.10" fill="#cf374b" fill-opacity="0.25"/>
<rect x="481.9" y="602.9" width="25.00" height="43.10" fill="#3c8ce6" fill-opacity="0.25"/>
<rect x="565.9" y="614.0" width="26.30" height="32.00" fill="#28e628" fill-opacity="0.25"/>
</g>
<rect x="386.3" y="459.6" width="291.30" height="186.40" fill="none" stroke="#222" stroke-width="1.7"/>
<line x1="382.8" y1="524.4" x2="386.3" y2="524.4" stroke="#222" stroke-width="1.5"/>
<line x1="382.8" y1="584.9" x2="386.3" y2="584.9" stroke="#222" stroke-width="1.5"/>
<line x1="459.12" y1="646.0" x2="459.12" y2="649.5" stroke="#222" stroke-width="1.5"/>
<line x1="531.95" y1="646.0" x2="531.95" y2="649.5" stroke="#222" stroke-width="1.5"/>
<line x1="604.78" y1="646.0" x2="604.78" y2="649.5" stroke="#222" stroke-width="1.5"/>
<line x1="677.60" y1="646.0" x2="677.60" y2="649.5" stroke="#222" stroke-width="1.5"/>
<rect x="520.6" y="493.7" width="152.9" height="70.1" fill="#fff" stroke="#444" stroke-width="1.1"/>
<line x1="523.8" y1="501.7" x2="554.2" y2="501.7" fill="none" stroke="#333" stroke-width="1.15" stroke-linejoin="round"/>
<line x1="523.8" y1="515.1" x2="554.2" y2="515.1" fill="none" stroke="#ff1eff" stroke-width="1.0" stroke-dasharray="4,1.6,1.2,1.6"/>
<line x1="523.8" y1="528.5" x2="554.2" y2="528.5" fill="none" stroke="#8a8a8a" stroke-width="1.15"/>
<line x1="523.8" y1="542.3" x2="554.2" y2="542.3" fill="none" stroke="#ff1a14" stroke-width="1.2"/>
<line x1="523.8" y1="555.6" x2="554.2" y2="555.6" fill="none" stroke="#ff1a14" stroke-width="1.2" stroke-dasharray="3.6,4"/>
<clipPath id="rc3"><rect x="389.8" y="673.2" width="291.3" height="203.5999999999999"/></clipPath>
<g clip-path="url(#rc3)">
<path d="M389.8,804.58 L391.3,804.95 L392.8,805.34 L394.3,805.76 L395.8,806.2 L397.3,806.65 L398.8,807.13 L400.3,807.63 L401.8,808.15 L403.3,808.69 L404.8,809.25 L406.3,809.82 L407.8,810.41 L409.3,811.02 L410.8,811.64 L412.3,812.28 L413.8,812.94 L415.3,813.6 L416.8,814.28 L418.3,814.97 L419.8,815.67 L421.3,816.39 L422.8,817.11 L424.3,817.85 L425.8,818.59 L427.3,819.34 L428.8,820.1 L430.3,820.86 L431.8,821.64 L433.3,822.41 L434.8,823.2 L436.3,823.99 L437.8,824.78 L439.3,825.58 L440.8,826.39 L442.3,827.19 L443.8,828 L445.3,828.82 L446.8,829.64 L448.3,830.46 L449.8,831.28 L451.3,832.1 L452.8,832.93 L454.3,833.75 L455.8,834.57 L457.3,835.39 L458.8,836.2 L460.3,837 L461.8,837.8 L463.3,838.58 L464.8,839.36 L466.3,840.12 L467.8,840.87 L469.3,841.61 L470.8,842.33 L472.3,843.04 L473.8,843.73 L475.3,844.41 L476.8,845.08 L478.3,845.73 L479.8,846.37 L481.3,847 L482.8,847.61 L484.3,848.21 L485.8,848.8 L487.3,849.38 L488.8,849.94 L490.3,850.49 L491.8,851.03 L493.3,851.56 L494.8,852.08 L496.3,852.58 L497.8,853.07 L499.3,853.56 L500.8,854.03 L502.3,854.49 L503.8,854.94 L505.3,855.38 L506.8,855.81 L508.3,856.23 L509.8,856.63 L511.3,857.03 L512.8,857.42 L514.3,857.8 L515.8,858.17 L517.3,858.54 L518.8,858.89 L520.3,859.23 L521.8,859.57 L523.3,859.89 L524.8,860.21 L526.3,860.52 L527.8,860.82 L529.3,861.12 L530.8,861.4 L532.3,861.68 L533.8,861.96 L535.3,862.22 L536.8,862.48 L538.3,862.73 L539.8,862.97 L541.3,863.21 L542.8,863.44 L544.3,863.67 L545.8,863.89 L547.3,864.1 L548.8,864.31 L550.3,864.51 L551.8,864.7 L553.3,864.89 L554.8,865.08 L556.3,865.26 L557.8,865.44 L559.3,865.61 L560.8,865.77 L562.3,865.93 L563.8,866.09 L565.3,866.24 L566.8,866.39 L568.3,866.53 L569.8,866.67 L571.3,866.8 L572.8,866.93 L574.3,867.06 L575.8,867.18 L577.3,867.3 L578.8,867.42 L580.3,867.53 L581.8,867.63 L583.3,867.74 L584.8,867.84 L586.3,867.94 L587.8,868.03 L589.3,868.12 L590.8,868.21 L592.3,868.3 L593.8,868.38 L595.3,868.46 L596.8,868.54 L598.3,868.61 L599.8,868.69 L601.3,868.76 L602.8,868.83 L604.3,868.89 L605.8,868.96 L607.3,869.02 L608.8,869.08 L610.3,869.14 L611.8,869.2 L613.3,869.26 L614.8,869.31 L616.3,869.37 L617.8,869.42 L619.3,869.47 L620.8,869.52 L622.3,869.57 L623.8,869.62 L625.3,869.67 L626.8,869.72 L628.3,869.76 L629.8,869.81 L631.3,869.86 L632.8,869.9 L634.3,869.95 L635.8,870 L637.3,870.04 L638.8,870.09 L640.3,870.14 L641.8,870.18 L643.3,870.23 L644.8,870.28 L646.3,870.33 L647.8,870.38 L649.3,870.43 L650.8,870.48 L652.3,870.54 L653.8,870.59 L655.3,870.65 L656.8,870.7 L658.3,870.76 L659.8,870.82 L661.3,870.88 L662.8,870.94 L664.3,871.01 L665.8,871.08 L667.3,871.15 L668.8,871.22 L670.3,871.29 L671.8,871.37 L673.3,871.45 L674.8,871.53 L676.3,871.61 L677.8,871.7 L679.3,871.79 L680.8,871.88 L681.06,871.89" fill="none" stroke="#686868" stroke-width="1.3"/>
<path d="M389.8,808.97 L392.27,810.54 L395.41,811.63 L398.54,812.1 L401.68,812.57 L404.81,812.89 L407.95,813.2 L411.09,814.14 L414.22,815.24 L417.36,816.02 L420.49,816.81 L423.63,817.59 L426.77,818.38 L429.9,819.94 L433.04,821.51 L436.17,823.08 L439.31,823.86 L442.44,824.65 L445.58,826.22 L448.72,827.78 L451.85,828.25 L454.99,828.25 L458.12,830.13 L461.26,833.27 L464.39,835.62 L467.53,836.41 L470.67,837.19 L473.8,837.97 L476.94,839.23 L480.07,841.11 L485.01,849.2 L488.51,850.95 L492.02,852.18 L495.52,853.58 L499.02,855.33 L502.53,857.08 L506.03,858.84 L509.53,860.94 L513.04,862.34 L516.54,863.74 L520.05,864.09 L523.55,864.44 L530.56,864.97 L539.32,865.84 L548.08,866.72 L556.84,867.6 L565.6,868.47 L574.36,869.35 L583.12,870.22 L591.88,870.75 L599.6,871.82 L614.2,872.55 L628.8,873.14 L643.39,873.72 L657.99,874.31 L672.59,874.74 L681.06,875.04" fill="none" stroke="#ff1eff" stroke-width="1.5" stroke-dasharray="4,1.6,1.2,1.6"/>
<path d="M389.8,869.33 L390.08,864.63 L390.7,863.06 L391.33,863.84 L391.96,864.63 L392.59,863.06 L393.21,856.79 L393.84,841.11 L394.47,825.43 L395.09,812.89 L395.72,801.91 L396.35,794.07 L396.98,787.8 L397.6,783.1 L398.23,779.96 L398.86,776.83 L399.48,773.69 L400.11,772.12 L400.74,771.34 L401.37,768.99 L401.99,764.28 L402.62,759.58 L403.25,754.88 L403.87,751.74 L404.5,749.39 L405.13,748.6 L405.76,751.74 L406.38,756.44 L407.01,761.15 L407.64,765.85 L408.26,770.56 L408.89,775.26 L409.52,778.39 L410.15,780.75 L410.77,781.53 L411.4,780.75 L412.03,780.75 L412.65,781.53 L413.28,784.67 L413.91,790.94 L414.54,800.34 L415.16,809.75 L415.79,814.46 L416.42,809.75 L417.04,801.91 L417.67,797.21 L418.3,795.64 L418.93,800.34 L419.55,808.18 L420.18,812.89 L420.81,809.75 L421.43,803.48 L422.06,797.21 L422.69,794.07 L423.32,797.21 L423.94,808.18 L424.57,822.3 L425.2,828.57 L425.82,825.43 L426.45,819.16 L427.08,816.02 L427.71,819.16 L428.33,822.3 L428.96,819.16 L429.59,816.02 L430.21,820.73 L430.84,823.86 L431.47,819.16 L432.1,812.89 L432.72,808.18 L433.35,805.05 L433.98,803.48 L434.6,804.26 L435.23,805.05 L435.86,808.18 L436.49,812.1 L437.11,814.46 L437.74,813.67 L438.37,812.1 L438.99,812.57 L439.62,811.32 L440.25,805.05 L440.88,795.64 L441.5,787.8 L442.13,781.53 L442.76,779.96 L443.38,783.1 L444.01,794.07 L444.64,806.62 L445.27,819.16 L445.89,831.7 L446.52,828.57 L447.15,823.86 L447.77,825.43 L448.4,834.84 L449.03,847.38 L449.66,855.22 L450.28,850.52 L450.91,837.97 L451.54,828.57 L452.16,822.3 L452.79,819.16 L453.42,822.3 L454.05,825.43 L454.67,828.57 L455.3,823.86 L455.93,819.16 L456.56,816.02 L457.18,812.89 L457.81,811.32 L458.44,809.75 L459.06,808.97 L459.69,807.4 L460.32,806.62 L460.95,807.4 L461.57,809.75 L462.2,814.46 L462.83,820.73 L463.45,828.57 L464.08,833.27 L464.71,834.84 L465.34,836.41 L465.96,837.97 L466.59,839.54 L467.22,842.68 L467.84,847.38 L468.47,853.65 L469.1,858.36 L469.73,859.92 L470.35,860.24 L470.98,860.24 L471.61,859.92 L472.23,858.36 L472.86,855.22 L473.49,850.52 L474.12,845.81 L474.74,841.11 L475.37,837.97 L476,837.19 L476.62,837.97 L477.25,839.54 L477.88,837.97 L478.51,836.41 L479.13,837.19 L479.76,837.97 L480.39,836.41 L481.01,834.84 L481.64,833.27 L482.38,836.06 L483.26,832.56 L484.13,830.81 L485.01,829.05 L485.88,826.43 L486.76,829.05 L487.64,836.06 L488.51,843.07 L489.39,837.81 L490.26,832.56 L491.14,839.57 L492.02,846.57 L492.89,851.83 L493.77,857.08 L494.64,855.33 L495.52,850.08 L496.4,855.33 L497.27,862.34 L498.15,867.6 L499.02,866.72 L499.9,864.09 L500.78,864.97 L501.65,865.84 L502.53,864.09 L503.4,862.34 L504.28,862.34 L505.15,860.59 L506.03,858.84 L506.91,857.08 L507.78,855.33 L508.66,853.58 L509.53,851.83 L510.41,850.95 L511.29,850.08 L512.16,851.83 L513.04,853.58 L513.91,851.83 L514.79,853.58 L515.67,852.18 L516.54,852.7 L517.42,851.83 L518.29,852.18 L519.17,853.23 L520.05,855.33 L520.92,860.59 L521.8,864.09 L522.67,867.6 L523.55,870.22 L524.43,871.1 L525.3,871.98 L526.18,871.1 L527.05,871.1 L527.93,871.98 L528.81,871.1 L529.68,871.98 L530.56,872.85 L531.43,873.73 L532.31,874.25 L533.19,873.73 L534.06,873.2 L534.94,872.85 L535.81,871.98 L536.69,871.1 L537.57,869.7 L538.44,868.47 L539.32,868.47 L540.19,869 L541.07,869.35 L541.95,868.47 L542.82,867.6 L543.7,867.6 L544.57,867.95 L545.45,867.6 L546.33,867.6 L547.2,867.25 L548.08,867.6 L548.95,868.47 L549.83,869.35 L550.7,869 L551.58,868.47 L552.46,869.35 L553.33,870.22 L554.21,870.22 L555.08,869.7 L555.96,870.22 L556.84,869.35 L557.71,868.47 L558.59,867.6 L559.46,868.47 L560.34,868.47 L561.22,867.95 L562.09,867.25 L562.97,867.6 L563.84,867.25 L564.72,867.6 L565.6,867.25 L566.47,866.72 L567.35,865.84 L568.22,866.72 L569.1,867.6 L569.98,867.6 L570.85,865.84 L571.73,864.09 L572.6,862.34 L573.48,861.46 L574.36,861.99 L575.23,862.34 L576.11,861.46 L576.98,860.59 L577.86,860.94 L578.74,861.46 L579.61,860.59 L580.49,859.71 L581.36,860.24 L582.24,860.59 L583.12,858.84 L583.99,859.71 L584.87,861.46 L585.74,862.34 L586.62,861.99 L587.5,861.46 L588.37,862.34 L589.25,863.22 L590.12,863.74 L591,864.44 L591.88,864.97 L592.01,865.26 L593.76,868.18 L595.22,870.36 L596.68,871.39 L599.6,871.82 L602.52,872.26 L605.44,872.85 L608.36,873.72 L611.28,873.28 L614.2,873.72 L617.12,873.28 L620.04,872.55 L622.96,872.26 L625.88,872.55 L628.8,874.31 L631.72,875.77 L634.64,875.77 L637.55,875.77 L640.47,875.47 L643.39,874.74 L646.31,873.72 L649.23,872.55 L652.15,871.09 L653.61,870.36 L655.07,871.39 L657.99,870.36 L660.91,871.09 L663.83,871.39 L666.75,871.82 L669.67,874.01 L672.59,875.18 L675.51,875.47 L678.43,875.47 L681.06,875.18" fill="none" stroke="#000" stroke-width="1.7" stroke-linejoin="round"/>
<path d="M389.8,749.56 L391.3,749.92 L392.8,750.4 L394.3,751.01 L395.8,751.73 L397.3,752.56 L398.8,753.5 L400.3,754.54 L401.8,755.68 L403.3,756.9 L404.8,758.2 L406.3,759.58 L407.8,761.03 L409.3,762.54 L410.8,764.11 L412.3,765.74 L413.8,767.41 L415.3,769.12 L416.8,770.87 L418.3,772.64 L419.8,774.44 L421.3,776.26 L422.8,778.09 L424.3,779.92 L425.8,781.76 L427.3,783.58 L428.8,785.4 L430.3,787.19 L431.8,788.97 L433.3,790.72 L434.8,792.45 L436.3,794.15 L437.8,795.83 L439.3,797.48 L440.8,799.1 L442.3,800.69 L443.8,802.24 L445.3,803.76 L446.8,805.23 L448.3,806.65 L449.8,808.02 L451.3,809.34 L452.8,810.61 L454.3,811.83 L455.8,813.01 L457.3,814.15 L458.8,815.26 L460.3,816.33 L461.8,817.37 L463.3,818.38 L464.8,819.37 L466.3,820.34 L467.8,821.28 L469.3,822.21 L470.8,823.13 L472.3,824.02 L473.8,824.91 L475.3,825.77 L476.8,826.62 L478.3,827.46 L479.8,828.29 L481.3,829.1 L482.8,829.89 L484.3,830.68 L485.8,831.45 L487.3,832.2 L488.8,832.95 L490.3,833.68 L491.8,834.41 L493.3,835.12 L494.8,835.82 L496.3,836.51 L497.8,837.19 L499.3,837.87 L500.8,838.53 L502.3,839.18 L503.8,839.82 L505.3,840.45 L506.8,841.07 L508.3,841.68 L509.8,842.29 L511.3,842.88 L512.8,843.46 L514.3,844.03 L515.8,844.6 L517.3,845.15 L518.8,845.69 L520.3,846.23 L521.8,846.75 L523.3,847.27 L524.8,847.77 L526.3,848.27 L527.8,848.76 L529.3,849.24 L530.8,849.71 L532.3,850.17 L533.8,850.62 L535.3,851.06 L536.8,851.49 L538.3,851.91 L539.8,852.33 L541.3,852.73 L542.8,853.13 L544.3,853.52 L545.8,853.89 L547.3,854.26 L548.8,854.62 L550.3,854.98 L551.8,855.32 L553.3,855.66 L554.8,855.98 L556.3,856.3 L557.8,856.61 L559.3,856.91 L560.8,857.21 L562.3,857.5 L563.8,857.78 L565.3,858.05 L566.8,858.32 L568.3,858.58 L569.8,858.83 L571.3,859.07 L572.8,859.31 L574.3,859.54 L575.8,859.77 L577.3,859.99 L578.8,860.2 L580.3,860.41 L581.8,860.61 L583.3,860.81 L584.8,861 L586.3,861.19 L587.8,861.37 L589.3,861.54 L590.8,861.72 L592.3,861.88 L593.8,862.04 L595.3,862.2 L596.8,862.35 L598.3,862.5 L599.8,862.65 L601.3,862.79 L602.8,862.93 L604.3,863.06 L605.8,863.19 L607.3,863.32 L608.8,863.44 L610.3,863.56 L611.8,863.68 L613.3,863.79 L614.8,863.91 L616.3,864.02 L617.8,864.12 L619.3,864.23 L620.8,864.33 L622.3,864.44 L623.8,864.54 L625.3,864.63 L626.8,864.73 L628.3,864.83 L629.8,864.92 L631.3,865.01 L632.8,865.11 L634.3,865.2 L635.8,865.29 L637.3,865.38 L638.8,865.47 L640.3,865.56 L641.8,865.65 L643.3,865.74 L644.8,865.83 L646.3,865.93 L647.8,866.02 L649.3,866.11 L650.8,866.2 L652.3,866.3 L653.8,866.39 L655.3,866.49 L656.8,866.59 L658.3,866.69 L659.8,866.79 L661.3,866.89 L662.8,867 L664.3,867.1 L665.8,867.21 L667.3,867.32 L668.8,867.44 L670.3,867.56 L671.8,867.68 L673.3,867.8 L674.8,867.92 L676.3,868.05 L677.8,868.19 L679.3,868.32 L680.8,868.46 L681.06,868.49" fill="none" stroke="#ff1a14" stroke-width="1.8"/>
<path d="M389.8,725.86 L391.3,726.24 L392.8,726.82 L394.3,727.57 L395.8,728.5 L397.3,729.59 L398.8,730.83 L400.3,732.21 L401.8,733.72 L403.3,735.35 L404.8,737.09 L406.3,738.93 L407.8,740.85 L409.3,742.86 L410.8,744.93 L412.3,747.07 L413.8,749.25 L415.3,751.48 L416.8,753.74 L418.3,756.04 L419.8,758.36 L421.3,760.69 L422.8,763.03 L424.3,765.38 L425.8,767.72 L427.3,770.04 L428.8,772.35 L430.3,774.63 L431.8,776.89 L433.3,779.1 L434.8,781.27 L436.3,783.4 L437.8,785.48 L439.3,787.5 L440.8,789.47 L442.3,791.37 L443.8,793.21 L445.3,794.97 L446.8,796.66 L448.3,798.26 L449.8,799.79 L451.3,801.23 L452.8,802.59 L454.3,803.88 L455.8,805.12 L457.3,806.29 L458.8,807.41 L460.3,808.48 L461.8,809.51 L463.3,810.51 L464.8,811.48 L466.3,812.42 L467.8,813.35 L469.3,814.27 L470.8,815.18 L472.3,816.09 L473.8,816.99 L475.3,817.89 L476.8,818.8 L478.3,819.72 L479.8,820.65 L481.3,821.57 L482.8,822.5 L484.3,823.43 L485.8,824.36 L487.3,825.28 L488.8,826.18 L490.3,827.08 L491.8,827.97 L493.3,828.84 L494.8,829.7 L496.3,830.54 L497.8,831.36 L499.3,832.17 L500.8,832.96 L502.3,833.73 L503.8,834.48 L505.3,835.22 L506.8,835.94 L508.3,836.65 L509.8,837.34 L511.3,838.01 L512.8,838.67 L514.3,839.32 L515.8,839.95 L517.3,840.56 L518.8,841.16 L520.3,841.75 L521.8,842.32 L523.3,842.88 L524.8,843.43 L526.3,843.96 L527.8,844.48 L529.3,844.99 L530.8,845.49 L532.3,845.97 L533.8,846.44 L535.3,846.9 L536.8,847.35 L538.3,847.79 L539.8,848.21 L541.3,848.63 L542.8,849.03 L544.3,849.43 L545.8,849.81 L547.3,850.19 L548.8,850.55 L550.3,850.91 L551.8,851.26 L553.3,851.59 L554.8,851.92 L556.3,852.25 L557.8,852.56 L559.3,852.87 L560.8,853.16 L562.3,853.46 L563.8,853.74 L565.3,854.02 L566.8,854.29 L568.3,854.55 L569.8,854.81 L571.3,855.07 L572.8,855.31 L574.3,855.56 L575.8,855.79 L577.3,856.03 L578.8,856.26 L580.3,856.48 L581.8,856.7 L583.3,856.92 L584.8,857.13 L586.3,857.35 L587.8,857.55 L589.3,857.76 L590.8,857.96 L592.3,858.16 L593.8,858.36 L595.3,858.56 L596.8,858.76 L598.3,858.95 L599.8,859.14 L601.3,859.34 L602.8,859.53 L604.3,859.72 L605.8,859.92 L607.3,860.11 L608.8,860.3 L610.3,860.48 L611.8,860.67 L613.3,860.86 L614.8,861.04 L616.3,861.22 L617.8,861.41 L619.3,861.59 L620.8,861.77 L622.3,861.94 L623.8,862.12 L625.3,862.29 L626.8,862.46 L628.3,862.63 L629.8,862.8 L631.3,862.96 L632.8,863.12 L634.3,863.28 L635.8,863.44 L637.3,863.59 L638.8,863.74 L640.3,863.89 L641.8,864.04 L643.3,864.18 L644.8,864.32 L646.3,864.46 L647.8,864.59 L649.3,864.72 L650.8,864.85 L652.3,864.97 L653.8,865.09 L655.3,865.21 L656.8,865.32 L658.3,865.43 L659.8,865.53 L661.3,865.64 L662.8,865.73 L664.3,865.83 L665.8,865.91 L667.3,866 L668.8,866.08 L670.3,866.15 L671.8,866.22 L673.3,866.29 L674.8,866.35 L676.3,866.41 L677.8,866.46 L679.3,866.51 L680.8,866.55 L681.06,866.56" fill="none" stroke="#ff1a14" stroke-width="1.8" stroke-dasharray="6,5"/>
<rect x="437.7" y="762.7" width="26.40" height="114.10" fill="#cf374b" fill-opacity="0.25"/>
<rect x="481.2" y="815.9" width="38.50" height="60.90" fill="#3c8ce6" fill-opacity="0.25"/>
<rect x="570.0" y="846.6" width="20.50" height="30.20" fill="#28e628" fill-opacity="0.25"/>
</g>
<rect x="389.8" y="673.2" width="291.30" height="203.60" fill="none" stroke="#222" stroke-width="1.7"/>
<line x1="386.3" y1="694.3" x2="389.8" y2="694.3" stroke="#222" stroke-width="1.5"/>
<line x1="386.3" y1="755.2" x2="389.8" y2="755.2" stroke="#222" stroke-width="1.5"/>
<line x1="386.3" y1="816.1" x2="389.8" y2="816.1" stroke="#222" stroke-width="1.5"/>
<line x1="462.62" y1="876.8" x2="462.62" y2="880.3" stroke="#222" stroke-width="1.5"/>
<line x1="535.45" y1="876.8" x2="535.45" y2="880.3" stroke="#222" stroke-width="1.5"/>
<line x1="608.28" y1="876.8" x2="608.28" y2="880.3" stroke="#222" stroke-width="1.5"/>
<line x1="681.10" y1="876.8" x2="681.10" y2="880.3" stroke="#222" stroke-width="1.5"/>
<clipPath id="rc4"><rect x="388.0" y="903.8" width="291.6" height="201.60000000000014"/></clipPath>
<g clip-path="url(#rc4)">
<path d="M388,1041.18 L389.5,1041.56 L391,1041.97 L392.5,1042.41 L394,1042.88 L395.5,1043.38 L397,1043.91 L398.5,1044.46 L400,1045.05 L401.5,1045.65 L403,1046.28 L404.5,1046.93 L406,1047.61 L407.5,1048.3 L409,1049.01 L410.5,1049.74 L412,1050.49 L413.5,1051.25 L415,1052.02 L416.5,1052.81 L418,1053.61 L419.5,1054.41 L421,1055.23 L422.5,1056.06 L424,1056.89 L425.5,1057.73 L427,1058.57 L428.5,1059.41 L430,1060.26 L431.5,1061.1 L433,1061.95 L434.5,1062.8 L436,1063.64 L437.5,1064.48 L439,1065.32 L440.5,1066.16 L442,1066.99 L443.5,1067.81 L445,1068.63 L446.5,1069.44 L448,1070.24 L449.5,1071.04 L451,1071.82 L452.5,1072.59 L454,1073.35 L455.5,1074.1 L457,1074.83 L458.5,1075.55 L460,1076.26 L461.5,1076.95 L463,1077.62 L464.5,1078.27 L466,1078.91 L467.5,1079.52 L469,1080.12 L470.5,1080.7 L472,1081.25 L473.5,1081.79 L475,1082.31 L476.5,1082.82 L478,1083.31 L479.5,1083.78 L481,1084.23 L482.5,1084.68 L484,1085.11 L485.5,1085.52 L487,1085.92 L488.5,1086.31 L490,1086.69 L491.5,1087.06 L493,1087.42 L494.5,1087.78 L496,1088.12 L497.5,1088.45 L499,1088.78 L500.5,1089.1 L502,1089.41 L503.5,1089.71 L505,1090.01 L506.5,1090.3 L508,1090.58 L509.5,1090.86 L511,1091.13 L512.5,1091.39 L514,1091.65 L515.5,1091.9 L517,1092.14 L518.5,1092.38 L520,1092.61 L521.5,1092.84 L523,1093.06 L524.5,1093.27 L526,1093.48 L527.5,1093.68 L529,1093.88 L530.5,1094.08 L532,1094.26 L533.5,1094.45 L535,1094.63 L536.5,1094.8 L538,1094.97 L539.5,1095.14 L541,1095.3 L542.5,1095.46 L544,1095.61 L545.5,1095.76 L547,1095.91 L548.5,1096.05 L550,1096.19 L551.5,1096.33 L553,1096.46 L554.5,1096.6 L556,1096.72 L557.5,1096.85 L559,1096.97 L560.5,1097.09 L562,1097.2 L563.5,1097.31 L565,1097.42 L566.5,1097.53 L568,1097.63 L569.5,1097.73 L571,1097.83 L572.5,1097.93 L574,1098.02 L575.5,1098.11 L577,1098.2 L578.5,1098.29 L580,1098.37 L581.5,1098.46 L583,1098.54 L584.5,1098.61 L586,1098.69 L587.5,1098.76 L589,1098.84 L590.5,1098.91 L592,1098.97 L593.5,1099.04 L595,1099.1 L596.5,1099.17 L598,1099.23 L599.5,1099.29 L601,1099.35 L602.5,1099.4 L604,1099.46 L605.5,1099.51 L607,1099.56 L608.5,1099.61 L610,1099.66 L611.5,1099.71 L613,1099.76 L614.5,1099.81 L616,1099.85 L617.5,1099.9 L619,1099.94 L620.5,1099.99 L622,1100.03 L623.5,1100.07 L625,1100.11 L626.5,1100.15 L628,1100.19 L629.5,1100.23 L631,1100.27 L632.5,1100.31 L634,1100.34 L635.5,1100.38 L637,1100.42 L638.5,1100.46 L640,1100.49 L641.5,1100.53 L643,1100.57 L644.5,1100.61 L646,1100.64 L647.5,1100.68 L649,1100.72 L650.5,1100.76 L652,1100.79 L653.5,1100.83 L655,1100.87 L656.5,1100.91 L658,1100.95 L659.5,1100.99 L661,1101.03 L662.5,1101.08 L664,1101.12 L665.5,1101.16 L667,1101.21 L668.5,1101.25 L670,1101.3 L671.5,1101.34 L673,1101.39 L674.5,1101.44 L676,1101.49 L677.5,1101.54 L679,1101.6 L679.6,1101.62" fill="none" stroke="#686868" stroke-width="1.3"/>
<path d="M388,1039.17 L391.62,1040.82 L394.93,1042.48 L398.24,1043.8 L401.55,1044.96 L404.86,1046.61 L408.17,1048.27 L411.48,1049.92 L414.79,1051.58 L418.1,1053.23 L421.41,1054.89 L424.72,1056.54 L428.03,1058.2 L431.34,1059.85 L434.65,1061.51 L437.96,1063.16 L441.27,1065.32 L444.58,1067.3 L447.89,1068.96 L451.2,1070.61 L454.51,1072.27 L457.82,1073.92 L461.13,1075.58 L464.44,1077.23 L467.75,1078.06 L471.06,1078.89 L474.37,1079.22 L477.68,1079.72 L480.99,1080.21 L486.76,1083.07 L495.52,1086.22 L504.28,1088.85 L513.04,1090.95 L521.8,1092.7 L530.56,1094.11 L539.32,1095.33 L548.08,1096.38 L556.84,1097.44 L565.6,1098.31 L574.36,1099.19 L583.12,1099.71 L591.88,1100.24 L599.6,1101.09 L614.2,1101.82 L628.8,1102.26 L643.39,1102.7 L657.99,1103.14 L672.59,1103.43 L679.6,1103.58" fill="none" stroke="#ff1eff" stroke-width="1.5" stroke-dasharray="4,1.6,1.2,1.6"/>
<path d="M388.31,949.79 L388.97,947.31 L389.63,948.14 L390.3,953.1 L390.96,963.03 L391.62,974.62 L392.28,989.51 L392.94,1001.1 L393.61,1004.41 L394.27,997.79 L394.93,986.2 L395.59,974.62 L396.25,968 L396.92,968 L397.58,977.93 L398.24,997.79 L398.9,1019.3 L399.56,1035.86 L400.23,1042.48 L400.89,1039.17 L401.55,1038.34 L402.21,1042.48 L402.87,1049.1 L403.54,1057.37 L404.2,1062.34 L404.86,1062.34 L405.52,1052.41 L406.19,1035.86 L406.85,1022.62 L407.51,1025.93 L408.17,1039.17 L408.83,1052.41 L409.5,1060.68 L410.16,1057.37 L410.82,1047.44 L411.48,1042.48 L412.14,1042.48 L412.81,1040.82 L413.47,1039.17 L414.13,1035.86 L414.79,1029.24 L415.45,1025.93 L416.12,1032.55 L416.78,1042.48 L417.44,1049.1 L418.1,1052.41 L418.76,1055.72 L419.43,1050.75 L420.09,1047.44 L420.75,1050.75 L421.41,1054.06 L422.07,1052.41 L422.74,1049.1 L423.4,1047.44 L424.06,1044.96 L424.72,1044.13 L425.38,1049.1 L426.05,1055.72 L426.71,1059.03 L427.37,1060.68 L428.03,1061.51 L428.69,1063.99 L429.36,1067.3 L430.02,1070.61 L430.68,1073.92 L431.34,1076.41 L432,1073.92 L432.67,1068.96 L433.33,1065.65 L433.99,1063.99 L434.65,1062.34 L435.31,1055.72 L435.98,1044.13 L436.64,1035.86 L437.3,1027.58 L437.96,1019.3 L438.62,1012.68 L439.29,1006.06 L439.95,1004.41 L440.61,1005.24 L441.27,1004.41 L441.93,1001.1 L442.6,992.82 L443.26,982.89 L443.92,979.58 L444.58,981.24 L445.24,984.55 L445.91,989.51 L446.57,991.17 L447.23,984.55 L447.89,982.89 L448.56,987.86 L449.22,1006.06 L449.88,1032.55 L450.54,1052.41 L451.2,1068.96 L451.87,1077.23 L452.53,1073.92 L453.19,1070.61 L453.85,1072.27 L454.51,1077.23 L455.18,1082.2 L455.84,1083.03 L456.5,1080.54 L457.16,1078.89 L457.82,1077.23 L458.49,1075.58 L459.15,1073.92 L459.81,1072.27 L460.47,1075.58 L461.13,1073.92 L461.8,1072.27 L462.46,1070.61 L463.12,1072.27 L463.78,1077.23 L464.44,1082.2 L465.11,1085.51 L465.77,1087.99 L466.43,1085.51 L467.09,1080.54 L467.75,1078.89 L468.42,1078.06 L469.08,1080.54 L469.74,1083.03 L470.4,1081.37 L471.06,1078.89 L471.73,1077.23 L472.39,1078.89 L473.05,1078.06 L473.71,1077.23 L474.37,1078.06 L475.04,1078.89 L475.7,1077.23 L476.36,1078.06 L477.02,1078.89 L477.68,1079.72 L478.35,1078.89 L479.01,1078.06 L479.67,1078.56 L480.33,1078.89 L480.99,1079.72 L481.82,1079.22 L483.26,1079.57 L485.01,1078.69 L486.76,1079.57 L488.51,1080.44 L490.26,1079.57 L491.14,1077.81 L492.02,1074.31 L492.89,1072.56 L493.77,1073.43 L494.64,1079.57 L495.52,1086.57 L496.4,1090.08 L497.27,1089.2 L498.15,1088.33 L499.02,1089.2 L499.9,1090.08 L500.78,1089.2 L501.65,1089.73 L502.53,1090.43 L503.4,1090.95 L504.28,1090.08 L505.15,1088.33 L506.03,1085.7 L506.91,1083.95 L507.78,1083.95 L508.66,1084.82 L509.53,1083.07 L510.41,1084.82 L511.29,1089.2 L512.16,1091.83 L513.04,1092.7 L513.91,1091.83 L514.79,1090.95 L515.67,1091.83 L516.54,1092.18 L517.42,1092.7 L518.29,1093.58 L519.17,1094.46 L520.05,1095.33 L520.92,1095.68 L521.8,1095.33 L522.67,1096.21 L523.55,1097.08 L524.43,1097.96 L525.3,1098.49 L526.18,1098.84 L527.05,1099.19 L527.93,1099.71 L528.81,1100.24 L529.68,1099.71 L530.56,1098.84 L531.43,1097.96 L532.31,1097.44 L533.19,1097.08 L534.06,1096.21 L534.94,1095.68 L535.81,1095.33 L536.69,1094.98 L537.57,1095.33 L538.44,1096.21 L539.32,1095.33 L540.19,1094.46 L541.07,1094.98 L541.95,1095.68 L542.82,1096.73 L543.7,1097.96 L544.57,1099.19 L545.45,1100.59 L546.33,1101.46 L547.2,1102.34 L548.08,1103.22 L548.95,1103.74 L549.83,1104.09 L550.7,1103.22 L551.58,1102.34 L552.46,1101.46 L553.33,1100.94 L554.21,1100.24 L555.08,1099.71 L555.96,1099.19 L556.84,1098.84 L557.71,1098.49 L558.59,1097.96 L559.46,1097.08 L560.34,1096.73 L561.22,1096.21 L562.09,1095.68 L562.97,1095.33 L563.84,1096.21 L564.72,1097.08 L565.6,1096.73 L566.47,1095.68 L567.35,1096.21 L568.22,1097.08 L569.1,1097.44 L569.98,1097.08 L570.85,1096.21 L571.73,1095.33 L572.6,1094.98 L573.48,1094.63 L574.36,1094.46 L575.23,1094.46 L576.11,1094.98 L576.98,1095.33 L577.86,1095.68 L578.74,1096.21 L579.61,1097.08 L580.49,1097.96 L581.36,1098.49 L582.24,1098.84 L583.12,1099.71 L583.99,1102.34 L584.87,1104.09 L585.74,1104.97 L586.62,1104.97 L587.5,1104.44 L588.37,1103.74 L589.25,1103.22 L590.12,1103.74 L591,1103.22 L591.88,1102.69 L593.76,1103.28 L596.68,1102.85 L599.6,1102.26 L602.52,1101.09 L605.44,1099.64 L606.9,1098.91 L608.36,1099.64 L611.28,1100.36 L614.2,1101.09 L617.12,1103.28 L618.58,1104.74 L620.04,1102.55 L621.5,1098.18 L622.96,1093.07 L624.42,1090.15 L625.88,1089.42 L627.34,1089.12 L628.8,1089.12 L630.26,1089.42 L631.72,1090.15 L633.18,1091.61 L634.64,1095.26 L636.09,1099.64 L637.55,1102.55 L639.01,1103.28 L640.47,1103.28 L643.39,1102.26 L646.31,1101.39 L649.23,1102.55 L652.15,1104.31 L655.07,1103.28 L656.53,1101.09 L657.99,1099.64 L659.45,1099.34 L660.91,1100.36 L662.37,1099.64 L663.83,1098.91 L665.29,1100.36 L666.75,1101.82 L668.21,1102.55 L669.67,1102.85 L672.59,1103.28 L675.51,1103.72 L679.6,1103.28" fill="none" stroke="#000" stroke-width="1.7" stroke-linejoin="round"/>
<path d="M388,990.99 L389.5,991.33 L391,991.82 L392.5,992.47 L394,993.27 L395.5,994.2 L397,995.26 L398.5,996.44 L400,997.72 L401.5,999.11 L403,1000.59 L404.5,1002.15 L406,1003.78 L407.5,1005.48 L409,1007.23 L410.5,1009.03 L412,1010.87 L413.5,1012.74 L415,1014.63 L416.5,1016.54 L418,1018.46 L419.5,1020.37 L421,1022.28 L422.5,1024.17 L424,1026.04 L425.5,1027.88 L427,1029.69 L428.5,1031.44 L430,1033.15 L431.5,1034.8 L433,1036.41 L434.5,1037.97 L436,1039.48 L437.5,1040.95 L439,1042.38 L440.5,1043.76 L442,1045.1 L443.5,1046.41 L445,1047.67 L446.5,1048.9 L448,1050.1 L449.5,1051.26 L451,1052.38 L452.5,1053.48 L454,1054.55 L455.5,1055.58 L457,1056.59 L458.5,1057.57 L460,1058.53 L461.5,1059.47 L463,1060.38 L464.5,1061.27 L466,1062.14 L467.5,1062.99 L469,1063.83 L470.5,1064.65 L472,1065.45 L473.5,1066.24 L475,1067.01 L476.5,1067.76 L478,1068.5 L479.5,1069.23 L481,1069.93 L482.5,1070.63 L484,1071.31 L485.5,1071.97 L487,1072.62 L488.5,1073.25 L490,1073.88 L491.5,1074.48 L493,1075.08 L494.5,1075.66 L496,1076.23 L497.5,1076.78 L499,1077.32 L500.5,1077.85 L502,1078.37 L503.5,1078.87 L505,1079.37 L506.5,1079.85 L508,1080.32 L509.5,1080.78 L511,1081.23 L512.5,1081.66 L514,1082.09 L515.5,1082.51 L517,1082.91 L518.5,1083.31 L520,1083.69 L521.5,1084.07 L523,1084.44 L524.5,1084.8 L526,1085.15 L527.5,1085.49 L529,1085.82 L530.5,1086.14 L532,1086.46 L533.5,1086.77 L535,1087.07 L536.5,1087.36 L538,1087.65 L539.5,1087.92 L541,1088.2 L542.5,1088.46 L544,1088.72 L545.5,1088.97 L547,1089.22 L548.5,1089.46 L550,1089.7 L551.5,1089.93 L553,1090.15 L554.5,1090.37 L556,1090.58 L557.5,1090.79 L559,1091 L560.5,1091.2 L562,1091.39 L563.5,1091.58 L565,1091.76 L566.5,1091.94 L568,1092.12 L569.5,1092.29 L571,1092.46 L572.5,1092.62 L574,1092.78 L575.5,1092.94 L577,1093.09 L578.5,1093.23 L580,1093.38 L581.5,1093.52 L583,1093.65 L584.5,1093.79 L586,1093.92 L587.5,1094.04 L589,1094.17 L590.5,1094.29 L592,1094.41 L593.5,1094.52 L595,1094.63 L596.5,1094.74 L598,1094.85 L599.5,1094.96 L601,1095.06 L602.5,1095.16 L604,1095.26 L605.5,1095.35 L607,1095.45 L608.5,1095.54 L610,1095.63 L611.5,1095.72 L613,1095.81 L614.5,1095.89 L616,1095.98 L617.5,1096.06 L619,1096.14 L620.5,1096.22 L622,1096.3 L623.5,1096.38 L625,1096.46 L626.5,1096.54 L628,1096.61 L629.5,1096.69 L631,1096.76 L632.5,1096.84 L634,1096.92 L635.5,1096.99 L637,1097.07 L638.5,1097.14 L640,1097.22 L641.5,1097.29 L643,1097.37 L644.5,1097.44 L646,1097.52 L647.5,1097.6 L649,1097.68 L650.5,1097.76 L652,1097.84 L653.5,1097.92 L655,1098 L656.5,1098.08 L658,1098.17 L659.5,1098.25 L661,1098.34 L662.5,1098.43 L664,1098.52 L665.5,1098.61 L667,1098.71 L668.5,1098.8 L670,1098.9 L671.5,1099 L673,1099.11 L674.5,1099.21 L676,1099.32 L677.5,1099.43 L679,1099.54 L679.6,1099.59" fill="none" stroke="#ff1a14" stroke-width="1.8"/>
<path d="M388,969.84 L389.5,969.94 L391,970.23 L392.5,970.72 L394,971.39 L395.5,972.23 L397,973.24 L398.5,974.4 L400,975.7 L401.5,977.14 L403,978.71 L404.5,980.4 L406,982.2 L407.5,984.09 L409,986.08 L410.5,988.14 L412,990.27 L413.5,992.46 L415,994.69 L416.5,996.95 L418,999.23 L419.5,1001.52 L421,1003.8 L422.5,1006.07 L424,1008.31 L425.5,1010.5 L427,1012.64 L428.5,1014.72 L430,1016.72 L431.5,1018.66 L433,1020.54 L434.5,1022.35 L436,1024.11 L437.5,1025.83 L439,1027.49 L440.5,1029.12 L442,1030.71 L443.5,1032.27 L445,1033.8 L446.5,1035.32 L448,1036.81 L449.5,1038.29 L451,1039.75 L452.5,1041.2 L454,1042.62 L455.5,1044.02 L457,1045.39 L458.5,1046.74 L460,1048.05 L461.5,1049.33 L463,1050.58 L464.5,1051.78 L466,1052.95 L467.5,1054.07 L469,1055.14 L470.5,1056.17 L472,1057.16 L473.5,1058.1 L475,1059.01 L476.5,1059.88 L478,1060.72 L479.5,1061.53 L481,1062.3 L482.5,1063.05 L484,1063.77 L485.5,1064.47 L487,1065.14 L488.5,1065.8 L490,1066.44 L491.5,1067.07 L493,1067.68 L494.5,1068.28 L496,1068.88 L497.5,1069.46 L499,1070.04 L500.5,1070.62 L502,1071.18 L503.5,1071.74 L505,1072.29 L506.5,1072.84 L508,1073.37 L509.5,1073.9 L511,1074.43 L512.5,1074.94 L514,1075.45 L515.5,1075.95 L517,1076.45 L518.5,1076.93 L520,1077.41 L521.5,1077.89 L523,1078.35 L524.5,1078.81 L526,1079.26 L527.5,1079.7 L529,1080.14 L530.5,1080.57 L532,1080.99 L533.5,1081.4 L535,1081.81 L536.5,1082.21 L538,1082.6 L539.5,1082.98 L541,1083.36 L542.5,1083.73 L544,1084.09 L545.5,1084.44 L547,1084.79 L548.5,1085.12 L550,1085.46 L551.5,1085.78 L553,1086.1 L554.5,1086.4 L556,1086.71 L557.5,1087 L559,1087.29 L560.5,1087.57 L562,1087.84 L563.5,1088.11 L565,1088.37 L566.5,1088.63 L568,1088.88 L569.5,1089.12 L571,1089.36 L572.5,1089.59 L574,1089.81 L575.5,1090.03 L577,1090.25 L578.5,1090.46 L580,1090.66 L581.5,1090.86 L583,1091.05 L584.5,1091.24 L586,1091.43 L587.5,1091.61 L589,1091.78 L590.5,1091.95 L592,1092.12 L593.5,1092.28 L595,1092.44 L596.5,1092.59 L598,1092.74 L599.5,1092.89 L601,1093.03 L602.5,1093.17 L604,1093.3 L605.5,1093.44 L607,1093.57 L608.5,1093.69 L610,1093.81 L611.5,1093.94 L613,1094.05 L614.5,1094.17 L616,1094.28 L617.5,1094.39 L619,1094.5 L620.5,1094.61 L622,1094.71 L623.5,1094.81 L625,1094.91 L626.5,1095.01 L628,1095.11 L629.5,1095.21 L631,1095.3 L632.5,1095.39 L634,1095.49 L635.5,1095.58 L637,1095.67 L638.5,1095.76 L640,1095.85 L641.5,1095.94 L643,1096.03 L644.5,1096.11 L646,1096.2 L647.5,1096.29 L649,1096.38 L650.5,1096.47 L652,1096.56 L653.5,1096.65 L655,1096.74 L656.5,1096.83 L658,1096.92 L659.5,1097.01 L661,1097.11 L662.5,1097.2 L664,1097.3 L665.5,1097.39 L667,1097.49 L668.5,1097.59 L670,1097.69 L671.5,1097.8 L673,1097.91 L674.5,1098.01 L676,1098.12 L677.5,1098.24 L679,1098.35 L679.6,1098.4" fill="none" stroke="#ff1a14" stroke-width="1.8" stroke-dasharray="6,5"/>
<rect x="433.0" y="966.7" width="26.80" height="138.70" fill="#cf374b" fill-opacity="0.25"/>
<rect x="487.1" y="1045.1" width="27.20" height="60.30" fill="#3c8ce6" fill-opacity="0.25"/>
<rect x="619.3" y="1074.1" width="20.90" height="31.30" fill="#28e628" fill-opacity="0.25"/>
</g>
<rect x="388.0" y="903.8" width="291.60" height="201.60" fill="none" stroke="#222" stroke-width="1.7"/>
<line x1="384.5" y1="935.4" x2="388.0" y2="935.4" stroke="#222" stroke-width="1.5"/>
<line x1="384.5" y1="1019.8" x2="388.0" y2="1019.8" stroke="#222" stroke-width="1.5"/>
<line x1="460.90" y1="1105.4" x2="460.90" y2="1108.9" stroke="#222" stroke-width="1.5"/>
<line x1="533.80" y1="1105.4" x2="533.80" y2="1108.9" stroke="#222" stroke-width="1.5"/>
<line x1="606.70" y1="1105.4" x2="606.70" y2="1108.9" stroke="#222" stroke-width="1.5"/>
<line x1="679.60" y1="1105.4" x2="679.60" y2="1108.9" stroke="#222" stroke-width="1.5"/>
<text x="35.10" y="10.90" font-size="17.5" text-anchor="end" fill="#111">8</text>
<text x="35.10" y="59.90" font-size="17.5" text-anchor="end" fill="#111">4</text>
<text x="35.10" y="108.90" font-size="17.5" text-anchor="end" fill="#111">0</text>
<text x="34.60" y="157.45" font-size="17.5" text-anchor="end" fill="#111">-4</text>
<text x="35.60" y="205.40" font-size="17.5" text-anchor="end" fill="#111">-8</text>
<text x="40.05" y="218.10" font-size="17.5" text-anchor="middle" fill="#111">0</text>
<text x="96.22" y="218.33" font-size="17.5" text-anchor="middle" fill="#111">2</text>
<text x="152.44" y="218.33" font-size="17.5" text-anchor="middle" fill="#111">4</text>
<text x="208.66" y="218.33" font-size="17.5" text-anchor="middle" fill="#111">6</text>
<text x="264.88" y="218.33" font-size="17.5" text-anchor="middle" fill="#111">8</text>
<text x="321.80" y="218.55" font-size="17.5" text-anchor="middle" fill="#111">10</text>
<text x="43.50" y="23.10" font-size="18" text-anchor="start" fill="#111">(a)</text>
<text x="316.50" y="22.00" font-size="17.5" text-anchor="end" fill="#111">D1</text>
<text transform="translate(15.60,101.35) rotate(-90)" font-size="18.4" text-anchor="middle" fill="#111">&#948;<tspan font-size="10.8" dy="-6.6">18</tspan><tspan dy="6.6">O anomaly (&#8240;)</tspan></text>
<text x="36.70" y="277.50" font-size="17.5" text-anchor="end" fill="#111">5</text>
<text x="36.70" y="332.10" font-size="17.5" text-anchor="end" fill="#111">0</text>
<text x="36.70" y="386.70" font-size="17.5" text-anchor="end" fill="#111">-5</text>
<text x="36.70" y="441.30" font-size="17.5" text-anchor="end" fill="#111">-10</text>
<text x="40.90" y="453.50" font-size="17.5" text-anchor="middle" fill="#111">10</text>
<text x="98.20" y="453.45" font-size="17.5" text-anchor="middle" fill="#111">12</text>
<text x="154.40" y="453.45" font-size="17.5" text-anchor="middle" fill="#111">14</text>
<text x="210.60" y="453.45" font-size="17.5" text-anchor="middle" fill="#111">16</text>
<text x="266.80" y="453.45" font-size="17.5" text-anchor="middle" fill="#111">18</text>
<text x="321.50" y="453.40" font-size="17.5" text-anchor="middle" fill="#111">20</text>
<text x="43.00" y="246.10" font-size="18" text-anchor="start" fill="#111">(b)</text>
<text x="318.50" y="243.00" font-size="17.5" text-anchor="end" fill="#111">D2</text>
<text transform="translate(15.95,321.50) rotate(-90)" font-size="18.4" text-anchor="middle" fill="#111">&#948;<tspan font-size="10.8" dy="-6.6">18</tspan><tspan dy="6.6">O anomaly (&#8240;)</tspan></text>
<text x="38.40" y="510.40" font-size="17.5" text-anchor="end" fill="#111">4</text>
<text x="38.40" y="558.70" font-size="17.5" text-anchor="end" fill="#111">0</text>
<text x="38.40" y="607.00" font-size="17.5" text-anchor="end" fill="#111">-4</text>
<text x="43.45" y="664.30" font-size="17.5" text-anchor="middle" fill="#111">20</text>
<text x="99.94" y="664.52" font-size="17.5" text-anchor="middle" fill="#111">22</text>
<text x="156.18" y="664.52" font-size="17.5" text-anchor="middle" fill="#111">24</text>
<text x="212.42" y="664.52" font-size="17.5" text-anchor="middle" fill="#111">26</text>
<text x="268.66" y="664.52" font-size="17.5" text-anchor="middle" fill="#111">28</text>
<text x="324.10" y="664.75" font-size="17.5" text-anchor="middle" fill="#111">30</text>
<text x="45.00" y="474.60" font-size="18" text-anchor="start" fill="#111">(c)</text>
<text x="320.00" y="474.00" font-size="17.5" text-anchor="end" fill="#111">D3</text>
<text transform="translate(15.95,547.20) rotate(-90)" font-size="18.4" text-anchor="middle" fill="#111">&#948;<tspan font-size="10.8" dy="-6.6">18</tspan><tspan dy="6.6">O anomaly (&#8240;)</tspan></text>
<text x="36.30" y="703.10" font-size="17.5" text-anchor="end" fill="#111">5</text>
<text x="36.30" y="761.20" font-size="17.5" text-anchor="end" fill="#111">0</text>
<text x="36.30" y="819.90" font-size="17.5" text-anchor="end" fill="#111">-5</text>
<text x="36.30" y="879.20" font-size="17.5" text-anchor="end" fill="#111">-10</text>
<text x="42.15" y="890.25" font-size="17.5" text-anchor="middle" fill="#111">30</text>
<text x="98.10" y="890.25" font-size="17.5" text-anchor="middle" fill="#111">32</text>
<text x="154.60" y="890.25" font-size="17.5" text-anchor="middle" fill="#111">34</text>
<text x="211.10" y="890.25" font-size="17.5" text-anchor="middle" fill="#111">36</text>
<text x="267.60" y="890.25" font-size="17.5" text-anchor="middle" fill="#111">38</text>
<text x="323.80" y="890.25" font-size="17.5" text-anchor="middle" fill="#111">40</text>
<text x="42.50" y="691.60" font-size="18" text-anchor="start" fill="#111">(d)</text>
<text x="320.50" y="689.00" font-size="17.5" text-anchor="end" fill="#111">D4</text>
<text transform="translate(15.95,772.15) rotate(-90)" font-size="18.4" text-anchor="middle" fill="#111">&#948;<tspan font-size="10.8" dy="-6.6">18</tspan><tspan dy="6.6">O anomaly (&#8240;)</tspan></text>
<text x="34.40" y="908.50" font-size="17.5" text-anchor="end" fill="#111">5</text>
<text x="34.40" y="993.90" font-size="17.5" text-anchor="end" fill="#111">0</text>
<text x="34.40" y="1079.30" font-size="17.5" text-anchor="end" fill="#111">-5</text>
<text x="39.70" y="1124.70" font-size="17.5" text-anchor="middle" fill="#111">40</text>
<text x="95.96" y="1124.70" font-size="17.5" text-anchor="middle" fill="#111">42</text>
<text x="150.82" y="1124.60" font-size="17.5" text-anchor="middle" fill="#111">44</text>
<text x="208.48" y="1124.70" font-size="17.5" text-anchor="middle" fill="#111">46</text>
<text x="264.74" y="1124.70" font-size="17.5" text-anchor="middle" fill="#111">48</text>
<text x="320.40" y="1124.80" font-size="17.5" text-anchor="middle" fill="#111">50</text>
<text x="43.50" y="919.60" font-size="18" text-anchor="start" fill="#111">(e)</text>
<text x="318.00" y="917.00" font-size="17.5" text-anchor="end" fill="#111">D5</text>
<text transform="translate(15.70,999.30) rotate(-90)" font-size="18.4" text-anchor="middle" fill="#111">&#948;<tspan font-size="10.8" dy="-6.6">18</tspan><tspan dy="6.6">O anomaly (&#8240;)</tspan></text>
<text x="181.70" y="1143.90" font-size="18.5" text-anchor="middle" fill="#111">Depth (m)</text>
<text x="380.65" y="45.55" font-size="17.5" text-anchor="end" fill="#111">30</text>
<text x="380.70" y="97.90" font-size="17.5" text-anchor="end" fill="#111">20</text>
<text x="380.67" y="151.00" font-size="17.5" text-anchor="end" fill="#111">10</text>
<text x="380.67" y="204.10" font-size="17.5" text-anchor="end" fill="#111">0</text>
<text x="387.20" y="216.25" font-size="17.5" text-anchor="middle" fill="#111">0</text>
<text x="460.25" y="216.33" font-size="17.5" text-anchor="middle" fill="#111">2</text>
<text x="533.10" y="216.33" font-size="17.5" text-anchor="middle" fill="#111">4</text>
<text x="605.95" y="216.33" font-size="17.5" text-anchor="middle" fill="#111">6</text>
<text x="678.55" y="216.40" font-size="17.5" text-anchor="middle" fill="#111">8</text>
<text x="392.00" y="25.60" font-size="18" text-anchor="start" fill="#111">(f)</text>
<text x="674.50" y="20.50" font-size="17.5" text-anchor="end" fill="#111">D1</text>
<text transform="translate(353.75,91.85) rotate(-90)" font-size="17.5" text-anchor="middle" fill="#111">Power</text>
<text x="430.40" y="87.90" font-size="12" text-anchor="middle" font-weight="bold" fill="#000">1.1</text>
<text x="443.70" y="123.50" font-size="12" text-anchor="middle" font-weight="bold" fill="#000">1.3</text>
<text x="451.70" y="142.80" font-size="12" text-anchor="middle" font-weight="bold" fill="#000">1.5</text>
<text x="511.95" y="167.30" font-size="12" text-anchor="middle" font-weight="bold" fill="#000">3.4</text>
<text x="623.65" y="185.20" font-size="12" text-anchor="middle" font-weight="bold" fill="#000">6.5</text>
<text x="381.40" y="255.40" font-size="17.5" text-anchor="end" fill="#111">30</text>
<text x="381.40" y="316.00" font-size="17.5" text-anchor="end" fill="#111">20</text>
<text x="381.40" y="376.60" font-size="17.5" text-anchor="end" fill="#111">10</text>
<text x="381.40" y="437.20" font-size="17.5" text-anchor="end" fill="#111">0</text>
<text x="388.00" y="451.15" font-size="17.5" text-anchor="middle" fill="#111">0</text>
<text x="461.05" y="451.25" font-size="17.5" text-anchor="middle" fill="#111">2</text>
<text x="533.90" y="451.25" font-size="17.5" text-anchor="middle" fill="#111">4</text>
<text x="606.75" y="451.25" font-size="17.5" text-anchor="middle" fill="#111">6</text>
<text x="679.40" y="451.35" font-size="17.5" text-anchor="middle" fill="#111">8</text>
<text x="391.00" y="243.60" font-size="18" text-anchor="start" fill="#111">(g)</text>
<text x="673.00" y="246.50" font-size="17.5" text-anchor="end" fill="#111">D2</text>
<text transform="translate(354.90,325.50) rotate(-90)" font-size="17.5" text-anchor="middle" fill="#111">Power</text>
<text x="434.45" y="320.60" font-size="12" text-anchor="middle" font-weight="bold" fill="#000">1.2</text>
<text x="462.20" y="346.10" font-size="12" text-anchor="middle" font-weight="bold" fill="#000">2</text>
<text x="485.75" y="388.60" font-size="12" text-anchor="middle" font-weight="bold" fill="#000">2.5</text>
<text x="592.00" y="414.40" font-size="12" text-anchor="middle" font-weight="bold" fill="#000">5.7</text>
<text x="618.90" y="414.40" font-size="12" text-anchor="middle" font-weight="bold" fill="#000">6.3</text>
<text x="379.50" y="469.90" font-size="17.5" text-anchor="end" fill="#111">30</text>
<text x="379.50" y="530.30" font-size="17.5" text-anchor="end" fill="#111">20</text>
<text x="379.50" y="590.80" font-size="17.5" text-anchor="end" fill="#111">10</text>
<text x="379.50" y="651.20" font-size="17.5" text-anchor="end" fill="#111">0</text>
<text x="386.15" y="664.80" font-size="17.5" text-anchor="middle" fill="#111">0</text>
<text x="459.12" y="664.52" font-size="17.5" text-anchor="middle" fill="#111">2</text>
<text x="531.95" y="664.52" font-size="17.5" text-anchor="middle" fill="#111">4</text>
<text x="604.78" y="664.52" font-size="17.5" text-anchor="middle" fill="#111">6</text>
<text x="677.85" y="664.25" font-size="17.5" text-anchor="middle" fill="#111">8</text>
<text x="388.00" y="481.60" font-size="18" text-anchor="start" fill="#111">(h)</text>
<text x="671.00" y="481.50" font-size="17.5" text-anchor="end" fill="#111">D3</text>
<text transform="translate(352.20,539.50) rotate(-90)" font-size="17.5" text-anchor="middle" fill="#111">Power</text>
<text x="410.20" y="516.40" font-size="12" text-anchor="middle" font-weight="bold" fill="#000">0.7</text>
<text x="426.35" y="558.40" font-size="12" text-anchor="middle" font-weight="bold" fill="#000">0.9</text>
<text x="451.60" y="589.70" font-size="12" text-anchor="middle" font-weight="bold" fill="#000">1.8</text>
<text x="485.60" y="603.20" font-size="12" text-anchor="middle" font-weight="bold" fill="#000">2.7</text>
<text x="509.80" y="611.40" font-size="12" text-anchor="middle" font-weight="bold" fill="#000">3.2</text>
<text x="565.70" y="631.10" font-size="12" text-anchor="middle" font-weight="bold" fill="#000">4.9</text>
<text x="592.20" y="634.10" font-size="12" text-anchor="middle" font-weight="bold" fill="#000">5.6</text>
<text x="557.20" y="506.70" font-size="12" text-anchor="start" fill="#111">Power</text>
<text x="558.20" y="520.40" font-size="12" text-anchor="start" fill="#111">20% median-smoothed</text>
<text x="557.00" y="532.80" font-size="12" text-anchor="start" fill="#111">median</text>
<text x="557.30" y="545.60" font-size="12" text-anchor="start" fill="#111">90%</text>
<text x="557.30" y="559.30" font-size="12" text-anchor="start" fill="#111">95%</text>
<text x="383.95" y="700.20" font-size="17.5" text-anchor="end" fill="#111">30</text>
<text x="383.95" y="761.10" font-size="17.5" text-anchor="end" fill="#111">20</text>
<text x="383.95" y="822.00" font-size="17.5" text-anchor="end" fill="#111">10</text>
<text x="383.95" y="882.70" font-size="17.5" text-anchor="end" fill="#111">0</text>
<text x="388.90" y="894.85" font-size="17.5" text-anchor="middle" fill="#111">0</text>
<text x="462.62" y="894.85" font-size="17.5" text-anchor="middle" fill="#111">2</text>
<text x="535.45" y="894.85" font-size="17.5" text-anchor="middle" fill="#111">4</text>
<text x="608.28" y="894.85" font-size="17.5" text-anchor="middle" fill="#111">6</text>
<text x="680.60" y="894.85" font-size="17.5" text-anchor="middle" fill="#111">8</text>
<text x="392.00" y="693.10" font-size="18" text-anchor="start" fill="#111">(i)</text>
<text x="674.00" y="694.50" font-size="17.5" text-anchor="end" fill="#111">D4</text>
<text transform="translate(355.90,771.00) rotate(-90)" font-size="17.5" text-anchor="middle" fill="#111">Power</text>
<text x="442.95" y="777.40" font-size="12" text-anchor="middle" font-weight="bold" fill="#000">1.5</text>
<text x="461.00" y="804.80" font-size="12" text-anchor="middle" font-weight="bold" fill="#000">2</text>
<text x="487.45" y="824.40" font-size="12" text-anchor="middle" font-weight="bold" fill="#000">2.6</text>
<text x="522.00" y="851.20" font-size="12" text-anchor="middle" font-weight="bold" fill="#000">3.5</text>
<text x="578.80" y="854.70" font-size="12" text-anchor="middle" font-weight="bold" fill="#000">5.4</text>
<text x="380.85" y="941.30" font-size="17.5" text-anchor="end" fill="#111">20</text>
<text x="380.85" y="1025.70" font-size="17.5" text-anchor="end" fill="#111">10</text>
<text x="380.85" y="1111.15" font-size="17.5" text-anchor="end" fill="#111">0</text>
<text x="387.80" y="1123.60" font-size="17.5" text-anchor="middle" fill="#111">0</text>
<text x="460.90" y="1123.60" font-size="17.5" text-anchor="middle" fill="#111">2</text>
<text x="533.80" y="1123.60" font-size="17.5" text-anchor="middle" fill="#111">4</text>
<text x="606.70" y="1123.60" font-size="17.5" text-anchor="middle" fill="#111">6</text>
<text x="679.60" y="1123.60" font-size="17.5" text-anchor="middle" fill="#111">8</text>
<text x="391.50" y="921.10" font-size="18" text-anchor="start" fill="#111">(j)</text>
<text x="671.00" y="922.50" font-size="17.5" text-anchor="end" fill="#111">D5</text>
<text transform="translate(354.20,999.60) rotate(-90)" font-size="17.5" text-anchor="middle" fill="#111">Power</text>
<text x="443.85" y="974.70" font-size="12" text-anchor="middle" font-weight="bold" fill="#000">1.5</text>
<text x="492.35" y="1068.00" font-size="12" text-anchor="middle" font-weight="bold" fill="#000">2.9</text>
<text x="513.55" y="1081.60" font-size="12" text-anchor="middle" font-weight="bold" fill="#000">3.4</text>
<text x="629.50" y="1085.60" font-size="12" text-anchor="middle" font-weight="bold" fill="#000">6.6</text>
<text x="544.10" y="1142.35" font-size="18.5" text-anchor="middle" fill="#111">Frequency (cycles/m)</text>
</svg>
</body></html>
